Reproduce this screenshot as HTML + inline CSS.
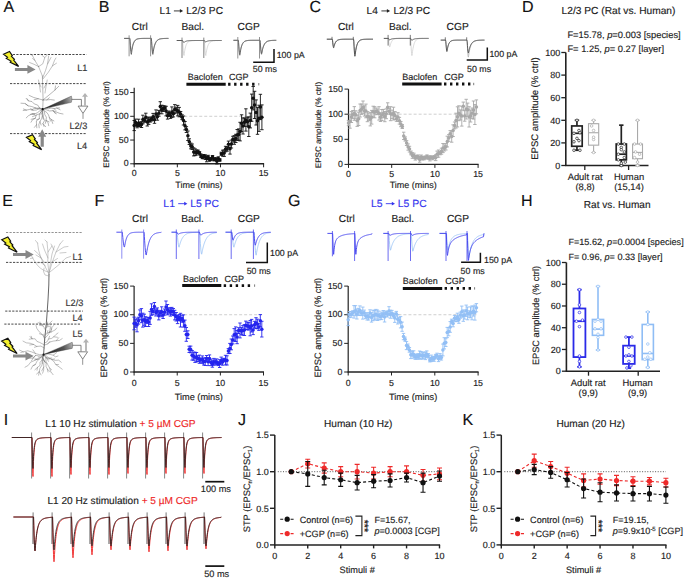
<!DOCTYPE html>
<html><head><meta charset="utf-8"><style>
html,body{margin:0;padding:0;background:#fff;}
svg{display:block;font-family:"Liberation Sans", sans-serif;text-rendering:geometricPrecision;}
</style></head><body>
<svg width="685" height="578" viewBox="0 0 685 578">
<rect width="685" height="578" fill="#fff"/>
<text x="3.50" y="12.40" font-size="16" fill="#111" stroke="#111" stroke-width="0.15" text-anchor="start" >A</text>
<text x="98.80" y="12.40" font-size="16" fill="#111" stroke="#111" stroke-width="0.15" text-anchor="start" >B</text>
<text x="309.60" y="12.40" font-size="16" fill="#111" stroke="#111" stroke-width="0.15" text-anchor="start" >C</text>
<text x="521.90" y="12.40" font-size="16" fill="#111" stroke="#111" stroke-width="0.15" text-anchor="start" >D</text>
<text x="2.20" y="205.90" font-size="16" fill="#111" stroke="#111" stroke-width="0.15" text-anchor="start" >E</text>
<text x="94.50" y="205.90" font-size="16" fill="#111" stroke="#111" stroke-width="0.15" text-anchor="start" >F</text>
<text x="287.90" y="205.90" font-size="16" fill="#111" stroke="#111" stroke-width="0.15" text-anchor="start" >G</text>
<text x="521.00" y="205.90" font-size="16" fill="#111" stroke="#111" stroke-width="0.15" text-anchor="start" >H</text>
<text x="3.80" y="425.00" font-size="16" fill="#111" stroke="#111" stroke-width="0.15" text-anchor="start" >I</text>
<text x="237.90" y="425.00" font-size="16" fill="#111" stroke="#111" stroke-width="0.15" text-anchor="start" >J</text>
<text x="462.50" y="425.20" font-size="16" fill="#111" stroke="#111" stroke-width="0.15" text-anchor="start" >K</text>
<text x="159.58" y="14.30" font-size="10.2" fill="#222" stroke="#222" stroke-width="0.15" text-anchor="start" >L1</text>
<line x1="173.90" y1="10.93" x2="180.60" y2="10.93" stroke="#222" stroke-width="0.9" />
<polygon points="179.90,9.03 183.10,10.93 179.90,12.83" fill="#222"/>
<text x="186.18" y="14.30" font-size="10.2" fill="#222" stroke="#222" stroke-width="0.15" text-anchor="start" >L2/3 PC</text>
<text x="131.80" y="30.20" font-size="10.2" fill="#222" stroke="#222" stroke-width="0.15" text-anchor="start" >Ctrl</text>
<text x="181.50" y="30.20" font-size="10.2" fill="#222" stroke="#222" stroke-width="0.15" text-anchor="start" >Bacl.</text>
<text x="237.60" y="30.20" font-size="10.2" fill="#222" stroke="#222" stroke-width="0.15" text-anchor="start" >CGP</text>
<path d="M124.10,38.40 L129.10,38.40 L129.35,38.40 L129.60,38.40 L129.85,38.40 L130.10,41.10 L130.35,44.30 L130.60,47.10 L130.85,49.30 L131.10,50.76 L131.35,51.38 L131.60,50.16 L131.85,48.78 L132.10,47.56 L132.35,46.48 L132.60,45.53 L132.85,44.70 L133.10,43.96 L133.35,43.30 L133.60,42.73 L133.85,42.22 L134.10,41.77 L134.35,41.37 L134.60,41.02 L134.85,40.72 L135.10,40.44 L135.35,40.20 L135.60,39.99 L135.85,39.80 L136.10,39.64 L136.35,39.49 L136.60,39.37 L136.85,39.25 L137.10,39.15 L137.35,39.06 L137.60,38.99 L137.85,38.92 L138.10,38.86 L138.35,38.80 L138.60,38.76 L138.85,38.71 L139.10,38.68 L139.35,38.64 L139.60,38.62 L139.85,38.59 L140.10,38.57 L140.35,38.55 L140.60,38.53 L140.85,38.52 L141.10,38.50 L141.35,38.49 L141.60,38.48 L141.85,38.47 L142.10,38.46 L142.35,38.45 L142.60,38.45 L142.85,38.44 L143.10,38.44 L143.35,38.43 L143.60,38.43 L143.85,38.43 L144.10,38.42 L144.35,38.42 L144.60,38.42 L144.85,38.42 L145.10,38.41 L145.35,38.41 L145.60,38.41 L145.85,38.41 L146.10,38.41 L146.35,38.41 L146.60,38.41 L146.85,38.41 L147.10,38.41 L147.35,38.40 L147.60,38.40 L147.85,38.40 L148.10,38.40 L148.35,38.40 L148.60,38.40 L148.85,38.40 L149.10,38.40 L149.35,38.40 L149.60,38.40 L149.85,38.40 L150.10,38.40 L150.60,38.40 L150.85,38.40 L151.10,38.40 L151.35,38.40 L151.60,41.31 L151.85,44.76 L152.10,47.77 L152.35,50.14 L152.60,51.71 L152.85,52.38 L153.10,51.23 L153.35,49.91 L153.60,48.73 L153.85,47.66 L154.10,46.71 L154.35,45.85 L154.60,45.09 L154.85,44.40 L155.10,43.78 L155.35,43.23 L155.60,42.73 L155.85,42.28 L156.10,41.88 L156.35,41.52 L156.60,41.20 L156.85,40.91 L157.10,40.65 L157.35,40.42 L157.60,40.21 L157.85,40.03 L158.10,39.86 L158.35,39.71 L158.60,39.57 L158.85,39.45 L159.10,39.34 L159.35,39.25 L159.60,39.16 L159.85,39.08 L160.10,39.01 L160.35,38.95 L160.60,38.89 L160.85,38.84 L161.10,38.80 L161.35,38.76 L161.60,38.72 L161.85,38.69 L162.10,38.66 L162.35,38.63 L162.60,38.61 L162.85,38.59 L163.10,38.57 L163.35,38.55 L163.60,38.53 L163.85,38.52 L164.10,38.51 L164.35,38.50 L164.60,38.49 L164.85,38.48 L165.10,38.47 L165.35,38.46 L165.60,38.46 L165.85,38.45 L166.10,38.45 L166.35,38.44 L166.60,38.44 L166.85,38.43 L167.10,38.43 L167.35,38.43 L167.60,38.42 L167.85,38.42 L168.10,38.42 L168.50,38.40" stroke="#999" stroke-width="0.8" fill="none" stroke-linejoin="round"/>
<path d="M124.10,38.40 L129.10,38.40 L129.35,38.40 L129.60,38.40 L129.85,38.40 L130.10,41.73 L130.35,45.66 L130.60,49.11 L130.85,51.82 L131.10,53.62 L131.35,54.38 L131.60,52.72 L131.85,50.86 L132.10,49.24 L132.35,47.84 L132.60,46.61 L132.85,45.55 L133.10,44.62 L133.35,43.82 L133.60,43.11 L133.85,42.50 L134.10,41.97 L134.35,41.51 L134.60,41.10 L134.85,40.75 L135.10,40.45 L135.35,40.18 L135.60,39.95 L135.85,39.75 L136.10,39.58 L136.35,39.42 L136.60,39.29 L136.85,39.17 L137.10,39.07 L137.35,38.99 L137.60,38.91 L137.85,38.84 L138.10,38.79 L138.35,38.74 L138.60,38.69 L138.85,38.66 L139.10,38.62 L139.35,38.59 L139.60,38.57 L139.85,38.55 L140.10,38.53 L140.35,38.51 L140.60,38.50 L140.85,38.48 L141.10,38.47 L141.35,38.46 L141.60,38.46 L141.85,38.45 L142.10,38.44 L142.35,38.44 L142.60,38.43 L142.85,38.43 L143.10,38.42 L143.35,38.42 L143.60,38.42 L143.85,38.42 L144.10,38.41 L144.35,38.41 L144.60,38.41 L144.85,38.41 L145.10,38.41 L145.35,38.41 L145.60,38.41 L145.85,38.41 L146.10,38.40 L146.35,38.40 L146.60,38.40 L146.85,38.40 L147.10,38.40 L147.35,38.40 L147.60,38.40 L147.85,38.40 L148.10,38.40 L148.35,38.40 L148.60,38.40 L148.85,38.40 L149.10,38.40 L149.35,38.40 L149.60,38.40 L149.85,38.40 L150.10,38.40 L150.60,38.40 L150.85,38.40 L151.10,38.40 L151.35,38.40 L151.60,41.73 L151.85,45.66 L152.10,49.11 L152.35,51.82 L152.60,53.62 L152.85,54.38 L153.10,52.95 L153.35,51.31 L153.60,49.86 L153.85,48.58 L154.10,47.44 L154.35,46.42 L154.60,45.52 L154.85,44.72 L155.10,44.01 L155.35,43.38 L155.60,42.82 L155.85,42.33 L156.10,41.89 L156.35,41.49 L156.60,41.15 L156.85,40.84 L157.10,40.57 L157.35,40.32 L157.60,40.11 L157.85,39.92 L158.10,39.75 L158.35,39.59 L158.60,39.46 L158.85,39.34 L159.10,39.24 L159.35,39.14 L159.60,39.06 L159.85,38.98 L160.10,38.92 L160.35,38.86 L160.60,38.81 L160.85,38.76 L161.10,38.72 L161.35,38.69 L161.60,38.65 L161.85,38.63 L162.10,38.60 L162.35,38.58 L162.60,38.56 L162.85,38.54 L163.10,38.52 L163.35,38.51 L163.60,38.50 L163.85,38.49 L164.10,38.48 L164.35,38.47 L164.60,38.46 L164.85,38.45 L165.10,38.45 L165.35,38.44 L165.60,38.44 L165.85,38.43 L166.10,38.43 L166.35,38.43 L166.60,38.42 L166.85,38.42 L167.10,38.42 L167.35,38.42 L167.60,38.41 L167.85,38.41 L168.10,38.41 L168.50,38.40" stroke="#555" stroke-width="0.85" fill="none" stroke-linejoin="round"/>
<line x1="129.10" y1="35.30" x2="129.10" y2="56.30" stroke="#777" stroke-width="0.8" />
<line x1="150.60" y1="35.30" x2="150.60" y2="56.30" stroke="#777" stroke-width="0.8" />
<path d="M176.70,40.50 L182.00,40.50 L182.25,40.50 L182.50,40.50 L182.75,43.01 L183.00,47.01 L183.25,50.50 L183.50,53.20 L183.75,54.91 L184.00,55.50 L184.25,53.55 L184.50,51.86 L184.75,50.39 L185.00,49.11 L185.25,47.99 L185.50,47.02 L185.75,46.17 L186.00,45.44 L186.25,44.80 L186.50,44.24 L186.75,43.76 L187.00,43.33 L187.25,42.97 L187.50,42.65 L187.75,42.37 L188.00,42.13 L188.25,41.91 L188.50,41.73 L188.75,41.57 L189.00,41.43 L189.25,41.31 L189.50,41.21 L189.75,41.11 L190.00,41.04 L190.25,40.97 L190.50,40.91 L190.75,40.85 L191.00,40.81 L191.25,40.77 L191.50,40.73 L191.75,40.70 L192.00,40.68 L192.25,40.65 L192.50,40.63 L192.75,40.62 L193.00,40.60 L193.25,40.59 L193.50,40.58 L193.75,40.57 L194.00,40.56 L194.25,40.55 L194.50,40.54 L194.75,40.54 L195.00,40.53 L195.25,40.53 L195.50,40.53 L195.75,40.52 L196.00,40.52 L196.25,40.52 L196.50,40.51 L196.75,40.51 L197.00,40.51 L197.25,40.51 L197.50,40.51 L197.75,40.51 L198.00,40.51 L198.25,40.51 L198.50,40.50 L198.75,40.50 L199.00,40.50 L199.25,40.50 L199.50,40.50 L199.75,40.50 L200.00,40.50 L200.25,40.50 L200.50,40.50 L200.75,40.50 L201.00,40.50 L201.25,40.50 L201.50,40.50 L201.75,40.50 L202.00,40.50 L202.25,40.50 L202.50,40.50 L202.75,40.50 L203.00,40.50 L203.25,40.50 L203.50,40.50 L203.80,40.50 L204.05,40.50 L204.30,40.50 L204.55,43.01 L204.80,47.01 L205.05,50.50 L205.30,53.20 L205.55,54.91 L205.80,55.50 L206.05,53.74 L206.30,52.18 L206.55,50.81 L206.80,49.60 L207.05,48.53 L207.30,47.59 L207.55,46.75 L207.80,46.02 L208.05,45.37 L208.30,44.80 L208.55,44.29 L208.80,43.85 L209.05,43.45 L209.30,43.11 L209.55,42.80 L209.80,42.53 L210.05,42.29 L210.30,42.08 L210.55,41.90 L210.80,41.73 L211.05,41.59 L211.30,41.46 L211.55,41.35 L211.80,41.25 L212.05,41.16 L212.30,41.08 L212.55,41.01 L212.80,40.95 L213.05,40.90 L213.30,40.85 L213.55,40.81 L213.80,40.77 L214.05,40.74 L214.30,40.71 L214.55,40.69 L214.80,40.67 L215.05,40.65 L215.30,40.63 L215.55,40.61 L215.80,40.60 L216.05,40.59 L216.30,40.58 L216.55,40.57 L216.80,40.56 L217.05,40.55 L217.30,40.55 L217.55,40.54 L217.80,40.54 L218.05,40.53 L218.30,40.53 L218.55,40.53 L218.80,40.52 L219.05,40.52 L219.30,40.52 L219.55,40.52 L219.80,40.51 L220.05,40.51 L220.30,40.51 L220.55,40.51 L220.80,40.51 L221.05,40.51 L221.30,40.51 L221.70,40.50" stroke="#cfcfcf" stroke-width="0.8" fill="none" stroke-linejoin="round"/>
<path d="M176.70,40.50 L182.00,40.50 L182.25,40.50 L182.50,40.50 L182.75,40.84 L183.00,41.37 L183.25,41.83 L183.50,42.19 L183.75,42.42 L184.00,42.50 L184.25,42.26 L184.50,42.06 L184.75,41.87 L185.00,41.71 L185.25,41.57 L185.50,41.44 L185.75,41.33 L186.00,41.24 L186.25,41.15 L186.50,41.07 L186.75,41.01 L187.00,40.95 L187.25,40.89 L187.50,40.85 L187.75,40.81 L188.00,40.77 L188.25,40.74 L188.50,40.71 L188.75,40.69 L189.00,40.66 L189.25,40.64 L189.50,40.63 L189.75,40.61 L190.00,40.60 L190.25,40.59 L190.50,40.58 L190.75,40.57 L191.00,40.56 L191.25,40.55 L191.50,40.55 L191.75,40.54 L192.00,40.54 L192.25,40.53 L192.50,40.53 L192.75,40.53 L193.00,40.52 L193.25,40.52 L193.50,40.52 L193.75,40.52 L194.00,40.51 L194.25,40.51 L194.50,40.51 L194.75,40.51 L195.00,40.51 L195.25,40.51 L195.50,40.51 L195.75,40.51 L196.00,40.50 L196.25,40.50 L196.50,40.50 L196.75,40.50 L197.00,40.50 L197.25,40.50 L197.50,40.50 L197.75,40.50 L198.00,40.50 L198.25,40.50 L198.50,40.50 L198.75,40.50 L199.00,40.50 L199.25,40.50 L199.50,40.50 L199.75,40.50 L200.00,40.50 L200.25,40.50 L200.50,40.50 L200.75,40.50 L201.00,40.50 L201.25,40.50 L201.50,40.50 L201.75,40.50 L202.00,40.50 L202.25,40.50 L202.50,40.50 L202.75,40.50 L203.00,40.50 L203.25,40.50 L203.50,40.50 L203.80,40.50 L204.05,40.50 L204.30,40.50 L204.55,40.75 L204.80,41.15 L205.05,41.50 L205.30,41.77 L205.55,41.94 L205.80,42.00 L206.05,41.82 L206.30,41.67 L206.55,41.53 L206.80,41.41 L207.05,41.30 L207.30,41.21 L207.55,41.13 L207.80,41.05 L208.05,40.99 L208.30,40.93 L208.55,40.88 L208.80,40.83 L209.05,40.80 L209.30,40.76 L209.55,40.73 L209.80,40.70 L210.05,40.68 L210.30,40.66 L210.55,40.64 L210.80,40.62 L211.05,40.61 L211.30,40.60 L211.55,40.58 L211.80,40.57 L212.05,40.57 L212.30,40.56 L212.55,40.55 L212.80,40.55 L213.05,40.54 L213.30,40.54 L213.55,40.53 L213.80,40.53 L214.05,40.52 L214.30,40.52 L214.55,40.52 L214.80,40.52 L215.05,40.51 L215.30,40.51 L215.55,40.51 L215.80,40.51 L216.05,40.51 L216.30,40.51 L216.55,40.51 L216.80,40.51 L217.05,40.51 L217.30,40.50 L217.55,40.50 L217.80,40.50 L218.05,40.50 L218.30,40.50 L218.55,40.50 L218.80,40.50 L219.05,40.50 L219.30,40.50 L219.55,40.50 L219.80,40.50 L220.05,40.50 L220.30,40.50 L220.55,40.50 L220.80,40.50 L221.05,40.50 L221.30,40.50 L221.70,40.50" stroke="#444" stroke-width="0.85" fill="none" stroke-linejoin="round"/>
<line x1="182.00" y1="37.60" x2="182.00" y2="58.00" stroke="#666" stroke-width="0.8" />
<line x1="203.80" y1="37.60" x2="203.80" y2="58.00" stroke="#666" stroke-width="0.8" />
<path d="M233.40,40.30 L237.80,40.30 L238.05,40.30 L238.30,40.30 L238.55,42.33 L238.80,45.59 L239.05,48.48 L239.30,50.82 L239.55,52.44 L239.80,53.23 L240.05,52.36 L240.30,50.94 L240.55,49.69 L240.80,48.59 L241.05,47.62 L241.30,46.76 L241.55,46.00 L241.80,45.33 L242.05,44.74 L242.30,44.22 L242.55,43.76 L242.80,43.35 L243.05,42.99 L243.30,42.67 L243.55,42.40 L243.80,42.15 L244.05,41.93 L244.30,41.74 L244.55,41.57 L244.80,41.42 L245.05,41.29 L245.30,41.17 L245.55,41.07 L245.80,40.98 L246.05,40.90 L246.30,40.83 L246.55,40.77 L246.80,40.71 L247.05,40.66 L247.30,40.62 L247.55,40.58 L247.80,40.55 L248.05,40.52 L248.30,40.49 L248.55,40.47 L248.80,40.45 L249.05,40.43 L249.30,40.42 L249.55,40.40 L249.80,40.39 L250.05,40.38 L250.30,40.37 L250.55,40.36 L250.80,40.36 L251.05,40.35 L251.30,40.34 L251.55,40.34 L251.80,40.33 L252.05,40.33 L252.30,40.33 L252.55,40.32 L252.80,40.32 L253.05,40.32 L253.30,40.32 L253.55,40.31 L253.80,40.31 L254.05,40.31 L254.30,40.31 L254.55,40.31 L254.80,40.31 L255.05,40.31 L255.30,40.31 L255.55,40.31 L255.80,40.30 L256.05,40.30 L256.30,40.30 L256.55,40.30 L256.80,40.30 L257.05,40.30 L257.30,40.30 L257.55,40.30 L257.80,40.30 L258.05,40.30 L258.30,40.30 L258.55,40.30 L258.80,40.30 L259.05,40.30 L259.50,40.30 L259.75,40.30 L260.00,40.30 L260.25,42.33 L260.50,45.59 L260.75,48.48 L261.00,50.82 L261.25,52.44 L261.50,53.23 L261.75,52.51 L262.00,51.30 L262.25,50.22 L262.50,49.23 L262.75,48.35 L263.00,47.55 L263.25,46.84 L263.50,46.19 L263.75,45.61 L264.00,45.08 L264.25,44.61 L264.50,44.18 L264.75,43.80 L265.00,43.45 L265.25,43.14 L265.50,42.86 L265.75,42.61 L266.00,42.38 L266.25,42.17 L266.50,41.99 L266.75,41.82 L267.00,41.67 L267.25,41.53 L267.50,41.41 L267.75,41.30 L268.00,41.20 L268.25,41.11 L268.50,41.03 L268.75,40.96 L269.00,40.90 L269.25,40.84 L269.50,40.78 L269.75,40.74 L270.00,40.69 L270.25,40.65 L270.50,40.62 L270.75,40.59 L271.00,40.56 L271.25,40.53 L271.50,40.51 L271.75,40.49 L272.00,40.47 L272.25,40.45 L272.50,40.44 L272.75,40.42 L273.00,40.41 L273.25,40.40 L273.50,40.39 L273.75,40.38 L274.00,40.37 L274.25,40.37 L274.50,40.36 L274.75,40.35 L275.00,40.35 L275.25,40.34 L275.50,40.34 L275.75,40.34 L276.00,40.33 L276.30,40.30" stroke="#999" stroke-width="0.8" fill="none" stroke-linejoin="round"/>
<path d="M233.40,40.30 L237.80,40.30 L238.05,40.30 L238.30,40.30 L238.55,42.65 L238.80,46.40 L239.05,49.74 L239.30,52.44 L239.55,54.30 L239.80,55.22 L240.05,54.10 L240.30,52.31 L240.55,50.75 L240.80,49.40 L241.05,48.22 L241.30,47.19 L241.55,46.30 L241.80,45.52 L242.05,44.84 L242.30,44.25 L242.55,43.74 L242.80,43.29 L243.05,42.91 L243.30,42.57 L243.55,42.27 L243.80,42.02 L244.05,41.80 L244.30,41.60 L244.55,41.43 L244.80,41.29 L245.05,41.16 L245.30,41.05 L245.55,40.95 L245.80,40.87 L246.05,40.79 L246.30,40.73 L246.55,40.67 L246.80,40.62 L247.05,40.58 L247.30,40.55 L247.55,40.51 L247.80,40.49 L248.05,40.46 L248.30,40.44 L248.55,40.42 L248.80,40.41 L249.05,40.39 L249.30,40.38 L249.55,40.37 L249.80,40.36 L250.05,40.35 L250.30,40.35 L250.55,40.34 L250.80,40.34 L251.05,40.33 L251.30,40.33 L251.55,40.32 L251.80,40.32 L252.05,40.32 L252.30,40.32 L252.55,40.31 L252.80,40.31 L253.05,40.31 L253.30,40.31 L253.55,40.31 L253.80,40.31 L254.05,40.31 L254.30,40.31 L254.55,40.30 L254.80,40.30 L255.05,40.30 L255.30,40.30 L255.55,40.30 L255.80,40.30 L256.05,40.30 L256.30,40.30 L256.55,40.30 L256.80,40.30 L257.05,40.30 L257.30,40.30 L257.55,40.30 L257.80,40.30 L258.05,40.30 L258.30,40.30 L258.55,40.30 L258.80,40.30 L259.05,40.30 L259.50,40.30 L259.75,40.30 L260.00,40.30 L260.25,42.49 L260.50,45.99 L260.75,49.11 L261.00,51.63 L261.25,53.37 L261.50,54.22 L261.75,53.38 L262.00,51.97 L262.25,50.72 L262.50,49.60 L262.75,48.60 L263.00,47.71 L263.25,46.91 L263.50,46.20 L263.75,45.57 L264.00,45.00 L264.25,44.50 L264.50,44.05 L264.75,43.64 L265.00,43.29 L265.25,42.96 L265.50,42.68 L265.75,42.42 L266.00,42.19 L266.25,41.99 L266.50,41.81 L266.75,41.65 L267.00,41.50 L267.25,41.37 L267.50,41.26 L267.75,41.16 L268.00,41.06 L268.25,40.98 L268.50,40.91 L268.75,40.84 L269.00,40.78 L269.25,40.73 L269.50,40.69 L269.75,40.64 L270.00,40.61 L270.25,40.57 L270.50,40.55 L270.75,40.52 L271.00,40.50 L271.25,40.47 L271.50,40.46 L271.75,40.44 L272.00,40.42 L272.25,40.41 L272.50,40.40 L272.75,40.39 L273.00,40.38 L273.25,40.37 L273.50,40.36 L273.75,40.36 L274.00,40.35 L274.25,40.34 L274.50,40.34 L274.75,40.34 L275.00,40.33 L275.25,40.33 L275.50,40.33 L275.75,40.32 L276.00,40.32 L276.30,40.30" stroke="#555" stroke-width="0.85" fill="none" stroke-linejoin="round"/>
<line x1="237.80" y1="37.00" x2="237.80" y2="58.50" stroke="#777" stroke-width="0.8" />
<line x1="259.50" y1="37.00" x2="259.50" y2="58.50" stroke="#777" stroke-width="0.8" />
<path d="M253.2,62.2 H274 V49" stroke="#111" stroke-width="1.5" fill="none" />
<text x="276.70" y="58.00" font-size="8.85" fill="#222" stroke="#222" stroke-width="0.15" text-anchor="start" >100 pA</text>
<text x="252.80" y="72.40" font-size="8.85" fill="#222" stroke="#222" stroke-width="0.15" text-anchor="start" >50 ms</text>
<line x1="184.23" y1="116.30" x2="263.60" y2="116.30" stroke="#c4c4c4" stroke-width="0.8" stroke-dasharray="3,2"/>
<line x1="134.20" y1="87.80" x2="134.20" y2="164.30" stroke="#222" stroke-width="1.2" />
<line x1="133.70" y1="163.80" x2="264.10" y2="163.80" stroke="#222" stroke-width="1.4" />
<line x1="130.20" y1="163.80" x2="134.20" y2="163.80" stroke="#222" stroke-width="1" />
<text x="128.60" y="166.35" font-size="8.8" fill="#222" stroke="#222" stroke-width="0.15" text-anchor="end" >0</text>
<line x1="130.20" y1="140.05" x2="134.20" y2="140.05" stroke="#222" stroke-width="1" />
<text x="128.60" y="142.60" font-size="8.8" fill="#222" stroke="#222" stroke-width="0.15" text-anchor="end" >50</text>
<line x1="130.20" y1="116.30" x2="134.20" y2="116.30" stroke="#222" stroke-width="1" />
<text x="128.60" y="118.85" font-size="8.8" fill="#222" stroke="#222" stroke-width="0.15" text-anchor="end" >100</text>
<line x1="130.20" y1="92.55" x2="134.20" y2="92.55" stroke="#222" stroke-width="1" />
<text x="128.60" y="95.10" font-size="8.8" fill="#222" stroke="#222" stroke-width="0.15" text-anchor="end" >150</text>
<line x1="134.20" y1="163.80" x2="134.20" y2="167.30" stroke="#222" stroke-width="1" />
<text x="134.20" y="176.30" font-size="8.8" fill="#222" stroke="#222" stroke-width="0.15" text-anchor="middle" >0</text>
<line x1="177.33" y1="163.80" x2="177.33" y2="167.30" stroke="#222" stroke-width="1" />
<text x="177.33" y="176.30" font-size="8.8" fill="#222" stroke="#222" stroke-width="0.15" text-anchor="middle" >5</text>
<line x1="220.47" y1="163.80" x2="220.47" y2="167.30" stroke="#222" stroke-width="1" />
<text x="220.47" y="176.30" font-size="8.8" fill="#222" stroke="#222" stroke-width="0.15" text-anchor="middle" >10</text>
<line x1="263.60" y1="163.80" x2="263.60" y2="167.30" stroke="#222" stroke-width="1" />
<text x="263.60" y="176.30" font-size="8.8" fill="#222" stroke="#222" stroke-width="0.15" text-anchor="middle" >15</text>
<text x="198.90" y="188.00" font-size="9.0" fill="#222" stroke="#222" stroke-width="0.15" text-anchor="middle" >Time (mins)</text>
<text x="108.60" y="124.50" font-size="8.0" fill="#222" stroke="#222" stroke-width="0.15" text-anchor="middle" transform="rotate(-90 108.6 124.5)" >EPSC amplitude (% ctrl)</text>
<path d="M134.2,120.5V130.6M132.5,120.5h3.4M132.5,130.6h3.4M135.7,119.1V126.0M134.0,119.1h3.4M134.0,126.0h3.4M137.1,122.7V127.8M135.4,122.7h3.4M135.4,127.8h3.4M138.6,119.2V126.5M136.9,119.2h3.4M136.9,126.5h3.4M140.0,122.4V126.8M138.3,122.4h3.4M138.3,126.8h3.4M141.5,121.6V127.5M139.8,121.6h3.4M139.8,127.5h3.4M142.9,115.2V123.8M141.2,115.2h3.4M141.2,123.8h3.4M144.4,118.2V122.3M142.7,118.2h3.4M142.7,122.3h3.4M145.8,113.2V121.4M144.1,113.2h3.4M144.1,121.4h3.4M147.3,118.0V126.0M145.6,118.0h3.4M145.6,126.0h3.4M148.7,117.0V124.4M147.0,117.0h3.4M147.0,124.4h3.4M150.2,117.8V122.1M148.5,117.8h3.4M148.5,122.1h3.4M151.6,117.0V121.0M149.9,117.0h3.4M149.9,121.0h3.4M153.1,113.4V120.3M151.4,113.4h3.4M151.4,120.3h3.4M154.5,116.0V123.3M152.8,116.0h3.4M152.8,123.3h3.4M156.0,109.9V118.1M154.3,109.9h3.4M154.3,118.1h3.4M157.4,113.3V120.2M155.7,113.3h3.4M155.7,120.2h3.4M158.9,110.4V116.2M157.2,110.4h3.4M157.2,116.2h3.4M160.3,101.7V111.2M158.6,101.7h3.4M158.6,111.2h3.4M161.8,105.2V113.8M160.1,105.2h3.4M160.1,113.8h3.4M163.2,105.8V111.5M161.5,105.8h3.4M161.5,111.5h3.4M164.7,105.9V110.2M163.0,105.9h3.4M163.0,110.2h3.4M166.1,106.3V115.9M164.4,106.3h3.4M164.4,115.9h3.4M167.6,112.6V119.1M165.9,112.6h3.4M165.9,119.1h3.4M169.0,111.0V114.8M167.3,111.0h3.4M167.3,114.8h3.4M170.5,113.2V118.4M168.8,113.2h3.4M168.8,118.4h3.4M171.9,106.9V117.4M170.2,106.9h3.4M170.2,117.4h3.4M173.4,110.4V116.9M171.7,110.4h3.4M171.7,116.9h3.4M174.8,104.6V113.7M173.1,104.6h3.4M173.1,113.7h3.4M176.3,107.2V112.8M174.6,107.2h3.4M174.6,112.8h3.4M177.7,105.4V115.9M176.0,105.4h3.4M176.0,115.9h3.4M179.2,107.4V116.8M177.5,107.4h3.4M177.5,116.8h3.4M180.6,111.5V116.4M178.9,111.5h3.4M178.9,116.4h3.4M182.1,114.8V119.6M180.4,114.8h3.4M180.4,119.6h3.4M183.5,116.0V125.0M181.8,116.0h3.4M181.8,125.0h3.4M185.0,121.5V129.9M183.3,121.5h3.4M183.3,129.9h3.4M186.4,126.7V132.5M184.7,126.7h3.4M184.7,132.5h3.4M187.9,131.0V140.5M186.2,131.0h3.4M186.2,140.5h3.4M189.3,138.8V144.5M187.6,138.8h3.4M187.6,144.5h3.4M190.8,143.1V148.8M189.1,143.1h3.4M189.1,148.8h3.4M192.2,144.0V149.5M190.5,144.0h3.4M190.5,149.5h3.4M193.7,147.8V155.9M192.0,147.8h3.4M192.0,155.9h3.4M195.1,148.8V155.6M193.4,148.8h3.4M193.4,155.6h3.4M196.6,149.9V155.0M194.9,149.9h3.4M194.9,155.0h3.4M198.0,150.1V153.4M196.3,150.1h3.4M196.3,153.4h3.4M199.5,151.6V154.9M197.8,151.6h3.4M197.8,154.9h3.4M200.9,154.0V157.5M199.2,154.0h3.4M199.2,157.5h3.4M202.4,156.2V158.7M200.7,156.2h3.4M200.7,158.7h3.4M203.8,154.5V157.7M202.1,154.5h3.4M202.1,157.7h3.4M205.3,154.9V159.5M203.6,154.9h3.4M203.6,159.5h3.4M206.7,155.9V161.8M205.0,155.9h3.4M205.0,161.8h3.4M208.2,155.3V159.3M206.5,155.3h3.4M206.5,159.3h3.4M209.6,158.4V161.2M207.9,158.4h3.4M207.9,161.2h3.4M211.1,157.6V160.3M209.4,157.6h3.4M209.4,160.3h3.4M212.5,155.5V158.4M210.8,155.5h3.4M210.8,158.4h3.4M214.0,158.2V160.9M212.3,158.2h3.4M212.3,160.9h3.4M215.4,157.7V160.4M213.7,157.7h3.4M213.7,160.4h3.4M216.9,158.6V163.9M215.2,158.6h3.4M215.2,163.9h3.4M218.3,156.8V160.2M216.6,156.8h3.4M216.6,160.2h3.4M219.8,158.8V161.1M218.1,158.8h3.4M218.1,161.1h3.4M221.3,152.2V155.3M219.6,152.2h3.4M219.6,155.3h3.4M222.7,150.2V156.2M221.0,150.2h3.4M221.0,156.2h3.4M224.2,149.9V156.4M222.5,149.9h3.4M222.5,156.4h3.4M225.6,146.3V151.8M223.9,146.3h3.4M223.9,151.8h3.4M227.1,146.6V151.2M225.4,146.6h3.4M225.4,151.2h3.4M228.5,141.1V147.5M226.8,141.1h3.4M226.8,147.5h3.4M230.0,143.6V154.1M228.3,143.6h3.4M228.3,154.1h3.4M231.4,140.1V148.0M229.7,140.1h3.4M229.7,148.0h3.4M232.9,136.3V142.1M231.2,136.3h3.4M231.2,142.1h3.4M234.3,135.6V144.3M232.6,135.6h3.4M232.6,144.3h3.4M235.8,134.3V142.5M234.1,134.3h3.4M234.1,142.5h3.4M237.2,129.5V140.4M235.5,129.5h3.4M235.5,140.4h3.4M238.7,128.9V140.2M237.0,128.9h3.4M237.0,140.2h3.4M240.1,122.3V140.9M238.4,122.3h3.4M238.4,140.9h3.4M241.6,114.8V131.6M239.9,114.8h3.4M239.9,131.6h3.4M243.0,117.9V134.0M241.3,117.9h3.4M241.3,134.0h3.4M244.5,118.0V126.4M242.8,118.0h3.4M242.8,126.4h3.4M245.9,108.8V131.1M244.2,108.8h3.4M244.2,131.1h3.4M247.4,117.2V126.3M245.7,117.2h3.4M245.7,126.3h3.4M248.8,116.9V136.5M247.1,116.9h3.4M247.1,136.5h3.4M250.3,113.1V127.9M248.6,113.1h3.4M248.6,127.9h3.4M251.7,94.1V121.3M250.0,94.1h3.4M250.0,121.3h3.4M253.2,86.5V109.9M251.5,86.5h3.4M251.5,109.9h3.4M254.6,91.3V118.5M252.9,91.3h3.4M252.9,118.5h3.4M256.1,99.9V125.0M254.4,99.9h3.4M254.4,125.0h3.4M257.5,107.4V134.3M255.8,107.4h3.4M255.8,134.3h3.4M259.0,105.2V131.4M257.3,105.2h3.4M257.3,131.4h3.4M260.4,94.3V119.6M258.7,94.3h3.4M258.7,119.6h3.4M261.9,104.9V129.7M260.2,104.9h3.4M260.2,129.7h3.4" stroke="#111" stroke-width="0.9" fill="none" />
<circle cx="134.2" cy="125.5" r="1.75" fill="#111"/>
<circle cx="135.7" cy="122.6" r="1.75" fill="#111"/>
<circle cx="137.1" cy="125.2" r="1.75" fill="#111"/>
<circle cx="138.6" cy="122.9" r="1.75" fill="#111"/>
<circle cx="140.0" cy="124.6" r="1.75" fill="#111"/>
<circle cx="141.5" cy="124.5" r="1.75" fill="#111"/>
<circle cx="142.9" cy="119.5" r="1.75" fill="#111"/>
<circle cx="144.4" cy="120.2" r="1.75" fill="#111"/>
<circle cx="145.8" cy="117.3" r="1.75" fill="#111"/>
<circle cx="147.3" cy="122.0" r="1.75" fill="#111"/>
<circle cx="148.7" cy="120.7" r="1.75" fill="#111"/>
<circle cx="150.2" cy="119.9" r="1.75" fill="#111"/>
<circle cx="151.6" cy="119.0" r="1.75" fill="#111"/>
<circle cx="153.1" cy="116.8" r="1.75" fill="#111"/>
<circle cx="154.5" cy="119.7" r="1.75" fill="#111"/>
<circle cx="156.0" cy="114.0" r="1.75" fill="#111"/>
<circle cx="157.4" cy="116.8" r="1.75" fill="#111"/>
<circle cx="158.9" cy="113.3" r="1.75" fill="#111"/>
<circle cx="160.3" cy="106.4" r="1.75" fill="#111"/>
<circle cx="161.8" cy="109.5" r="1.75" fill="#111"/>
<circle cx="163.2" cy="108.6" r="1.75" fill="#111"/>
<circle cx="164.7" cy="108.1" r="1.75" fill="#111"/>
<circle cx="166.1" cy="111.1" r="1.75" fill="#111"/>
<circle cx="167.6" cy="115.8" r="1.75" fill="#111"/>
<circle cx="169.0" cy="112.9" r="1.75" fill="#111"/>
<circle cx="170.5" cy="115.8" r="1.75" fill="#111"/>
<circle cx="171.9" cy="112.2" r="1.75" fill="#111"/>
<circle cx="173.4" cy="113.7" r="1.75" fill="#111"/>
<circle cx="174.8" cy="109.2" r="1.75" fill="#111"/>
<circle cx="176.3" cy="110.0" r="1.75" fill="#111"/>
<circle cx="177.7" cy="110.7" r="1.75" fill="#111"/>
<circle cx="179.2" cy="112.1" r="1.75" fill="#111"/>
<circle cx="180.6" cy="114.0" r="1.75" fill="#111"/>
<circle cx="182.1" cy="117.2" r="1.75" fill="#111"/>
<circle cx="183.5" cy="120.5" r="1.75" fill="#111"/>
<circle cx="185.0" cy="125.7" r="1.75" fill="#111"/>
<circle cx="186.4" cy="129.6" r="1.75" fill="#111"/>
<circle cx="187.9" cy="135.8" r="1.75" fill="#111"/>
<circle cx="189.3" cy="141.7" r="1.75" fill="#111"/>
<circle cx="190.8" cy="145.9" r="1.75" fill="#111"/>
<circle cx="192.2" cy="146.7" r="1.75" fill="#111"/>
<circle cx="193.7" cy="151.9" r="1.75" fill="#111"/>
<circle cx="195.1" cy="152.2" r="1.75" fill="#111"/>
<circle cx="196.6" cy="152.5" r="1.75" fill="#111"/>
<circle cx="198.0" cy="151.7" r="1.75" fill="#111"/>
<circle cx="199.5" cy="153.3" r="1.75" fill="#111"/>
<circle cx="200.9" cy="155.7" r="1.75" fill="#111"/>
<circle cx="202.4" cy="157.4" r="1.75" fill="#111"/>
<circle cx="203.8" cy="156.1" r="1.75" fill="#111"/>
<circle cx="205.3" cy="157.2" r="1.75" fill="#111"/>
<circle cx="206.7" cy="158.8" r="1.75" fill="#111"/>
<circle cx="208.2" cy="157.3" r="1.75" fill="#111"/>
<circle cx="209.6" cy="159.8" r="1.75" fill="#111"/>
<circle cx="211.1" cy="159.0" r="1.75" fill="#111"/>
<circle cx="212.5" cy="157.0" r="1.75" fill="#111"/>
<circle cx="214.0" cy="159.6" r="1.75" fill="#111"/>
<circle cx="215.4" cy="159.1" r="1.75" fill="#111"/>
<circle cx="216.9" cy="161.3" r="1.75" fill="#111"/>
<circle cx="218.3" cy="158.5" r="1.75" fill="#111"/>
<circle cx="219.8" cy="159.9" r="1.75" fill="#111"/>
<circle cx="221.3" cy="153.8" r="1.75" fill="#111"/>
<circle cx="222.7" cy="153.2" r="1.75" fill="#111"/>
<circle cx="224.2" cy="153.1" r="1.75" fill="#111"/>
<circle cx="225.6" cy="149.0" r="1.75" fill="#111"/>
<circle cx="227.1" cy="148.9" r="1.75" fill="#111"/>
<circle cx="228.5" cy="144.3" r="1.75" fill="#111"/>
<circle cx="230.0" cy="148.8" r="1.75" fill="#111"/>
<circle cx="231.4" cy="144.1" r="1.75" fill="#111"/>
<circle cx="232.9" cy="139.2" r="1.75" fill="#111"/>
<circle cx="234.3" cy="139.9" r="1.75" fill="#111"/>
<circle cx="235.8" cy="138.4" r="1.75" fill="#111"/>
<circle cx="237.2" cy="135.0" r="1.75" fill="#111"/>
<circle cx="238.7" cy="134.6" r="1.75" fill="#111"/>
<circle cx="240.1" cy="131.6" r="1.75" fill="#111"/>
<circle cx="241.6" cy="123.2" r="1.75" fill="#111"/>
<circle cx="243.0" cy="126.0" r="1.75" fill="#111"/>
<circle cx="244.5" cy="122.2" r="1.75" fill="#111"/>
<circle cx="245.9" cy="119.9" r="1.75" fill="#111"/>
<circle cx="247.4" cy="121.8" r="1.75" fill="#111"/>
<circle cx="248.8" cy="126.7" r="1.75" fill="#111"/>
<circle cx="250.3" cy="120.5" r="1.75" fill="#111"/>
<circle cx="251.7" cy="107.7" r="1.75" fill="#111"/>
<circle cx="253.2" cy="98.2" r="1.75" fill="#111"/>
<circle cx="254.6" cy="104.9" r="1.75" fill="#111"/>
<circle cx="256.1" cy="112.4" r="1.75" fill="#111"/>
<circle cx="257.5" cy="120.8" r="1.75" fill="#111"/>
<circle cx="259.0" cy="118.3" r="1.75" fill="#111"/>
<circle cx="260.4" cy="107.0" r="1.75" fill="#111"/>
<circle cx="261.9" cy="117.3" r="1.75" fill="#111"/>
<line x1="186.40" y1="84.20" x2="225.70" y2="84.20" stroke="#111" stroke-width="3" />
<line x1="228.10" y1="84.20" x2="256.80" y2="84.20" stroke="#111" stroke-width="2.9" stroke-dasharray="2.4,3.6"/>
<line x1="258.80" y1="83.00" x2="258.80" y2="85.40" stroke="#444" stroke-width="0.7" />
<text x="187.78" y="79.70" font-size="9.0" fill="#222" stroke="#222" stroke-width="0.15" text-anchor="start" >Baclofen</text>
<text x="229.05" y="79.70" font-size="9.0" fill="#222" stroke="#222" stroke-width="0.15" text-anchor="start" >CGP</text>
<text x="366.58" y="14.30" font-size="10.2" fill="#222" stroke="#222" stroke-width="0.15" text-anchor="start" >L4</text>
<line x1="381.40" y1="10.93" x2="387.60" y2="10.93" stroke="#222" stroke-width="0.9" />
<polygon points="386.90,9.03 390.10,10.93 386.90,12.83" fill="#222"/>
<text x="393.38" y="14.30" font-size="10.2" fill="#222" stroke="#222" stroke-width="0.15" text-anchor="start" >L2/3 PC</text>
<text x="338.00" y="30.20" font-size="10.2" fill="#222" stroke="#222" stroke-width="0.15" text-anchor="start" >Ctrl</text>
<text x="389.00" y="30.20" font-size="10.2" fill="#222" stroke="#222" stroke-width="0.15" text-anchor="start" >Bacl.</text>
<text x="446.60" y="30.20" font-size="10.2" fill="#222" stroke="#222" stroke-width="0.15" text-anchor="start" >CGP</text>
<path d="M326.80,39.20 L332.00,39.20 L332.25,39.20 L332.50,40.10 L332.75,42.28 L333.00,44.17 L333.25,45.62 L333.50,46.48 L333.75,46.51 L334.00,45.66 L334.25,44.90 L334.50,44.23 L334.75,43.64 L335.00,43.12 L335.25,42.66 L335.50,42.25 L335.75,41.89 L336.00,41.57 L336.25,41.30 L336.50,41.05 L336.75,40.83 L337.00,40.64 L337.25,40.47 L337.50,40.32 L337.75,40.19 L338.00,40.07 L338.25,39.97 L338.50,39.88 L338.75,39.80 L339.00,39.73 L339.25,39.67 L339.50,39.61 L339.75,39.56 L340.00,39.52 L340.25,39.48 L340.50,39.45 L340.75,39.42 L341.00,39.39 L341.25,39.37 L341.50,39.35 L341.75,39.33 L342.00,39.32 L342.25,39.30 L342.50,39.29 L342.75,39.28 L343.00,39.27 L343.25,39.26 L343.50,39.26 L343.75,39.25 L344.00,39.24 L344.25,39.24 L344.50,39.23 L344.75,39.23 L345.00,39.23 L345.25,39.22 L345.50,39.22 L345.75,39.22 L346.00,39.22 L346.25,39.21 L346.50,39.21 L346.75,39.21 L347.00,39.21 L347.25,39.21 L347.50,39.21 L347.75,39.21 L348.00,39.21 L348.25,39.21 L348.50,39.20 L348.75,39.20 L349.00,39.20 L349.25,39.20 L349.50,39.20 L349.75,39.20 L350.00,39.20 L350.25,39.20 L350.50,39.20 L350.75,39.20 L351.00,39.20 L351.25,39.20 L351.50,39.20 L351.75,39.20 L352.00,39.20 L352.25,39.20 L352.50,39.20 L352.75,39.20 L353.00,39.20 L353.30,39.20 L353.55,39.20 L353.80,41.01 L354.05,45.36 L354.30,49.15 L354.55,52.04 L354.80,53.76 L355.05,53.83 L355.30,52.11 L355.55,50.59 L355.80,49.25 L356.05,48.07 L356.30,47.03 L356.55,46.11 L356.80,45.30 L357.05,44.58 L357.30,43.95 L357.55,43.39 L357.80,42.90 L358.05,42.46 L358.30,42.08 L358.55,41.74 L358.80,41.44 L359.05,41.18 L359.30,40.95 L359.55,40.74 L359.80,40.56 L360.05,40.40 L360.30,40.26 L360.55,40.14 L360.80,40.03 L361.05,39.93 L361.30,39.84 L361.55,39.77 L361.80,39.70 L362.05,39.64 L362.30,39.59 L362.55,39.54 L362.80,39.50 L363.05,39.47 L363.30,39.44 L363.55,39.41 L363.80,39.38 L364.05,39.36 L364.30,39.34 L364.55,39.33 L364.80,39.31 L365.05,39.30 L365.30,39.29 L365.55,39.28 L365.80,39.27 L366.05,39.26 L366.30,39.25 L366.55,39.25 L366.80,39.24 L367.05,39.24 L367.30,39.23 L367.55,39.23 L367.80,39.22 L368.05,39.22 L368.30,39.22 L368.55,39.22 L368.80,39.22 L369.05,39.21 L369.30,39.21 L369.55,39.21 L369.80,39.21 L370.05,39.21 L370.30,39.21 L370.55,39.21 L370.80,39.21 L371.05,39.20 L371.30,39.20 L371.55,39.20 L371.80,39.20 L372.05,39.20 L372.30,39.20 L372.55,39.20 L373.00,39.20" stroke="#999" stroke-width="0.8" fill="none" stroke-linejoin="round"/>
<path d="M326.80,39.20 L332.00,39.20 L332.25,39.20 L332.50,40.26 L332.75,42.81 L333.00,45.04 L333.25,46.73 L333.50,47.74 L333.75,47.76 L334.00,46.65 L334.25,45.68 L334.50,44.84 L334.75,44.11 L335.00,43.47 L335.25,42.92 L335.50,42.44 L335.75,42.02 L336.00,41.65 L336.25,41.33 L336.50,41.06 L336.75,40.82 L337.00,40.61 L337.25,40.42 L337.50,40.27 L337.75,40.13 L338.00,40.01 L338.25,39.90 L338.50,39.81 L338.75,39.73 L339.00,39.66 L339.25,39.60 L339.50,39.55 L339.75,39.51 L340.00,39.47 L340.25,39.43 L340.50,39.40 L340.75,39.38 L341.00,39.35 L341.25,39.33 L341.50,39.32 L341.75,39.30 L342.00,39.29 L342.25,39.28 L342.50,39.27 L342.75,39.26 L343.00,39.25 L343.25,39.24 L343.50,39.24 L343.75,39.23 L344.00,39.23 L344.25,39.23 L344.50,39.22 L344.75,39.22 L345.00,39.22 L345.25,39.21 L345.50,39.21 L345.75,39.21 L346.00,39.21 L346.25,39.21 L346.50,39.21 L346.75,39.21 L347.00,39.21 L347.25,39.20 L347.50,39.20 L347.75,39.20 L348.00,39.20 L348.25,39.20 L348.50,39.20 L348.75,39.20 L349.00,39.20 L349.25,39.20 L349.50,39.20 L349.75,39.20 L350.00,39.20 L350.25,39.20 L350.50,39.20 L350.75,39.20 L351.00,39.20 L351.25,39.20 L351.50,39.20 L351.75,39.20 L352.00,39.20 L352.25,39.20 L352.50,39.20 L352.75,39.20 L353.00,39.20 L353.30,39.20 L353.55,39.20 L353.80,41.31 L354.05,46.38 L354.30,50.80 L354.55,54.18 L354.80,56.19 L355.05,56.22 L355.30,54.01 L355.55,52.09 L355.80,50.42 L356.05,48.97 L356.30,47.70 L356.55,46.60 L356.80,45.64 L357.05,44.80 L357.30,44.08 L357.55,43.44 L357.80,42.89 L358.05,42.41 L358.30,42.00 L358.55,41.64 L358.80,41.32 L359.05,41.04 L359.30,40.81 L359.55,40.60 L359.80,40.42 L360.05,40.26 L360.30,40.12 L360.55,40.00 L360.80,39.90 L361.05,39.81 L361.30,39.73 L361.55,39.66 L361.80,39.60 L362.05,39.55 L362.30,39.50 L362.55,39.46 L362.80,39.43 L363.05,39.40 L363.30,39.37 L363.55,39.35 L363.80,39.33 L364.05,39.31 L364.30,39.30 L364.55,39.29 L364.80,39.28 L365.05,39.27 L365.30,39.26 L365.55,39.25 L365.80,39.24 L366.05,39.24 L366.30,39.23 L366.55,39.23 L366.80,39.22 L367.05,39.22 L367.30,39.22 L367.55,39.22 L367.80,39.21 L368.05,39.21 L368.30,39.21 L368.55,39.21 L368.80,39.21 L369.05,39.21 L369.30,39.21 L369.55,39.21 L369.80,39.20 L370.05,39.20 L370.30,39.20 L370.55,39.20 L370.80,39.20 L371.05,39.20 L371.30,39.20 L371.55,39.20 L371.80,39.20 L372.05,39.20 L372.30,39.20 L372.55,39.20 L373.00,39.20" stroke="#444" stroke-width="0.85" fill="none" stroke-linejoin="round"/>
<line x1="332.00" y1="36.80" x2="332.00" y2="39.20" stroke="#555" stroke-width="0.8" />
<line x1="353.30" y1="36.80" x2="353.30" y2="39.20" stroke="#555" stroke-width="0.8" />
<path d="M383.80,38.40 L388.10,38.40 L388.35,38.40 L388.60,39.46 L388.85,42.01 L389.10,44.24 L389.35,45.93 L389.60,46.94 L389.85,46.96 L390.10,45.85 L390.35,44.88 L390.60,44.04 L390.85,43.31 L391.10,42.67 L391.35,42.12 L391.60,41.64 L391.85,41.22 L392.10,40.85 L392.35,40.53 L392.60,40.26 L392.85,40.02 L393.10,39.81 L393.35,39.62 L393.60,39.47 L393.85,39.33 L394.10,39.21 L394.35,39.10 L394.60,39.01 L394.85,38.93 L395.10,38.86 L395.35,38.80 L395.60,38.75 L395.85,38.71 L396.10,38.67 L396.35,38.63 L396.60,38.60 L396.85,38.58 L397.10,38.55 L397.35,38.53 L397.60,38.52 L397.85,38.50 L398.10,38.49 L398.35,38.48 L398.60,38.47 L398.85,38.46 L399.10,38.45 L399.35,38.44 L399.60,38.44 L399.85,38.43 L400.10,38.43 L400.35,38.43 L400.60,38.42 L400.85,38.42 L401.10,38.42 L401.35,38.41 L401.60,38.41 L401.85,38.41 L402.10,38.41 L402.35,38.41 L402.60,38.41 L402.85,38.41 L403.10,38.41 L403.35,38.40 L403.60,38.40 L403.85,38.40 L404.10,38.40 L404.35,38.40 L404.60,38.40 L404.85,38.40 L405.10,38.40 L405.35,38.40 L405.60,38.40 L405.85,38.40 L406.10,38.40 L406.35,38.40 L406.60,38.40 L406.85,38.40 L407.10,38.40 L407.35,38.40 L407.60,38.40 L407.85,38.40 L408.10,38.40 L408.35,38.40 L408.60,38.40 L408.85,38.40 L409.10,38.40 L409.35,38.40 L409.60,38.40 L409.85,38.40 L410.30,38.40 L410.55,38.40 L410.80,40.52 L411.05,45.62 L411.30,50.07 L411.55,53.46 L411.80,55.49 L412.05,55.52 L412.30,53.30 L412.55,51.37 L412.80,49.68 L413.05,48.22 L413.30,46.95 L413.55,45.84 L413.80,44.87 L414.05,44.04 L414.30,43.30 L414.55,42.67 L414.80,42.11 L415.05,41.63 L415.30,41.21 L415.55,40.85 L415.80,40.53 L416.05,40.26 L416.30,40.01 L416.55,39.81 L416.80,39.62 L417.05,39.46 L417.30,39.33 L417.55,39.21 L417.80,39.10 L418.05,39.01 L418.30,38.93 L418.55,38.86 L418.80,38.80 L419.05,38.75 L419.30,38.70 L419.55,38.67 L419.80,38.63 L420.05,38.60 L420.30,38.57 L420.55,38.55 L420.80,38.53 L421.05,38.52 L421.30,38.50 L421.55,38.49 L421.80,38.48 L422.05,38.47 L422.30,38.46 L422.55,38.45 L422.80,38.44 L423.05,38.44 L423.30,38.43 L423.55,38.43 L423.80,38.43 L424.05,38.42 L424.30,38.42 L424.55,38.42 L424.80,38.41 L425.05,38.41 L425.30,38.41 L425.55,38.41 L425.80,38.41 L426.05,38.41 L426.30,38.41 L426.55,38.41 L426.80,38.40 L427.05,38.40 L427.30,38.40 L427.55,38.40 L427.80,38.40 L428.05,38.40 L428.30,38.40 L428.70,38.40" stroke="#d0d0d0" stroke-width="0.8" fill="none" stroke-linejoin="round"/>
<path d="M383.80,38.40 L388.10,38.40 L388.35,38.40 L388.60,38.58 L388.85,39.02 L389.10,39.39 L389.35,39.68 L389.60,39.86 L389.85,39.86 L390.10,39.69 L390.35,39.54 L390.60,39.41 L390.85,39.29 L391.10,39.18 L391.35,39.09 L391.60,39.01 L391.85,38.94 L392.10,38.87 L392.35,38.82 L392.60,38.77 L392.85,38.73 L393.10,38.69 L393.35,38.65 L393.60,38.62 L393.85,38.60 L394.10,38.57 L394.35,38.55 L394.60,38.54 L394.85,38.52 L395.10,38.51 L395.35,38.49 L395.60,38.48 L395.85,38.47 L396.10,38.46 L396.35,38.46 L396.60,38.45 L396.85,38.44 L397.10,38.44 L397.35,38.43 L397.60,38.43 L397.85,38.43 L398.10,38.42 L398.35,38.42 L398.60,38.42 L398.85,38.42 L399.10,38.41 L399.35,38.41 L399.60,38.41 L399.85,38.41 L400.10,38.41 L400.35,38.41 L400.60,38.41 L400.85,38.41 L401.10,38.41 L401.35,38.40 L401.60,38.40 L401.85,38.40 L402.10,38.40 L402.35,38.40 L402.60,38.40 L402.85,38.40 L403.10,38.40 L403.35,38.40 L403.60,38.40 L403.85,38.40 L404.10,38.40 L404.35,38.40 L404.60,38.40 L404.85,38.40 L405.10,38.40 L405.35,38.40 L405.60,38.40 L405.85,38.40 L406.10,38.40 L406.35,38.40 L406.60,38.40 L406.85,38.40 L407.10,38.40 L407.35,38.40 L407.60,38.40 L407.85,38.40 L408.10,38.40 L408.35,38.40 L408.60,38.40 L408.85,38.40 L409.10,38.40 L409.35,38.40 L409.60,38.40 L409.85,38.40 L410.30,38.40 L410.55,38.40 L410.80,38.64 L411.05,39.22 L411.30,39.73 L411.55,40.11 L411.80,40.34 L412.05,40.35 L412.30,40.12 L412.55,39.92 L412.80,39.74 L413.05,39.58 L413.30,39.44 L413.55,39.32 L413.80,39.21 L414.05,39.12 L414.30,39.03 L414.55,38.96 L414.80,38.89 L415.05,38.84 L415.30,38.78 L415.55,38.74 L415.80,38.70 L416.05,38.66 L416.30,38.63 L416.55,38.61 L416.80,38.58 L417.05,38.56 L417.30,38.54 L417.55,38.52 L417.80,38.51 L418.05,38.50 L418.30,38.49 L418.55,38.48 L418.80,38.47 L419.05,38.46 L419.30,38.45 L419.55,38.45 L419.80,38.44 L420.05,38.44 L420.30,38.43 L420.55,38.43 L420.80,38.42 L421.05,38.42 L421.30,38.42 L421.55,38.42 L421.80,38.41 L422.05,38.41 L422.30,38.41 L422.55,38.41 L422.80,38.41 L423.05,38.41 L423.30,38.41 L423.55,38.41 L423.80,38.41 L424.05,38.40 L424.30,38.40 L424.55,38.40 L424.80,38.40 L425.05,38.40 L425.30,38.40 L425.55,38.40 L425.80,38.40 L426.05,38.40 L426.30,38.40 L426.55,38.40 L426.80,38.40 L427.05,38.40 L427.30,38.40 L427.55,38.40 L427.80,38.40 L428.05,38.40 L428.30,38.40 L428.70,38.40" stroke="#444" stroke-width="0.85" fill="none" stroke-linejoin="round"/>
<line x1="388.10" y1="34.90" x2="388.10" y2="45.60" stroke="#555" stroke-width="0.8" />
<line x1="410.30" y1="34.90" x2="410.30" y2="45.60" stroke="#555" stroke-width="0.8" />
<path d="M440.70,40.10 L445.30,40.10 L445.55,40.10 L445.80,41.31 L446.05,44.20 L446.30,46.73 L446.55,48.66 L446.80,49.81 L447.05,49.83 L447.30,48.56 L447.55,47.47 L447.80,46.51 L448.05,45.68 L448.30,44.96 L448.55,44.33 L448.80,43.78 L449.05,43.30 L449.30,42.89 L449.55,42.53 L449.80,42.21 L450.05,41.94 L450.30,41.70 L450.55,41.49 L450.80,41.31 L451.05,41.15 L451.30,41.02 L451.55,40.90 L451.80,40.79 L452.05,40.70 L452.30,40.63 L452.55,40.56 L452.80,40.50 L453.05,40.45 L453.30,40.40 L453.55,40.36 L453.80,40.33 L454.05,40.30 L454.30,40.27 L454.55,40.25 L454.80,40.23 L455.05,40.21 L455.30,40.20 L455.55,40.19 L455.80,40.18 L456.05,40.17 L456.30,40.16 L456.55,40.15 L456.80,40.14 L457.05,40.14 L457.30,40.13 L457.55,40.13 L457.80,40.12 L458.05,40.12 L458.30,40.12 L458.55,40.12 L458.80,40.11 L459.05,40.11 L459.30,40.11 L459.55,40.11 L459.80,40.11 L460.05,40.11 L460.30,40.11 L460.55,40.11 L460.80,40.10 L461.05,40.10 L461.30,40.10 L461.55,40.10 L461.80,40.10 L462.05,40.10 L462.30,40.10 L462.55,40.10 L462.80,40.10 L463.05,40.10 L463.30,40.10 L463.55,40.10 L463.80,40.10 L464.05,40.10 L464.30,40.10 L464.55,40.10 L464.80,40.10 L465.05,40.10 L465.30,40.10 L465.55,40.10 L465.80,40.10 L466.05,40.10 L466.30,40.10 L466.70,40.10 L466.95,40.10 L467.20,42.20 L467.45,47.24 L467.70,51.64 L467.95,54.99 L468.20,56.99 L468.45,57.11 L468.70,55.28 L468.95,53.65 L469.20,52.20 L469.45,50.90 L469.70,49.74 L469.95,48.70 L470.20,47.78 L470.45,46.95 L470.70,46.22 L470.95,45.56 L471.20,44.97 L471.45,44.45 L471.70,43.98 L471.95,43.57 L472.20,43.19 L472.45,42.86 L472.70,42.56 L472.95,42.30 L473.20,42.06 L473.45,41.85 L473.70,41.66 L473.95,41.50 L474.20,41.35 L474.45,41.21 L474.70,41.09 L474.95,40.99 L475.20,40.89 L475.45,40.81 L475.70,40.73 L475.95,40.66 L476.20,40.60 L476.45,40.55 L476.70,40.50 L476.95,40.46 L477.20,40.42 L477.45,40.38 L477.70,40.35 L477.95,40.33 L478.20,40.30 L478.45,40.28 L478.70,40.26 L478.95,40.24 L479.20,40.23 L479.45,40.21 L479.70,40.20 L479.95,40.19 L480.20,40.18 L480.45,40.17 L480.70,40.16 L480.95,40.16 L481.20,40.15 L481.45,40.15 L481.70,40.14 L481.95,40.14 L482.20,40.13 L482.45,40.13 L482.70,40.13 L482.95,40.12 L483.20,40.12 L483.45,40.12 L483.70,40.12 L483.95,40.11 L484.20,40.11 L484.50,40.10" stroke="#b0b0b0" stroke-width="0.8" fill="none" stroke-linejoin="round"/>
<path d="M440.70,40.10 L445.30,40.10 L445.55,40.10 L445.80,41.51 L446.05,44.90 L446.30,47.86 L446.55,50.11 L446.80,51.46 L447.05,51.44 L447.30,49.80 L447.55,48.40 L447.80,47.20 L448.05,46.17 L448.30,45.29 L448.55,44.54 L448.80,43.90 L449.05,43.35 L449.30,42.88 L449.55,42.48 L449.80,42.13 L450.05,41.84 L450.30,41.59 L450.55,41.37 L450.80,41.19 L451.05,41.03 L451.30,40.90 L451.55,40.78 L451.80,40.68 L452.05,40.60 L452.30,40.53 L452.55,40.46 L452.80,40.41 L453.05,40.37 L453.30,40.33 L453.55,40.30 L453.80,40.27 L454.05,40.24 L454.30,40.22 L454.55,40.20 L454.80,40.19 L455.05,40.18 L455.30,40.17 L455.55,40.16 L455.80,40.15 L456.05,40.14 L456.30,40.13 L456.55,40.13 L456.80,40.13 L457.05,40.12 L457.30,40.12 L457.55,40.12 L457.80,40.11 L458.05,40.11 L458.30,40.11 L458.55,40.11 L458.80,40.11 L459.05,40.11 L459.30,40.11 L459.55,40.10 L459.80,40.10 L460.05,40.10 L460.30,40.10 L460.55,40.10 L460.80,40.10 L461.05,40.10 L461.30,40.10 L461.55,40.10 L461.80,40.10 L462.05,40.10 L462.30,40.10 L462.55,40.10 L462.80,40.10 L463.05,40.10 L463.30,40.10 L463.55,40.10 L463.80,40.10 L464.05,40.10 L464.30,40.10 L464.55,40.10 L464.80,40.10 L465.05,40.10 L465.30,40.10 L465.55,40.10 L465.80,40.10 L466.05,40.10 L466.30,40.10 L466.70,40.10 L466.95,40.10 L467.20,41.67 L467.45,45.44 L467.70,48.72 L467.95,51.23 L468.20,52.72 L468.45,52.83 L468.70,51.57 L468.95,50.44 L469.20,49.41 L469.45,48.49 L469.70,47.66 L469.95,46.91 L470.20,46.24 L470.45,45.63 L470.70,45.09 L470.95,44.59 L471.20,44.15 L471.45,43.75 L471.70,43.39 L471.95,43.06 L472.20,42.77 L472.45,42.50 L472.70,42.27 L472.95,42.05 L473.20,41.86 L473.45,41.69 L473.70,41.53 L473.95,41.39 L474.20,41.26 L474.45,41.15 L474.70,41.04 L474.95,40.95 L475.20,40.86 L475.45,40.79 L475.70,40.72 L475.95,40.66 L476.20,40.60 L476.45,40.55 L476.70,40.51 L476.95,40.47 L477.20,40.43 L477.45,40.40 L477.70,40.37 L477.95,40.34 L478.20,40.32 L478.45,40.30 L478.70,40.28 L478.95,40.26 L479.20,40.24 L479.45,40.23 L479.70,40.22 L479.95,40.21 L480.20,40.20 L480.45,40.19 L480.70,40.18 L480.95,40.17 L481.20,40.16 L481.45,40.16 L481.70,40.15 L481.95,40.15 L482.20,40.14 L482.45,40.14 L482.70,40.13 L482.95,40.13 L483.20,40.13 L483.45,40.12 L483.70,40.12 L483.95,40.12 L484.20,40.12 L484.50,40.10" stroke="#444" stroke-width="0.85" fill="none" stroke-linejoin="round"/>
<line x1="445.30" y1="37.30" x2="445.30" y2="40.10" stroke="#555" stroke-width="0.8" />
<line x1="466.70" y1="37.30" x2="466.70" y2="40.10" stroke="#555" stroke-width="0.8" />
<path d="M466.7,60.1 H487.3 V47.4" stroke="#111" stroke-width="1.5" fill="none" />
<text x="489.40" y="56.80" font-size="8.85" fill="#222" stroke="#222" stroke-width="0.15" text-anchor="start" >100 pA</text>
<text x="467.00" y="71.50" font-size="8.85" fill="#222" stroke="#222" stroke-width="0.15" text-anchor="start" >50 ms</text>
<line x1="398.61" y1="114.20" x2="478.10" y2="114.20" stroke="#c4c4c4" stroke-width="0.8" stroke-dasharray="3,2"/>
<line x1="348.50" y1="89.10" x2="348.50" y2="164.90" stroke="#222" stroke-width="1.2" />
<line x1="348.00" y1="164.40" x2="478.60" y2="164.40" stroke="#222" stroke-width="1.4" />
<line x1="344.50" y1="164.40" x2="348.50" y2="164.40" stroke="#222" stroke-width="1" />
<text x="342.90" y="166.95" font-size="8.8" fill="#222" stroke="#222" stroke-width="0.15" text-anchor="end" >0</text>
<line x1="344.50" y1="139.30" x2="348.50" y2="139.30" stroke="#222" stroke-width="1" />
<text x="342.90" y="141.85" font-size="8.8" fill="#222" stroke="#222" stroke-width="0.15" text-anchor="end" >50</text>
<line x1="344.50" y1="114.20" x2="348.50" y2="114.20" stroke="#222" stroke-width="1" />
<text x="342.90" y="116.75" font-size="8.8" fill="#222" stroke="#222" stroke-width="0.15" text-anchor="end" >100</text>
<line x1="344.50" y1="89.10" x2="348.50" y2="89.10" stroke="#222" stroke-width="1" />
<text x="342.90" y="91.65" font-size="8.8" fill="#222" stroke="#222" stroke-width="0.15" text-anchor="end" >150</text>
<line x1="348.50" y1="164.40" x2="348.50" y2="167.90" stroke="#222" stroke-width="1" />
<text x="348.50" y="176.90" font-size="8.8" fill="#222" stroke="#222" stroke-width="0.15" text-anchor="middle" >0</text>
<line x1="391.70" y1="164.40" x2="391.70" y2="167.90" stroke="#222" stroke-width="1" />
<text x="391.70" y="176.90" font-size="8.8" fill="#222" stroke="#222" stroke-width="0.15" text-anchor="middle" >5</text>
<line x1="434.90" y1="164.40" x2="434.90" y2="167.90" stroke="#222" stroke-width="1" />
<text x="434.90" y="176.90" font-size="8.8" fill="#222" stroke="#222" stroke-width="0.15" text-anchor="middle" >10</text>
<line x1="478.10" y1="164.40" x2="478.10" y2="167.90" stroke="#222" stroke-width="1" />
<text x="478.10" y="176.90" font-size="8.8" fill="#222" stroke="#222" stroke-width="0.15" text-anchor="middle" >15</text>
<text x="413.30" y="187.70" font-size="9.0" fill="#222" stroke="#222" stroke-width="0.15" text-anchor="middle" >Time (mins)</text>
<text x="321.00" y="125.00" font-size="8.0" fill="#222" stroke="#222" stroke-width="0.15" text-anchor="middle" transform="rotate(-90 321.0 125)" >EPSC amplitude (% ctrl)</text>
<path d="M348.5,120.4V125.7M346.8,120.4h3.4M346.8,125.7h3.4M350.0,114.2V128.2M348.3,114.2h3.4M348.3,128.2h3.4M351.4,111.6V122.5M349.7,111.6h3.4M349.7,122.5h3.4M352.9,110.5V118.6M351.2,110.5h3.4M351.2,118.6h3.4M354.3,106.6V120.3M352.6,106.6h3.4M352.6,120.3h3.4M355.8,110.8V118.8M354.1,110.8h3.4M354.1,118.8h3.4M357.2,115.2V126.4M355.5,115.2h3.4M355.5,126.4h3.4M358.7,112.2V125.5M357.0,112.2h3.4M357.0,125.5h3.4M360.1,104.0V117.0M358.4,104.0h3.4M358.4,117.0h3.4M361.6,104.1V114.4M359.9,104.1h3.4M359.9,114.4h3.4M363.0,101.0V113.7M361.3,101.0h3.4M361.3,113.7h3.4M364.5,105.8V116.1M362.8,105.8h3.4M362.8,116.1h3.4M365.9,104.1V117.8M364.2,104.1h3.4M364.2,117.8h3.4M367.4,111.6V121.7M365.7,111.6h3.4M365.7,121.7h3.4M368.8,113.0V120.4M367.1,113.0h3.4M367.1,120.4h3.4M370.3,112.3V125.9M368.6,112.3h3.4M368.6,125.9h3.4M371.7,110.4V124.1M370.0,110.4h3.4M370.0,124.1h3.4M373.2,106.2V117.1M371.5,106.2h3.4M371.5,117.1h3.4M374.7,106.7V117.8M373.0,106.7h3.4M373.0,117.8h3.4M376.1,108.0V114.7M374.4,108.0h3.4M374.4,114.7h3.4M377.6,109.1V114.4M375.9,109.1h3.4M375.9,114.4h3.4M379.0,106.7V120.1M377.3,106.7h3.4M377.3,120.1h3.4M380.5,112.8V121.5M378.8,112.8h3.4M378.8,121.5h3.4M381.9,109.5V120.5M380.2,109.5h3.4M380.2,120.5h3.4M383.4,109.4V117.8M381.7,109.4h3.4M381.7,117.8h3.4M384.8,111.5V121.7M383.1,111.5h3.4M383.1,121.7h3.4M386.3,108.8V118.7M384.6,108.8h3.4M384.6,118.7h3.4M387.7,102.8V111.7M386.0,102.8h3.4M386.0,111.7h3.4M389.2,108.4V114.2M387.5,108.4h3.4M387.5,114.2h3.4M390.6,106.7V120.7M388.9,106.7h3.4M388.9,120.7h3.4M392.1,110.1V118.6M390.4,110.1h3.4M390.4,118.6h3.4M393.5,107.2V120.0M391.8,107.2h3.4M391.8,120.0h3.4M395.0,111.6V119.5M393.3,111.6h3.4M393.3,119.5h3.4M396.5,116.1V121.3M394.8,116.1h3.4M394.8,121.3h3.4M397.9,112.7V121.3M396.2,112.7h3.4M396.2,121.3h3.4M399.4,117.4V124.1M397.7,117.4h3.4M397.7,124.1h3.4M400.8,121.5V126.7M399.1,121.5h3.4M399.1,126.7h3.4M402.3,124.6V128.5M400.6,124.6h3.4M400.6,128.5h3.4M403.7,132.2V139.5M402.0,132.2h3.4M402.0,139.5h3.4M405.2,136.9V141.1M403.5,136.9h3.4M403.5,141.1h3.4M406.6,140.6V145.5M404.9,140.6h3.4M404.9,145.5h3.4M408.1,143.9V150.2M406.4,143.9h3.4M406.4,150.2h3.4M409.5,146.3V152.0M407.8,146.3h3.4M407.8,152.0h3.4M411.0,151.0V154.8M409.3,151.0h3.4M409.3,154.8h3.4M412.4,152.7V158.3M410.7,152.7h3.4M410.7,158.3h3.4M413.9,153.2V157.9M412.2,153.2h3.4M412.2,157.9h3.4M415.3,155.7V160.1M413.6,155.7h3.4M413.6,160.1h3.4M416.8,155.2V158.5M415.1,155.2h3.4M415.1,158.5h3.4M418.2,155.0V159.2M416.5,155.0h3.4M416.5,159.2h3.4M419.7,156.7V162.2M418.0,156.7h3.4M418.0,162.2h3.4M421.2,155.0V159.3M419.5,155.0h3.4M419.5,159.3h3.4M422.6,156.7V160.0M420.9,156.7h3.4M420.9,160.0h3.4M424.1,156.2V159.8M422.4,156.2h3.4M422.4,159.8h3.4M425.5,156.1V159.1M423.8,156.1h3.4M423.8,159.1h3.4M427.0,154.9V158.2M425.3,154.9h3.4M425.3,158.2h3.4M428.4,156.8V159.2M426.7,156.8h3.4M426.7,159.2h3.4M429.9,155.7V160.9M428.2,155.7h3.4M428.2,160.9h3.4M431.3,156.2V158.9M429.6,156.2h3.4M429.6,158.9h3.4M432.8,156.1V159.8M431.1,156.1h3.4M431.1,159.8h3.4M434.2,155.7V158.5M432.5,155.7h3.4M432.5,158.5h3.4M435.7,154.8V160.6M434.0,154.8h3.4M434.0,160.6h3.4M437.1,151.1V157.4M435.4,151.1h3.4M435.4,157.4h3.4M438.6,150.0V157.2M436.9,150.0h3.4M436.9,157.2h3.4M440.0,151.4V154.8M438.3,151.4h3.4M438.3,154.8h3.4M441.5,148.2V154.2M439.8,148.2h3.4M439.8,154.2h3.4M443.0,143.5V152.6M441.3,143.5h3.4M441.3,152.6h3.4M444.4,144.9V151.0M442.7,144.9h3.4M442.7,151.0h3.4M445.9,143.5V150.0M444.2,143.5h3.4M444.2,150.0h3.4M447.3,136.2V146.9M445.6,136.2h3.4M445.6,146.9h3.4M448.8,134.6V141.3M447.1,134.6h3.4M447.1,141.3h3.4M450.2,130.6V136.8M448.5,130.6h3.4M448.5,136.8h3.4M451.7,131.0V142.2M450.0,131.0h3.4M450.0,142.2h3.4M453.1,124.8V136.5M451.4,124.8h3.4M451.4,136.5h3.4M454.6,122.0V128.9M452.9,122.0h3.4M452.9,128.9h3.4M456.0,113.2V128.0M454.3,113.2h3.4M454.3,128.0h3.4M457.5,106.8V126.9M455.8,106.8h3.4M455.8,126.9h3.4M458.9,105.8V120.7M457.2,105.8h3.4M457.2,120.7h3.4M460.4,109.9V119.9M458.7,109.9h3.4M458.7,119.9h3.4M461.8,106.2V126.1M460.1,106.2h3.4M460.1,126.1h3.4M463.3,102.1V110.2M461.6,102.1h3.4M461.6,110.2h3.4M464.7,110.7V121.2M463.0,110.7h3.4M463.0,121.2h3.4M466.2,99.3V119.0M464.5,99.3h3.4M464.5,119.0h3.4M467.7,103.1V116.4M466.0,103.1h3.4M466.0,116.4h3.4M469.1,106.7V127.0M467.4,106.7h3.4M467.4,127.0h3.4M470.6,110.0V122.0M468.9,110.0h3.4M468.9,122.0h3.4M472.0,108.0V118.4M470.3,108.0h3.4M470.3,118.4h3.4M473.5,101.0V119.1M471.8,101.0h3.4M471.8,119.1h3.4M474.9,104.6V124.5M473.2,104.6h3.4M473.2,124.5h3.4M476.4,99.9V113.8M474.7,99.9h3.4M474.7,113.8h3.4" stroke="#a8a8a8" stroke-width="0.9" fill="none" />
<circle cx="348.5" cy="123.0" r="1.75" fill="#a8a8a8"/>
<circle cx="350.0" cy="121.2" r="1.75" fill="#a8a8a8"/>
<circle cx="351.4" cy="117.0" r="1.75" fill="#a8a8a8"/>
<circle cx="352.9" cy="114.6" r="1.75" fill="#a8a8a8"/>
<circle cx="354.3" cy="113.4" r="1.75" fill="#a8a8a8"/>
<circle cx="355.8" cy="114.8" r="1.75" fill="#a8a8a8"/>
<circle cx="357.2" cy="120.8" r="1.75" fill="#a8a8a8"/>
<circle cx="358.7" cy="118.8" r="1.75" fill="#a8a8a8"/>
<circle cx="360.1" cy="110.5" r="1.75" fill="#a8a8a8"/>
<circle cx="361.6" cy="109.2" r="1.75" fill="#a8a8a8"/>
<circle cx="363.0" cy="107.4" r="1.75" fill="#a8a8a8"/>
<circle cx="364.5" cy="111.0" r="1.75" fill="#a8a8a8"/>
<circle cx="365.9" cy="111.0" r="1.75" fill="#a8a8a8"/>
<circle cx="367.4" cy="116.6" r="1.75" fill="#a8a8a8"/>
<circle cx="368.8" cy="116.7" r="1.75" fill="#a8a8a8"/>
<circle cx="370.3" cy="119.1" r="1.75" fill="#a8a8a8"/>
<circle cx="371.7" cy="117.2" r="1.75" fill="#a8a8a8"/>
<circle cx="373.2" cy="111.7" r="1.75" fill="#a8a8a8"/>
<circle cx="374.7" cy="112.2" r="1.75" fill="#a8a8a8"/>
<circle cx="376.1" cy="111.3" r="1.75" fill="#a8a8a8"/>
<circle cx="377.6" cy="111.8" r="1.75" fill="#a8a8a8"/>
<circle cx="379.0" cy="113.4" r="1.75" fill="#a8a8a8"/>
<circle cx="380.5" cy="117.2" r="1.75" fill="#a8a8a8"/>
<circle cx="381.9" cy="115.0" r="1.75" fill="#a8a8a8"/>
<circle cx="383.4" cy="113.6" r="1.75" fill="#a8a8a8"/>
<circle cx="384.8" cy="116.6" r="1.75" fill="#a8a8a8"/>
<circle cx="386.3" cy="113.8" r="1.75" fill="#a8a8a8"/>
<circle cx="387.7" cy="107.2" r="1.75" fill="#a8a8a8"/>
<circle cx="389.2" cy="111.3" r="1.75" fill="#a8a8a8"/>
<circle cx="390.6" cy="113.7" r="1.75" fill="#a8a8a8"/>
<circle cx="392.1" cy="114.3" r="1.75" fill="#a8a8a8"/>
<circle cx="393.5" cy="113.6" r="1.75" fill="#a8a8a8"/>
<circle cx="395.0" cy="115.6" r="1.75" fill="#a8a8a8"/>
<circle cx="396.5" cy="118.7" r="1.75" fill="#a8a8a8"/>
<circle cx="397.9" cy="117.0" r="1.75" fill="#a8a8a8"/>
<circle cx="399.4" cy="120.7" r="1.75" fill="#a8a8a8"/>
<circle cx="400.8" cy="124.1" r="1.75" fill="#a8a8a8"/>
<circle cx="402.3" cy="126.6" r="1.75" fill="#a8a8a8"/>
<circle cx="403.7" cy="135.9" r="1.75" fill="#a8a8a8"/>
<circle cx="405.2" cy="139.0" r="1.75" fill="#a8a8a8"/>
<circle cx="406.6" cy="143.1" r="1.75" fill="#a8a8a8"/>
<circle cx="408.1" cy="147.1" r="1.75" fill="#a8a8a8"/>
<circle cx="409.5" cy="149.1" r="1.75" fill="#a8a8a8"/>
<circle cx="411.0" cy="152.9" r="1.75" fill="#a8a8a8"/>
<circle cx="412.4" cy="155.5" r="1.75" fill="#a8a8a8"/>
<circle cx="413.9" cy="155.6" r="1.75" fill="#a8a8a8"/>
<circle cx="415.3" cy="157.9" r="1.75" fill="#a8a8a8"/>
<circle cx="416.8" cy="156.8" r="1.75" fill="#a8a8a8"/>
<circle cx="418.2" cy="157.1" r="1.75" fill="#a8a8a8"/>
<circle cx="419.7" cy="159.5" r="1.75" fill="#a8a8a8"/>
<circle cx="421.2" cy="157.1" r="1.75" fill="#a8a8a8"/>
<circle cx="422.6" cy="158.3" r="1.75" fill="#a8a8a8"/>
<circle cx="424.1" cy="158.0" r="1.75" fill="#a8a8a8"/>
<circle cx="425.5" cy="157.6" r="1.75" fill="#a8a8a8"/>
<circle cx="427.0" cy="156.5" r="1.75" fill="#a8a8a8"/>
<circle cx="428.4" cy="158.0" r="1.75" fill="#a8a8a8"/>
<circle cx="429.9" cy="158.3" r="1.75" fill="#a8a8a8"/>
<circle cx="431.3" cy="157.5" r="1.75" fill="#a8a8a8"/>
<circle cx="432.8" cy="157.9" r="1.75" fill="#a8a8a8"/>
<circle cx="434.2" cy="157.1" r="1.75" fill="#a8a8a8"/>
<circle cx="435.7" cy="157.7" r="1.75" fill="#a8a8a8"/>
<circle cx="437.1" cy="154.3" r="1.75" fill="#a8a8a8"/>
<circle cx="438.6" cy="153.6" r="1.75" fill="#a8a8a8"/>
<circle cx="440.0" cy="153.1" r="1.75" fill="#a8a8a8"/>
<circle cx="441.5" cy="151.2" r="1.75" fill="#a8a8a8"/>
<circle cx="443.0" cy="148.1" r="1.75" fill="#a8a8a8"/>
<circle cx="444.4" cy="148.0" r="1.75" fill="#a8a8a8"/>
<circle cx="445.9" cy="146.7" r="1.75" fill="#a8a8a8"/>
<circle cx="447.3" cy="141.5" r="1.75" fill="#a8a8a8"/>
<circle cx="448.8" cy="138.0" r="1.75" fill="#a8a8a8"/>
<circle cx="450.2" cy="133.7" r="1.75" fill="#a8a8a8"/>
<circle cx="451.7" cy="136.6" r="1.75" fill="#a8a8a8"/>
<circle cx="453.1" cy="130.6" r="1.75" fill="#a8a8a8"/>
<circle cx="454.6" cy="125.5" r="1.75" fill="#a8a8a8"/>
<circle cx="456.0" cy="120.6" r="1.75" fill="#a8a8a8"/>
<circle cx="457.5" cy="116.8" r="1.75" fill="#a8a8a8"/>
<circle cx="458.9" cy="113.2" r="1.75" fill="#a8a8a8"/>
<circle cx="460.4" cy="114.9" r="1.75" fill="#a8a8a8"/>
<circle cx="461.8" cy="116.1" r="1.75" fill="#a8a8a8"/>
<circle cx="463.3" cy="106.2" r="1.75" fill="#a8a8a8"/>
<circle cx="464.7" cy="116.0" r="1.75" fill="#a8a8a8"/>
<circle cx="466.2" cy="109.1" r="1.75" fill="#a8a8a8"/>
<circle cx="467.7" cy="109.8" r="1.75" fill="#a8a8a8"/>
<circle cx="469.1" cy="116.9" r="1.75" fill="#a8a8a8"/>
<circle cx="470.6" cy="116.0" r="1.75" fill="#a8a8a8"/>
<circle cx="472.0" cy="113.2" r="1.75" fill="#a8a8a8"/>
<circle cx="473.5" cy="110.1" r="1.75" fill="#a8a8a8"/>
<circle cx="474.9" cy="114.5" r="1.75" fill="#a8a8a8"/>
<circle cx="476.4" cy="106.9" r="1.75" fill="#a8a8a8"/>
<line x1="402.20" y1="84.00" x2="441.60" y2="84.00" stroke="#111" stroke-width="3" />
<line x1="444.00" y1="84.00" x2="471.70" y2="84.00" stroke="#111" stroke-width="2.9" stroke-dasharray="2.4,3.6"/>
<line x1="473.70" y1="82.80" x2="473.70" y2="85.20" stroke="#444" stroke-width="0.7" />
<text x="402.18" y="79.90" font-size="9.0" fill="#222" stroke="#222" stroke-width="0.15" text-anchor="start" >Baclofen</text>
<text x="444.35" y="79.90" font-size="9.0" fill="#222" stroke="#222" stroke-width="0.15" text-anchor="start" >CGP</text>
<text x="163.37" y="207.10" font-size="10.4" fill="#3434ee" stroke="#3434ee" stroke-width="0.15" text-anchor="start" >L1</text>
<line x1="178.20" y1="203.67" x2="184.90" y2="203.67" stroke="#3434ee" stroke-width="0.9" />
<polygon points="184.20,201.77 187.40,203.67 184.20,205.57" fill="#3434ee"/>
<text x="190.17" y="207.10" font-size="10.4" fill="#3434ee" stroke="#3434ee" stroke-width="0.15" text-anchor="start" >L5 PC</text>
<text x="132.10" y="222.10" font-size="10.2" fill="#222" stroke="#222" stroke-width="0.15" text-anchor="start" >Ctrl</text>
<text x="181.20" y="222.10" font-size="10.2" fill="#222" stroke="#222" stroke-width="0.15" text-anchor="start" >Bacl.</text>
<text x="237.80" y="222.10" font-size="10.2" fill="#222" stroke="#222" stroke-width="0.15" text-anchor="start" >CGP</text>
<path d="M116.40,232.20 L121.80,232.20 L122.05,232.20 L122.30,232.20 L122.55,234.86 L122.80,237.44 L123.05,239.85 L123.30,242.02 L123.55,243.88 L123.80,245.37 L124.05,246.43 L124.30,247.05 L124.55,246.86 L124.80,245.29 L125.05,243.88 L125.30,242.63 L125.55,241.51 L125.80,240.51 L126.05,239.61 L126.30,238.82 L126.55,238.11 L126.80,237.47 L127.05,236.91 L127.30,236.40 L127.55,235.95 L127.80,235.55 L128.05,235.19 L128.30,234.87 L128.55,234.58 L128.80,234.32 L129.05,234.10 L129.30,233.89 L129.55,233.71 L129.80,233.55 L130.05,233.40 L130.30,233.27 L130.55,233.16 L130.80,233.06 L131.05,232.96 L131.30,232.88 L131.55,232.81 L131.80,232.74 L132.05,232.68 L132.30,232.63 L132.55,232.59 L132.80,232.54 L133.05,232.51 L133.30,232.47 L133.55,232.45 L133.80,232.42 L134.05,232.40 L134.30,232.37 L134.55,232.36 L134.80,232.34 L135.05,232.32 L135.30,232.31 L135.55,232.30 L135.80,232.29 L136.05,232.28 L136.30,232.27 L136.55,232.26 L136.80,232.26 L137.05,232.25 L137.30,232.24 L137.55,232.24 L137.80,232.24 L138.05,232.23 L138.30,232.23 L138.55,232.23 L138.80,232.22 L139.05,232.22 L139.30,232.22 L139.55,232.22 L139.80,232.21 L140.05,232.21 L140.30,232.21 L140.55,232.21 L140.80,232.21 L141.05,232.21 L141.30,232.21 L141.55,232.21 L141.80,232.21 L142.05,232.21 L142.30,232.20 L142.55,232.20 L142.80,232.20 L143.05,232.20 L143.60,232.20 L143.85,232.20 L144.10,232.20 L144.35,236.28 L144.60,240.24 L144.85,243.94 L145.10,247.26 L145.35,250.11 L145.60,252.39 L145.85,254.02 L146.10,254.97 L146.35,254.84 L146.60,253.14 L146.85,251.57 L147.10,250.11 L147.35,248.77 L147.60,247.52 L147.85,246.37 L148.10,245.31 L148.35,244.32 L148.60,243.41 L148.85,242.57 L149.10,241.79 L149.35,241.07 L149.60,240.40 L149.85,239.78 L150.10,239.21 L150.35,238.69 L150.60,238.20 L150.85,237.75 L151.10,237.33 L151.35,236.95 L151.60,236.59 L151.85,236.26 L152.10,235.95 L152.35,235.67 L152.60,235.41 L152.85,235.17 L153.10,234.95 L153.35,234.74 L153.60,234.55 L153.85,234.37 L154.10,234.21 L154.35,234.06 L154.60,233.92 L154.85,233.79 L155.10,233.67 L155.35,233.56 L155.60,233.46 L155.85,233.36 L156.10,233.28 L156.35,233.19 L156.60,233.12 L156.85,233.05 L157.10,232.99 L157.35,232.93 L157.60,232.87 L157.85,232.82 L158.10,232.78 L158.35,232.73 L158.60,232.69 L158.85,232.66 L159.10,232.62 L159.35,232.59 L159.60,232.56 L159.85,232.53 L160.10,232.51 L160.35,232.49 L160.60,232.46 L160.85,232.44 L161.10,232.43 L161.40,232.20" stroke="#4646ee" stroke-width="0.95" fill="none" stroke-linejoin="round"/>
<line x1="121.80" y1="229.50" x2="121.80" y2="258.70" stroke="#7070f0" stroke-width="0.8" />
<line x1="143.60" y1="229.50" x2="143.60" y2="258.70" stroke="#7070f0" stroke-width="0.8" />
<path d="M171.50,232.20 L176.30,232.20 L176.55,232.20 L176.80,232.20 L177.05,232.20 L177.30,234.55 L177.55,237.39 L177.80,240.04 L178.05,242.38 L178.30,244.34 L178.55,245.82 L178.80,246.79 L179.05,247.19 L179.30,246.37 L179.55,245.39 L179.80,244.48 L180.05,243.63 L180.30,242.85 L180.55,242.11 L180.80,241.43 L181.05,240.79 L181.30,240.20 L181.55,239.65 L181.80,239.14 L182.05,238.66 L182.30,238.21 L182.55,237.80 L182.80,237.41 L183.05,237.05 L183.30,236.72 L183.55,236.41 L183.80,236.12 L184.05,235.85 L184.30,235.60 L184.55,235.36 L184.80,235.14 L185.05,234.94 L185.30,234.75 L185.55,234.58 L185.80,234.41 L186.05,234.26 L186.30,234.12 L186.55,233.99 L186.80,233.86 L187.05,233.75 L187.30,233.64 L187.55,233.54 L187.80,233.45 L188.05,233.36 L188.30,233.28 L188.55,233.21 L188.80,233.14 L189.05,233.07 L189.30,233.01 L189.55,232.96 L189.80,232.91 L190.05,232.86 L190.30,232.81 L190.55,232.77 L190.80,232.73 L191.05,232.69 L191.30,232.66 L191.55,232.63 L191.80,232.60 L192.05,232.57 L192.30,232.55 L192.55,232.52 L192.80,232.50 L193.05,232.48 L193.30,232.46 L193.55,232.44 L193.80,232.42 L194.05,232.41 L194.30,232.39 L194.55,232.38 L194.80,232.37 L195.05,232.36 L195.30,232.35 L195.55,232.34 L195.80,232.33 L196.05,232.32 L196.30,232.31 L196.55,232.30 L196.80,232.30 L197.05,232.29 L197.30,232.28 L197.55,232.28 L197.80,232.27 L198.05,232.27 L198.30,232.26 L198.55,232.26 L198.90,232.20 L199.15,232.20 L199.40,232.20 L199.65,232.20 L199.90,235.64 L200.15,239.81 L200.40,243.69 L200.65,247.13 L200.90,250.00 L201.15,252.18 L201.40,253.59 L201.65,254.18 L201.90,253.07 L202.15,251.74 L202.40,250.50 L202.65,249.33 L202.90,248.24 L203.15,247.22 L203.40,246.26 L203.65,245.37 L203.90,244.53 L204.15,243.75 L204.40,243.01 L204.65,242.32 L204.90,241.68 L205.15,241.07 L205.40,240.51 L205.65,239.98 L205.90,239.48 L206.15,239.02 L206.40,238.59 L206.65,238.18 L206.90,237.80 L207.15,237.44 L207.40,237.11 L207.65,236.80 L207.90,236.50 L208.15,236.23 L208.40,235.97 L208.65,235.73 L208.90,235.51 L209.15,235.30 L209.40,235.10 L209.65,234.92 L209.90,234.74 L210.15,234.58 L210.40,234.43 L210.65,234.29 L210.90,234.15 L211.15,234.03 L211.40,233.91 L211.65,233.80 L211.90,233.70 L212.15,233.61 L212.40,233.52 L212.65,233.43 L212.90,233.35 L213.15,233.28 L213.40,233.21 L213.65,233.15 L213.90,233.09 L214.15,233.03 L214.40,232.98 L214.65,232.93 L214.90,232.88 L215.15,232.84 L215.40,232.80 L215.65,232.76 L215.90,232.72 L216.15,232.69 L216.40,232.66 L216.80,232.20" stroke="#9cc4f6" stroke-width="0.85" fill="none" stroke-linejoin="round"/>
<path d="M171.50,232.20 L176.30,232.20 L176.55,232.20 L176.80,232.20 L177.05,232.72 L177.30,233.20 L177.55,233.61 L177.80,233.93 L178.05,234.13 L178.30,234.20 L178.55,234.04 L178.80,233.89 L179.05,233.76 L179.30,233.63 L179.55,233.52 L179.80,233.41 L180.05,233.32 L180.30,233.23 L180.55,233.14 L180.80,233.07 L181.05,233.00 L181.30,232.94 L181.55,232.88 L181.80,232.82 L182.05,232.77 L182.30,232.73 L182.55,232.69 L182.80,232.65 L183.05,232.61 L183.30,232.58 L183.55,232.55 L183.80,232.52 L184.05,232.49 L184.30,232.47 L184.55,232.45 L184.80,232.43 L185.05,232.41 L185.30,232.39 L185.55,232.38 L185.80,232.36 L186.05,232.35 L186.30,232.34 L186.55,232.33 L186.80,232.32 L187.05,232.31 L187.30,232.30 L187.55,232.29 L187.80,232.28 L188.05,232.28 L188.30,232.27 L188.55,232.27 L188.80,232.26 L189.05,232.26 L189.30,232.25 L189.55,232.25 L189.80,232.24 L190.05,232.24 L190.30,232.24 L190.55,232.23 L190.80,232.23 L191.05,232.23 L191.30,232.23 L191.55,232.22 L191.80,232.22 L192.05,232.22 L192.30,232.22 L192.55,232.22 L192.80,232.22 L193.05,232.21 L193.30,232.21 L193.55,232.21 L193.80,232.21 L194.05,232.21 L194.30,232.21 L194.55,232.21 L194.80,232.21 L195.05,232.21 L195.30,232.21 L195.55,232.21 L195.80,232.21 L196.05,232.21 L196.30,232.20 L196.55,232.20 L196.80,232.20 L197.05,232.20 L197.30,232.20 L197.55,232.20 L197.80,232.20 L198.05,232.20 L198.30,232.20 L198.55,232.20 L198.90,232.20 L199.15,232.20 L199.40,232.20 L199.65,232.98 L199.90,233.70 L200.15,234.32 L200.40,234.80 L200.65,235.10 L200.90,235.20 L201.15,234.96 L201.40,234.74 L201.65,234.54 L201.90,234.35 L202.15,234.18 L202.40,234.02 L202.65,233.87 L202.90,233.74 L203.15,233.62 L203.40,233.50 L203.65,233.40 L203.90,233.30 L204.15,233.22 L204.40,233.13 L204.65,233.06 L204.90,232.99 L205.15,232.93 L205.40,232.87 L205.65,232.82 L205.90,232.77 L206.15,232.72 L206.40,232.68 L206.65,232.64 L206.90,232.61 L207.15,232.57 L207.40,232.54 L207.65,232.52 L207.90,232.49 L208.15,232.47 L208.40,232.45 L208.65,232.43 L208.90,232.41 L209.15,232.39 L209.40,232.38 L209.65,232.36 L209.90,232.35 L210.15,232.34 L210.40,232.33 L210.65,232.32 L210.90,232.31 L211.15,232.30 L211.40,232.29 L211.65,232.28 L211.90,232.28 L212.15,232.27 L212.40,232.26 L212.65,232.26 L212.90,232.25 L213.15,232.25 L213.40,232.25 L213.65,232.24 L213.90,232.24 L214.15,232.24 L214.40,232.23 L214.65,232.23 L214.90,232.23 L215.15,232.23 L215.40,232.22 L215.65,232.22 L215.90,232.22 L216.15,232.22 L216.40,232.22 L216.80,232.20" stroke="#4646ee" stroke-width="0.95" fill="none" stroke-linejoin="round"/>
<line x1="176.30" y1="229.50" x2="176.30" y2="259.00" stroke="#4646ee" stroke-width="0.8" />
<line x1="198.90" y1="229.50" x2="198.90" y2="259.00" stroke="#4646ee" stroke-width="0.8" />
<path d="M225.50,232.20 L231.20,232.20 L231.45,232.20 L231.70,232.20 L231.95,232.20 L232.20,234.55 L232.45,237.39 L232.70,240.04 L232.95,242.38 L233.20,244.34 L233.45,245.82 L233.70,246.79 L233.95,247.19 L234.20,246.37 L234.45,245.39 L234.70,244.48 L234.95,243.63 L235.20,242.85 L235.45,242.11 L235.70,241.43 L235.95,240.79 L236.20,240.20 L236.45,239.65 L236.70,239.14 L236.95,238.66 L237.20,238.21 L237.45,237.80 L237.70,237.41 L237.95,237.05 L238.20,236.72 L238.45,236.41 L238.70,236.12 L238.95,235.85 L239.20,235.60 L239.45,235.36 L239.70,235.14 L239.95,234.94 L240.20,234.75 L240.45,234.58 L240.70,234.41 L240.95,234.26 L241.20,234.12 L241.45,233.99 L241.70,233.86 L241.95,233.75 L242.20,233.64 L242.45,233.54 L242.70,233.45 L242.95,233.36 L243.20,233.28 L243.45,233.21 L243.70,233.14 L243.95,233.07 L244.20,233.01 L244.45,232.96 L244.70,232.91 L244.95,232.86 L245.20,232.81 L245.45,232.77 L245.70,232.73 L245.95,232.69 L246.20,232.66 L246.45,232.63 L246.70,232.60 L246.95,232.57 L247.20,232.55 L247.45,232.52 L247.70,232.50 L247.95,232.48 L248.20,232.46 L248.45,232.44 L248.70,232.42 L248.95,232.41 L249.20,232.39 L249.45,232.38 L249.70,232.37 L249.95,232.36 L250.20,232.35 L250.45,232.34 L250.70,232.33 L250.95,232.32 L251.20,232.31 L251.45,232.30 L251.70,232.30 L251.95,232.29 L252.20,232.28 L252.45,232.28 L252.70,232.27 L252.95,232.27 L253.40,232.20 L253.65,232.20 L253.90,232.20 L254.15,232.20 L254.40,235.80 L254.65,240.16 L254.90,244.22 L255.15,247.81 L255.40,250.81 L255.65,253.09 L255.90,254.56 L256.15,255.18 L256.40,253.92 L256.65,252.43 L256.90,251.03 L257.15,249.73 L257.40,248.52 L257.65,247.40 L257.90,246.35 L258.15,245.38 L258.40,244.47 L258.65,243.62 L258.90,242.83 L259.15,242.10 L259.40,241.42 L259.65,240.78 L259.90,240.19 L260.15,239.64 L260.40,239.13 L260.65,238.65 L260.90,238.21 L261.15,237.79 L261.40,237.41 L261.65,237.05 L261.90,236.71 L262.15,236.40 L262.40,236.11 L262.65,235.84 L262.90,235.59 L263.15,235.36 L263.40,235.14 L263.65,234.94 L263.90,234.75 L264.15,234.57 L264.40,234.41 L264.65,234.26 L264.90,234.12 L265.15,233.98 L265.40,233.86 L265.65,233.75 L265.90,233.64 L266.15,233.54 L266.40,233.45 L266.65,233.36 L266.90,233.28 L267.15,233.21 L267.40,233.14 L267.65,233.07 L267.90,233.01 L268.15,232.96 L268.40,232.90 L268.65,232.86 L268.90,232.81 L269.15,232.77 L269.40,232.73 L269.65,232.69 L269.90,232.66 L270.15,232.63 L270.40,232.60 L270.80,232.20" stroke="#9cc4f6" stroke-width="0.85" fill="none" stroke-linejoin="round"/>
<path d="M225.50,232.20 L231.20,232.20 L231.45,232.20 L231.70,232.20 L231.95,234.27 L232.20,236.20 L232.45,237.86 L232.70,239.13 L232.95,239.93 L233.20,240.20 L233.45,239.44 L233.70,238.75 L233.95,238.13 L234.20,237.56 L234.45,237.05 L234.70,236.59 L234.95,236.17 L235.20,235.79 L235.45,235.45 L235.70,235.14 L235.95,234.86 L236.20,234.61 L236.45,234.38 L236.70,234.17 L236.95,233.99 L237.20,233.82 L237.45,233.66 L237.70,233.52 L237.95,233.40 L238.20,233.28 L238.45,233.18 L238.70,233.09 L238.95,233.00 L239.20,232.93 L239.45,232.86 L239.70,232.79 L239.95,232.74 L240.20,232.69 L240.45,232.64 L240.70,232.60 L240.95,232.56 L241.20,232.53 L241.45,232.50 L241.70,232.47 L241.95,232.44 L242.20,232.42 L242.45,232.40 L242.70,232.38 L242.95,232.36 L243.20,232.35 L243.45,232.33 L243.70,232.32 L243.95,232.31 L244.20,232.30 L244.45,232.29 L244.70,232.28 L244.95,232.27 L245.20,232.27 L245.45,232.26 L245.70,232.25 L245.95,232.25 L246.20,232.24 L246.45,232.24 L246.70,232.24 L246.95,232.23 L247.20,232.23 L247.45,232.23 L247.70,232.22 L247.95,232.22 L248.20,232.22 L248.45,232.22 L248.70,232.22 L248.95,232.21 L249.20,232.21 L249.45,232.21 L249.70,232.21 L249.95,232.21 L250.20,232.21 L250.45,232.21 L250.70,232.21 L250.95,232.21 L251.20,232.21 L251.45,232.21 L251.70,232.20 L251.95,232.20 L252.20,232.20 L252.45,232.20 L252.70,232.20 L252.95,232.20 L253.40,232.20 L253.65,232.20 L253.90,232.20 L254.15,235.56 L254.40,238.70 L254.65,241.39 L254.90,243.46 L255.15,244.76 L255.40,245.20 L255.65,244.16 L255.90,243.20 L256.15,242.32 L256.40,241.51 L256.65,240.77 L256.90,240.08 L257.15,239.45 L257.40,238.87 L257.65,238.34 L257.90,237.85 L258.15,237.40 L258.40,236.98 L258.65,236.60 L258.90,236.25 L259.15,235.92 L259.40,235.63 L259.65,235.35 L259.90,235.10 L260.15,234.87 L260.40,234.66 L260.65,234.46 L260.90,234.28 L261.15,234.11 L261.40,233.96 L261.65,233.82 L261.90,233.69 L262.15,233.57 L262.40,233.46 L262.65,233.36 L262.90,233.27 L263.15,233.18 L263.40,233.10 L263.65,233.03 L263.90,232.96 L264.15,232.90 L264.40,232.85 L264.65,232.80 L264.90,232.75 L265.15,232.70 L265.40,232.66 L265.65,232.63 L265.90,232.59 L266.15,232.56 L266.40,232.53 L266.65,232.51 L266.90,232.48 L267.15,232.46 L267.40,232.44 L267.65,232.42 L267.90,232.40 L268.15,232.39 L268.40,232.37 L268.65,232.36 L268.90,232.34 L269.15,232.33 L269.40,232.32 L269.65,232.31 L269.90,232.30 L270.15,232.30 L270.40,232.29 L270.80,232.20" stroke="#4646ee" stroke-width="0.95" fill="none" stroke-linejoin="round"/>
<line x1="231.20" y1="229.50" x2="231.20" y2="259.00" stroke="#4646ee" stroke-width="0.8" />
<line x1="253.40" y1="229.50" x2="253.40" y2="259.00" stroke="#4646ee" stroke-width="0.8" />
<path d="M246,262.4 H267.3 V242.6" stroke="#111" stroke-width="1.5" fill="none" />
<text x="270.00" y="255.70" font-size="8.85" fill="#222" stroke="#222" stroke-width="0.15" text-anchor="start" >100 pA</text>
<text x="246.70" y="274.10" font-size="8.85" fill="#222" stroke="#222" stroke-width="0.15" text-anchor="start" >50 ms</text>
<line x1="184.13" y1="314.73" x2="263.50" y2="314.73" stroke="#c4c4c4" stroke-width="0.8" stroke-dasharray="3,2"/>
<line x1="134.10" y1="286.10" x2="134.10" y2="372.50" stroke="#222" stroke-width="1.2" />
<line x1="133.60" y1="372.00" x2="264.00" y2="372.00" stroke="#222" stroke-width="1.4" />
<line x1="130.10" y1="372.00" x2="134.10" y2="372.00" stroke="#222" stroke-width="1" />
<text x="128.30" y="374.55" font-size="8.8" fill="#222" stroke="#222" stroke-width="0.15" text-anchor="end" >0</text>
<line x1="130.10" y1="343.37" x2="134.10" y2="343.37" stroke="#222" stroke-width="1" />
<text x="128.30" y="345.92" font-size="8.8" fill="#222" stroke="#222" stroke-width="0.15" text-anchor="end" >50</text>
<line x1="130.10" y1="314.73" x2="134.10" y2="314.73" stroke="#222" stroke-width="1" />
<text x="128.30" y="317.29" font-size="8.8" fill="#222" stroke="#222" stroke-width="0.15" text-anchor="end" >100</text>
<line x1="130.10" y1="286.10" x2="134.10" y2="286.10" stroke="#222" stroke-width="1" />
<text x="128.30" y="288.65" font-size="8.8" fill="#222" stroke="#222" stroke-width="0.15" text-anchor="end" >150</text>
<line x1="134.10" y1="372.00" x2="134.10" y2="375.50" stroke="#222" stroke-width="1" />
<text x="134.10" y="386.00" font-size="8.8" fill="#222" stroke="#222" stroke-width="0.15" text-anchor="middle" >0</text>
<line x1="177.23" y1="372.00" x2="177.23" y2="375.50" stroke="#222" stroke-width="1" />
<text x="177.23" y="386.00" font-size="8.8" fill="#222" stroke="#222" stroke-width="0.15" text-anchor="middle" >5</text>
<line x1="220.37" y1="372.00" x2="220.37" y2="375.50" stroke="#222" stroke-width="1" />
<text x="220.37" y="386.00" font-size="8.8" fill="#222" stroke="#222" stroke-width="0.15" text-anchor="middle" >10</text>
<line x1="263.50" y1="372.00" x2="263.50" y2="375.50" stroke="#222" stroke-width="1" />
<text x="263.50" y="386.00" font-size="8.8" fill="#222" stroke="#222" stroke-width="0.15" text-anchor="middle" >15</text>
<text x="198.80" y="399.50" font-size="9.2" fill="#222" stroke="#222" stroke-width="0.15" text-anchor="middle" >Time (mins)</text>
<text x="106.60" y="327.70" font-size="9.25" fill="#222" stroke="#222" stroke-width="0.15" text-anchor="middle" transform="rotate(-90 106.6 327.7)" >EPSC amplitude (% ctrl)</text>
<path d="M134.1,317.1V329.8M132.4,317.1h3.4M132.4,329.8h3.4M135.6,319.6V327.3M133.9,319.6h3.4M133.9,327.3h3.4M137.0,318.2V331.8M135.3,318.2h3.4M135.3,331.8h3.4M138.5,317.2V324.1M136.8,317.2h3.4M136.8,324.1h3.4M139.9,309.9V319.7M138.2,309.9h3.4M138.2,319.7h3.4M141.4,308.6V322.7M139.7,308.6h3.4M139.7,322.7h3.4M142.8,313.2V327.1M141.1,313.2h3.4M141.1,327.1h3.4M144.3,314.2V325.3M142.6,314.2h3.4M142.6,325.3h3.4M145.7,316.7V326.5M144.0,316.7h3.4M144.0,326.5h3.4M147.2,317.8V323.4M145.5,317.8h3.4M145.5,323.4h3.4M148.6,317.4V326.5M146.9,317.4h3.4M146.9,326.5h3.4M150.1,311.4V324.4M148.4,311.4h3.4M148.4,324.4h3.4M151.5,303.8V315.3M149.8,303.8h3.4M149.8,315.3h3.4M153.0,308.5V314.7M151.3,308.5h3.4M151.3,314.7h3.4M154.4,302.5V310.3M152.7,302.5h3.4M152.7,310.3h3.4M155.9,308.9V316.0M154.2,308.9h3.4M154.2,316.0h3.4M157.3,307.9V314.2M155.6,307.9h3.4M155.6,314.2h3.4M158.8,311.8V319.9M157.1,311.8h3.4M157.1,319.9h3.4M160.2,310.4V315.6M158.5,310.4h3.4M158.5,315.6h3.4M161.7,306.8V316.8M160.0,306.8h3.4M160.0,316.8h3.4M163.1,311.6V318.5M161.4,311.6h3.4M161.4,318.5h3.4M164.6,309.0V315.1M162.9,309.0h3.4M162.9,315.1h3.4M166.0,301.0V313.1M164.3,301.0h3.4M164.3,313.1h3.4M167.5,304.5V314.8M165.8,304.5h3.4M165.8,314.8h3.4M168.9,307.8V314.0M167.2,307.8h3.4M167.2,314.0h3.4M170.4,308.0V316.1M168.7,308.0h3.4M168.7,316.1h3.4M171.8,307.4V314.5M170.1,307.4h3.4M170.1,314.5h3.4M173.3,308.5V315.5M171.6,308.5h3.4M171.6,315.5h3.4M174.7,310.3V319.9M173.0,310.3h3.4M173.0,319.9h3.4M176.2,312.5V321.0M174.5,312.5h3.4M174.5,321.0h3.4M177.6,315.5V323.6M175.9,315.5h3.4M175.9,323.6h3.4M179.1,314.5V320.7M177.4,314.5h3.4M177.4,320.7h3.4M180.5,313.3V327.0M178.8,313.3h3.4M178.8,327.0h3.4M182.0,315.1V322.2M180.3,315.1h3.4M180.3,322.2h3.4M183.4,314.9V327.1M181.7,314.9h3.4M181.7,327.1h3.4M184.9,320.1V331.3M183.2,320.1h3.4M183.2,331.3h3.4M186.3,327.5V341.3M184.6,327.5h3.4M184.6,341.3h3.4M187.8,330.8V338.5M186.1,330.8h3.4M186.1,338.5h3.4M189.2,346.2V352.5M187.5,346.2h3.4M187.5,352.5h3.4M190.7,346.1V352.8M189.0,346.1h3.4M189.0,352.8h3.4M192.1,350.5V360.1M190.4,350.5h3.4M190.4,360.1h3.4M193.6,352.1V360.2M191.9,352.1h3.4M191.9,360.2h3.4M195.0,352.2V362.4M193.3,352.2h3.4M193.3,362.4h3.4M196.5,352.5V361.9M194.8,352.5h3.4M194.8,361.9h3.4M197.9,355.7V361.5M196.2,355.7h3.4M196.2,361.5h3.4M199.4,355.1V363.3M197.7,355.1h3.4M197.7,363.3h3.4M200.8,357.9V362.3M199.1,357.9h3.4M199.1,362.3h3.4M202.3,355.9V363.4M200.6,355.9h3.4M200.6,363.4h3.4M203.7,358.0V365.0M202.0,358.0h3.4M202.0,365.0h3.4M205.2,357.8V365.5M203.5,357.8h3.4M203.5,365.5h3.4M206.6,355.5V361.2M204.9,355.5h3.4M204.9,361.2h3.4M208.1,357.8V365.6M206.4,357.8h3.4M206.4,365.6h3.4M209.5,354.9V362.3M207.8,354.9h3.4M207.8,362.3h3.4M211.0,359.2V365.6M209.3,359.2h3.4M209.3,365.6h3.4M212.4,360.7V367.2M210.7,360.7h3.4M210.7,367.2h3.4M213.9,358.4V365.3M212.2,358.4h3.4M212.2,365.3h3.4M215.3,359.8V364.2M213.6,359.8h3.4M213.6,364.2h3.4M216.8,358.9V364.9M215.1,358.9h3.4M215.1,364.9h3.4M218.2,361.7V365.6M216.5,361.7h3.4M216.5,365.6h3.4M219.7,359.7V367.5M218.0,359.7h3.4M218.0,367.5h3.4M221.2,357.1V364.2M219.5,357.1h3.4M219.5,364.2h3.4M222.6,358.8V365.2M220.9,358.8h3.4M220.9,365.2h3.4M224.1,358.3V361.7M222.4,358.3h3.4M222.4,361.7h3.4M225.5,355.3V364.9M223.8,355.3h3.4M223.8,364.9h3.4M227.0,355.8V365.0M225.3,355.8h3.4M225.3,365.0h3.4M228.4,348.6V353.6M226.7,348.6h3.4M226.7,353.6h3.4M229.9,343.4V353.5M228.2,343.4h3.4M228.2,353.5h3.4M231.3,339.0V349.8M229.6,339.0h3.4M229.6,349.8h3.4M232.8,336.0V343.9M231.1,336.0h3.4M231.1,343.9h3.4M234.2,328.6V340.9M232.5,328.6h3.4M232.5,340.9h3.4M235.7,326.9V341.5M234.0,326.9h3.4M234.0,341.5h3.4M237.1,330.5V343.7M235.4,330.5h3.4M235.4,343.7h3.4M238.6,327.7V333.5M236.9,327.7h3.4M236.9,333.5h3.4M240.0,323.0V337.9M238.3,323.0h3.4M238.3,337.9h3.4M241.5,327.4V334.7M239.8,327.4h3.4M239.8,334.7h3.4M242.9,325.6V335.2M241.2,325.6h3.4M241.2,335.2h3.4M244.4,324.6V335.5M242.7,324.6h3.4M242.7,335.5h3.4M245.8,321.1V329.5M244.1,321.1h3.4M244.1,329.5h3.4M247.3,322.2V329.8M245.6,322.2h3.4M245.6,329.8h3.4M248.7,322.6V330.0M247.0,322.6h3.4M247.0,330.0h3.4M250.2,320.5V335.8M248.5,320.5h3.4M248.5,335.8h3.4M251.6,319.4V332.0M249.9,319.4h3.4M249.9,332.0h3.4M253.1,325.5V334.6M251.4,325.5h3.4M251.4,334.6h3.4M254.5,321.3V328.0M252.8,321.3h3.4M252.8,328.0h3.4M256.0,317.7V328.5M254.3,317.7h3.4M254.3,328.5h3.4M257.4,319.2V328.8M255.7,319.2h3.4M255.7,328.8h3.4M258.9,323.7V330.4M257.2,323.7h3.4M257.2,330.4h3.4M260.3,314.6V326.8M258.6,314.6h3.4M258.6,326.8h3.4M261.8,321.3V337.0M260.1,321.3h3.4M260.1,337.0h3.4" stroke="#2424ee" stroke-width="0.9" fill="none" />
<circle cx="134.1" cy="323.4" r="1.75" fill="#2424ee"/>
<circle cx="135.6" cy="323.5" r="1.75" fill="#2424ee"/>
<circle cx="137.0" cy="325.0" r="1.75" fill="#2424ee"/>
<circle cx="138.5" cy="320.7" r="1.75" fill="#2424ee"/>
<circle cx="139.9" cy="314.8" r="1.75" fill="#2424ee"/>
<circle cx="141.4" cy="315.7" r="1.75" fill="#2424ee"/>
<circle cx="142.8" cy="320.2" r="1.75" fill="#2424ee"/>
<circle cx="144.3" cy="319.7" r="1.75" fill="#2424ee"/>
<circle cx="145.7" cy="321.6" r="1.75" fill="#2424ee"/>
<circle cx="147.2" cy="320.6" r="1.75" fill="#2424ee"/>
<circle cx="148.6" cy="322.0" r="1.75" fill="#2424ee"/>
<circle cx="150.1" cy="317.9" r="1.75" fill="#2424ee"/>
<circle cx="151.5" cy="309.6" r="1.75" fill="#2424ee"/>
<circle cx="153.0" cy="311.6" r="1.75" fill="#2424ee"/>
<circle cx="154.4" cy="306.4" r="1.75" fill="#2424ee"/>
<circle cx="155.9" cy="312.4" r="1.75" fill="#2424ee"/>
<circle cx="157.3" cy="311.0" r="1.75" fill="#2424ee"/>
<circle cx="158.8" cy="315.8" r="1.75" fill="#2424ee"/>
<circle cx="160.2" cy="313.0" r="1.75" fill="#2424ee"/>
<circle cx="161.7" cy="311.8" r="1.75" fill="#2424ee"/>
<circle cx="163.1" cy="315.0" r="1.75" fill="#2424ee"/>
<circle cx="164.6" cy="312.1" r="1.75" fill="#2424ee"/>
<circle cx="166.0" cy="307.1" r="1.75" fill="#2424ee"/>
<circle cx="167.5" cy="309.7" r="1.75" fill="#2424ee"/>
<circle cx="168.9" cy="310.9" r="1.75" fill="#2424ee"/>
<circle cx="170.4" cy="312.1" r="1.75" fill="#2424ee"/>
<circle cx="171.8" cy="310.9" r="1.75" fill="#2424ee"/>
<circle cx="173.3" cy="312.0" r="1.75" fill="#2424ee"/>
<circle cx="174.7" cy="315.1" r="1.75" fill="#2424ee"/>
<circle cx="176.2" cy="316.7" r="1.75" fill="#2424ee"/>
<circle cx="177.6" cy="319.6" r="1.75" fill="#2424ee"/>
<circle cx="179.1" cy="317.6" r="1.75" fill="#2424ee"/>
<circle cx="180.5" cy="320.1" r="1.75" fill="#2424ee"/>
<circle cx="182.0" cy="318.6" r="1.75" fill="#2424ee"/>
<circle cx="183.4" cy="321.0" r="1.75" fill="#2424ee"/>
<circle cx="184.9" cy="325.7" r="1.75" fill="#2424ee"/>
<circle cx="186.3" cy="334.4" r="1.75" fill="#2424ee"/>
<circle cx="187.8" cy="334.6" r="1.75" fill="#2424ee"/>
<circle cx="189.2" cy="349.3" r="1.75" fill="#2424ee"/>
<circle cx="190.7" cy="349.4" r="1.75" fill="#2424ee"/>
<circle cx="192.1" cy="355.3" r="1.75" fill="#2424ee"/>
<circle cx="193.6" cy="356.2" r="1.75" fill="#2424ee"/>
<circle cx="195.0" cy="357.3" r="1.75" fill="#2424ee"/>
<circle cx="196.5" cy="357.2" r="1.75" fill="#2424ee"/>
<circle cx="197.9" cy="358.6" r="1.75" fill="#2424ee"/>
<circle cx="199.4" cy="359.2" r="1.75" fill="#2424ee"/>
<circle cx="200.8" cy="360.1" r="1.75" fill="#2424ee"/>
<circle cx="202.3" cy="359.6" r="1.75" fill="#2424ee"/>
<circle cx="203.7" cy="361.5" r="1.75" fill="#2424ee"/>
<circle cx="205.2" cy="361.6" r="1.75" fill="#2424ee"/>
<circle cx="206.6" cy="358.4" r="1.75" fill="#2424ee"/>
<circle cx="208.1" cy="361.7" r="1.75" fill="#2424ee"/>
<circle cx="209.5" cy="358.6" r="1.75" fill="#2424ee"/>
<circle cx="211.0" cy="362.4" r="1.75" fill="#2424ee"/>
<circle cx="212.4" cy="364.0" r="1.75" fill="#2424ee"/>
<circle cx="213.9" cy="361.9" r="1.75" fill="#2424ee"/>
<circle cx="215.3" cy="362.0" r="1.75" fill="#2424ee"/>
<circle cx="216.8" cy="361.9" r="1.75" fill="#2424ee"/>
<circle cx="218.2" cy="363.6" r="1.75" fill="#2424ee"/>
<circle cx="219.7" cy="363.6" r="1.75" fill="#2424ee"/>
<circle cx="221.2" cy="360.7" r="1.75" fill="#2424ee"/>
<circle cx="222.6" cy="362.0" r="1.75" fill="#2424ee"/>
<circle cx="224.1" cy="360.0" r="1.75" fill="#2424ee"/>
<circle cx="225.5" cy="360.1" r="1.75" fill="#2424ee"/>
<circle cx="227.0" cy="360.4" r="1.75" fill="#2424ee"/>
<circle cx="228.4" cy="351.1" r="1.75" fill="#2424ee"/>
<circle cx="229.9" cy="348.4" r="1.75" fill="#2424ee"/>
<circle cx="231.3" cy="344.4" r="1.75" fill="#2424ee"/>
<circle cx="232.8" cy="340.0" r="1.75" fill="#2424ee"/>
<circle cx="234.2" cy="334.8" r="1.75" fill="#2424ee"/>
<circle cx="235.7" cy="334.2" r="1.75" fill="#2424ee"/>
<circle cx="237.1" cy="337.1" r="1.75" fill="#2424ee"/>
<circle cx="238.6" cy="330.6" r="1.75" fill="#2424ee"/>
<circle cx="240.0" cy="330.5" r="1.75" fill="#2424ee"/>
<circle cx="241.5" cy="331.0" r="1.75" fill="#2424ee"/>
<circle cx="242.9" cy="330.4" r="1.75" fill="#2424ee"/>
<circle cx="244.4" cy="330.1" r="1.75" fill="#2424ee"/>
<circle cx="245.8" cy="325.3" r="1.75" fill="#2424ee"/>
<circle cx="247.3" cy="326.0" r="1.75" fill="#2424ee"/>
<circle cx="248.7" cy="326.3" r="1.75" fill="#2424ee"/>
<circle cx="250.2" cy="328.1" r="1.75" fill="#2424ee"/>
<circle cx="251.6" cy="325.7" r="1.75" fill="#2424ee"/>
<circle cx="253.1" cy="330.1" r="1.75" fill="#2424ee"/>
<circle cx="254.5" cy="324.7" r="1.75" fill="#2424ee"/>
<circle cx="256.0" cy="323.1" r="1.75" fill="#2424ee"/>
<circle cx="257.4" cy="324.0" r="1.75" fill="#2424ee"/>
<circle cx="258.9" cy="327.1" r="1.75" fill="#2424ee"/>
<circle cx="260.3" cy="320.7" r="1.75" fill="#2424ee"/>
<circle cx="261.8" cy="329.2" r="1.75" fill="#2424ee"/>
<line x1="182.20" y1="285.60" x2="221.30" y2="285.60" stroke="#111" stroke-width="3" />
<line x1="223.70" y1="285.60" x2="252.60" y2="285.60" stroke="#111" stroke-width="2.9" stroke-dasharray="2.4,3.6"/>
<line x1="254.60" y1="284.40" x2="254.60" y2="286.80" stroke="#444" stroke-width="0.7" />
<text x="182.98" y="281.80" font-size="9.0" fill="#222" stroke="#222" stroke-width="0.15" text-anchor="start" >Baclofen</text>
<text x="224.55" y="281.80" font-size="9.0" fill="#222" stroke="#222" stroke-width="0.15" text-anchor="start" >CGP</text>
<text x="370.97" y="207.10" font-size="10.4" fill="#3434ee" stroke="#3434ee" stroke-width="0.15" text-anchor="start" >L5</text>
<line x1="385.80" y1="203.67" x2="392.50" y2="203.67" stroke="#3434ee" stroke-width="0.9" />
<polygon points="391.80,201.77 395.00,203.67 391.80,205.57" fill="#3434ee"/>
<text x="397.77" y="207.10" font-size="10.4" fill="#3434ee" stroke="#3434ee" stroke-width="0.15" text-anchor="start" >L5 PC</text>
<text x="338.80" y="222.10" font-size="10.2" fill="#222" stroke="#222" stroke-width="0.15" text-anchor="start" >Ctrl</text>
<text x="391.40" y="222.10" font-size="10.2" fill="#222" stroke="#222" stroke-width="0.15" text-anchor="start" >Bacl.</text>
<text x="446.90" y="222.10" font-size="10.2" fill="#222" stroke="#222" stroke-width="0.15" text-anchor="start" >CGP</text>
<path d="M327.40,233.40 L332.40,233.40 L332.65,233.40 L332.90,239.89 L333.15,247.04 L333.40,252.11 L333.65,254.34 L333.90,251.84 L334.15,249.23 L334.40,247.13 L334.65,245.44 L334.90,244.07 L335.15,242.95 L335.40,242.03 L335.65,241.26 L335.90,240.62 L336.15,240.07 L336.40,239.60 L336.65,239.20 L336.90,238.84 L337.15,238.53 L337.40,238.25 L337.65,237.99 L337.90,237.76 L338.15,237.55 L338.40,237.35 L338.65,237.17 L338.90,237.00 L339.15,236.84 L339.40,236.69 L339.65,236.55 L339.90,236.41 L340.15,236.29 L340.40,236.17 L340.65,236.05 L340.90,235.94 L341.15,235.83 L341.40,235.73 L341.65,235.64 L341.90,235.55 L342.15,235.46 L342.40,235.37 L342.65,235.29 L342.90,235.21 L343.15,235.14 L343.40,235.07 L343.65,235.00 L343.90,234.94 L344.15,234.87 L344.40,234.81 L344.65,234.75 L344.90,234.70 L345.15,234.65 L345.40,234.60 L345.65,234.55 L345.90,234.50 L346.15,234.45 L346.40,234.41 L346.65,234.37 L346.90,234.33 L347.15,234.29 L347.40,234.26 L347.65,234.22 L347.90,234.19 L348.15,234.16 L348.40,234.12 L348.65,234.10 L348.90,234.07 L349.15,234.04 L349.40,234.01 L349.65,233.99 L349.90,233.96 L350.15,233.94 L350.40,233.92 L350.65,233.90 L350.90,233.88 L351.15,233.86 L351.40,233.84 L351.65,233.82 L351.90,233.80 L352.15,233.79 L352.40,233.77 L352.65,233.76 L352.90,233.74 L353.15,233.73 L353.40,233.72 L353.65,233.70 L353.90,233.69 L354.15,233.68 L354.60,233.40 L354.85,233.40 L355.10,239.89 L355.35,247.04 L355.60,252.11 L355.85,254.34 L356.10,252.02 L356.35,249.58 L356.60,247.62 L356.85,246.03 L357.10,244.74 L357.35,243.67 L357.60,242.79 L357.85,242.04 L358.10,241.42 L358.35,240.88 L358.60,240.41 L358.85,240.01 L359.10,239.65 L359.35,239.32 L359.60,239.03 L359.85,238.77 L360.10,238.53 L360.35,238.30 L360.60,238.09 L360.85,237.89 L361.10,237.71 L361.35,237.54 L361.60,237.37 L361.85,237.21 L362.10,237.06 L362.35,236.92 L362.60,236.79 L362.85,236.65 L363.10,236.53 L363.35,236.41 L363.60,236.30 L363.85,236.19 L364.10,236.08 L364.35,235.98 L364.60,235.88 L364.85,235.79 L365.10,235.70 L365.35,235.61 L365.60,235.53 L365.85,235.45 L366.10,235.37 L366.35,235.29 L366.60,235.22 L366.85,235.15 L367.10,235.09 L367.35,235.02 L367.60,234.96 L367.85,234.90 L368.10,234.85 L368.35,234.79 L368.60,234.74 L368.85,234.69 L369.10,234.64 L369.35,234.59 L369.60,234.55 L369.85,234.51 L370.10,234.46 L370.35,234.42 L370.60,234.38 L370.85,234.35 L371.10,234.31 L371.35,234.28 L371.60,234.24 L372.00,233.40" stroke="#4646ee" stroke-width="0.95" fill="none" stroke-linejoin="round"/>
<line x1="332.40" y1="231.00" x2="332.40" y2="256.30" stroke="#4646ee" stroke-width="0.8" />
<line x1="354.60" y1="231.00" x2="354.60" y2="261.00" stroke="#4646ee" stroke-width="0.8" />
<path d="M383.30,233.40 L388.10,233.40 L388.35,233.40 L388.60,233.40 L388.85,233.40 L389.10,236.72 L389.35,240.67 L389.60,244.18 L389.85,247.05 L390.10,249.11 L390.35,250.22 L390.60,249.98 L390.85,248.98 L391.10,248.05 L391.35,247.18 L391.60,246.37 L391.85,245.61 L392.10,244.90 L392.35,244.23 L392.60,243.61 L392.85,243.03 L393.10,242.48 L393.35,241.97 L393.60,241.49 L393.85,241.05 L394.10,240.63 L394.35,240.23 L394.60,239.86 L394.85,239.51 L395.10,239.18 L395.35,238.88 L395.60,238.59 L395.85,238.31 L396.10,238.06 L396.35,237.82 L396.60,237.59 L396.85,237.37 L397.10,237.17 L397.35,236.98 L397.60,236.80 L397.85,236.63 L398.10,236.47 L398.35,236.32 L398.60,236.17 L398.85,236.04 L399.10,235.91 L399.35,235.79 L399.60,235.67 L399.85,235.57 L400.10,235.46 L400.35,235.36 L400.60,235.27 L400.85,235.18 L401.10,235.10 L401.35,235.02 L401.60,234.95 L401.85,234.88 L402.10,234.81 L402.35,234.74 L402.60,234.68 L402.85,234.62 L403.10,234.57 L403.35,234.52 L403.60,234.47 L403.85,234.42 L404.10,234.37 L404.35,234.33 L404.60,234.29 L404.85,234.25 L405.10,234.21 L405.35,234.18 L405.60,234.14 L405.85,234.11 L406.10,234.08 L406.35,234.05 L406.60,234.02 L406.85,233.99 L407.10,233.97 L407.35,233.94 L407.60,233.92 L407.85,233.90 L408.10,233.88 L408.35,233.86 L408.60,233.84 L408.85,233.82 L409.10,233.80 L409.35,233.78 L409.60,233.77 L409.85,233.75 L410.10,233.74 L410.50,233.40 L410.75,233.40 L411.00,233.40 L411.25,233.40 L411.50,236.91 L411.75,241.10 L412.00,244.82 L412.25,247.86 L412.50,250.03 L412.75,251.21 L413.00,250.98 L413.25,249.97 L413.50,249.03 L413.75,248.15 L414.00,247.33 L414.25,246.56 L414.50,245.84 L414.75,245.17 L415.00,244.54 L415.25,243.95 L415.50,243.39 L415.75,242.87 L416.00,242.38 L416.25,241.92 L416.50,241.49 L416.75,241.09 L417.00,240.70 L417.25,240.35 L417.50,240.01 L417.75,239.69 L418.00,239.39 L418.25,239.10 L418.50,238.84 L418.75,238.58 L419.00,238.34 L419.25,238.12 L419.50,237.90 L419.75,237.70 L420.00,237.51 L420.25,237.33 L420.50,237.15 L420.75,236.99 L421.00,236.83 L421.25,236.69 L421.50,236.55 L421.75,236.41 L422.00,236.29 L422.25,236.17 L422.50,236.05 L422.75,235.94 L423.00,235.84 L423.25,235.74 L423.50,235.64 L423.75,235.55 L424.00,235.47 L424.25,235.38 L424.50,235.30 L424.75,235.23 L425.00,235.16 L425.25,235.09 L425.50,235.02 L425.75,234.96 L426.00,234.90 L426.25,234.84 L426.50,234.79 L426.75,234.73 L427.00,234.68 L427.25,234.63 L427.50,234.59 L427.75,234.54 L428.00,234.50 L428.25,234.46 L428.60,233.40" stroke="#9cc4f6" stroke-width="0.85" fill="none" stroke-linejoin="round"/>
<path d="M383.30,233.40 L388.10,233.40 L388.35,233.40 L388.60,233.40 L388.85,233.92 L389.10,234.40 L389.35,234.81 L389.60,235.13 L389.85,235.33 L390.10,235.40 L390.35,235.24 L390.60,235.09 L390.85,234.96 L391.10,234.83 L391.35,234.72 L391.60,234.61 L391.85,234.52 L392.10,234.43 L392.35,234.34 L392.60,234.27 L392.85,234.20 L393.10,234.14 L393.35,234.08 L393.60,234.02 L393.85,233.97 L394.10,233.93 L394.35,233.89 L394.60,233.85 L394.85,233.81 L395.10,233.78 L395.35,233.75 L395.60,233.72 L395.85,233.69 L396.10,233.67 L396.35,233.65 L396.60,233.63 L396.85,233.61 L397.10,233.59 L397.35,233.58 L397.60,233.56 L397.85,233.55 L398.10,233.54 L398.35,233.53 L398.60,233.52 L398.85,233.51 L399.10,233.50 L399.35,233.49 L399.60,233.48 L399.85,233.48 L400.10,233.47 L400.35,233.47 L400.60,233.46 L400.85,233.46 L401.10,233.45 L401.35,233.45 L401.60,233.44 L401.85,233.44 L402.10,233.44 L402.35,233.43 L402.60,233.43 L402.85,233.43 L403.10,233.43 L403.35,233.42 L403.60,233.42 L403.85,233.42 L404.10,233.42 L404.35,233.42 L404.60,233.42 L404.85,233.41 L405.10,233.41 L405.35,233.41 L405.60,233.41 L405.85,233.41 L406.10,233.41 L406.35,233.41 L406.60,233.41 L406.85,233.41 L407.10,233.41 L407.35,233.41 L407.60,233.41 L407.85,233.41 L408.10,233.40 L408.35,233.40 L408.60,233.40 L408.85,233.40 L409.10,233.40 L409.35,233.40 L409.60,233.40 L409.85,233.40 L410.10,233.40 L410.50,233.40 L410.75,233.40 L411.00,233.40 L411.25,233.92 L411.50,234.40 L411.75,234.81 L412.00,235.13 L412.25,235.33 L412.50,235.40 L412.75,235.24 L413.00,235.09 L413.25,234.96 L413.50,234.83 L413.75,234.72 L414.00,234.61 L414.25,234.52 L414.50,234.43 L414.75,234.34 L415.00,234.27 L415.25,234.20 L415.50,234.14 L415.75,234.08 L416.00,234.02 L416.25,233.97 L416.50,233.93 L416.75,233.89 L417.00,233.85 L417.25,233.81 L417.50,233.78 L417.75,233.75 L418.00,233.72 L418.25,233.69 L418.50,233.67 L418.75,233.65 L419.00,233.63 L419.25,233.61 L419.50,233.59 L419.75,233.58 L420.00,233.56 L420.25,233.55 L420.50,233.54 L420.75,233.53 L421.00,233.52 L421.25,233.51 L421.50,233.50 L421.75,233.49 L422.00,233.48 L422.25,233.48 L422.50,233.47 L422.75,233.47 L423.00,233.46 L423.25,233.46 L423.50,233.45 L423.75,233.45 L424.00,233.44 L424.25,233.44 L424.50,233.44 L424.75,233.43 L425.00,233.43 L425.25,233.43 L425.50,233.43 L425.75,233.42 L426.00,233.42 L426.25,233.42 L426.50,233.42 L426.75,233.42 L427.00,233.42 L427.25,233.41 L427.50,233.41 L427.75,233.41 L428.00,233.41 L428.25,233.41 L428.60,233.40" stroke="#4646ee" stroke-width="0.95" fill="none" stroke-linejoin="round"/>
<line x1="388.10" y1="231.00" x2="388.10" y2="261.00" stroke="#4646ee" stroke-width="0.8" />
<line x1="410.50" y1="231.00" x2="410.50" y2="261.00" stroke="#4646ee" stroke-width="0.8" />
<path d="M439.50,233.40 L446.00,233.40 L446.25,233.40 L446.50,233.40 L446.75,237.80 L447.00,241.90 L447.25,245.42 L447.50,248.12 L447.75,249.82 L448.00,250.40 L448.25,248.99 L448.50,247.71 L448.75,246.56 L449.00,245.51 L449.25,244.57 L449.50,243.71 L449.75,242.93 L450.00,242.22 L450.25,241.58 L450.50,240.99 L450.75,240.45 L451.00,239.96 L451.25,239.51 L451.50,239.10 L451.75,238.72 L452.00,238.37 L452.25,238.05 L452.50,237.75 L452.75,237.48 L453.00,237.22 L453.25,236.99 L453.50,236.77 L453.75,236.57 L454.00,236.38 L454.25,236.21 L454.50,236.05 L454.75,235.89 L455.00,235.75 L455.25,235.62 L455.50,235.50 L455.75,235.38 L456.00,235.27 L456.25,235.17 L456.50,235.07 L456.75,234.98 L457.00,234.90 L457.25,234.82 L457.50,234.74 L457.75,234.67 L458.00,234.61 L458.25,234.54 L458.50,234.49 L458.75,234.43 L459.00,234.38 L459.25,234.33 L459.50,234.28 L459.75,234.23 L460.00,234.19 L460.25,234.15 L460.50,234.11 L460.75,234.08 L461.00,234.04 L461.25,234.01 L461.50,233.98 L461.75,233.95 L462.00,233.92 L462.25,233.90 L462.50,233.87 L462.75,233.85 L463.00,233.83 L463.25,233.81 L463.50,233.79 L463.75,233.77 L464.00,233.75 L464.25,233.73 L464.50,233.72 L464.75,233.70 L465.00,233.69 L465.25,233.67 L465.50,233.66 L465.75,233.65 L466.00,233.63 L466.25,233.62 L466.50,233.61 L467.00,233.40 L467.25,233.40 L467.50,233.40 L467.75,239.61 L468.00,245.40 L468.25,250.37 L468.50,254.18 L468.75,256.58 L469.00,257.40 L469.25,255.77 L469.50,254.27 L469.75,252.88 L470.00,251.60 L470.25,250.42 L470.50,249.33 L470.75,248.32 L471.00,247.39 L471.25,246.53 L471.50,245.73 L471.75,244.98 L472.00,244.29 L472.25,243.65 L472.50,243.06 L472.75,242.50 L473.00,241.98 L473.25,241.50 L473.50,241.05 L473.75,240.63 L474.00,240.24 L474.25,239.87 L474.50,239.53 L474.75,239.21 L475.00,238.90 L475.25,238.62 L475.50,238.35 L475.75,238.10 L476.00,237.87 L476.25,237.64 L476.50,237.44 L476.75,237.24 L477.00,237.05 L477.25,236.88 L477.50,236.71 L477.75,236.55 L478.00,236.41 L478.25,236.26 L478.50,236.13 L478.75,236.01 L479.00,235.89 L479.25,235.77 L479.50,235.67 L479.75,235.56 L480.00,235.47 L480.25,235.37 L480.50,235.29 L480.75,235.20 L481.00,235.12 L481.25,235.05 L481.50,234.98 L481.75,234.91 L482.00,234.84 L482.25,234.78 L482.50,234.72 L482.75,234.66 L483.00,234.61 L483.25,234.56 L483.50,234.51 L484.00,233.40" stroke="#9cc4f6" stroke-width="0.85" fill="none" stroke-linejoin="round"/>
<path d="M439.50,233.40 L446.00,233.40 L446.25,233.40 L446.50,239.09 L446.75,245.62 L447.00,250.85 L447.25,254.23 L447.50,255.40 L447.75,253.55 L448.00,251.94 L448.25,250.54 L448.50,249.31 L448.75,248.23 L449.00,247.28 L449.25,246.44 L449.50,245.70 L449.75,245.03 L450.00,244.44 L450.25,243.90 L450.50,243.41 L450.75,242.97 L451.00,242.56 L451.25,242.19 L451.50,241.85 L451.75,241.53 L452.00,241.23 L452.25,240.96 L452.50,240.70 L452.75,240.45 L453.00,240.22 L453.25,240.00 L453.50,239.79 L453.75,239.60 L454.00,239.41 L454.25,239.23 L454.50,239.05 L454.75,238.89 L455.00,238.73 L455.25,238.57 L455.50,238.42 L455.75,238.28 L456.00,238.14 L456.25,238.01 L456.50,237.88 L456.75,237.75 L457.00,237.63 L457.25,237.51 L457.50,237.40 L457.75,237.28 L458.00,237.18 L458.25,237.07 L458.50,236.97 L458.75,236.87 L459.00,236.78 L459.25,236.68 L459.50,236.59 L459.75,236.50 L460.00,236.42 L460.25,236.34 L460.50,236.26 L460.75,236.18 L461.00,236.10 L461.25,236.03 L461.50,235.95 L461.75,235.88 L462.00,235.82 L462.25,235.75 L462.50,235.69 L462.75,235.62 L463.00,235.56 L463.25,235.50 L463.50,235.45 L463.75,235.39 L464.00,235.33 L464.25,235.28 L464.50,235.23 L464.75,235.18 L465.00,235.13 L465.25,235.08 L465.50,235.04 L465.75,234.99 L466.00,234.95 L466.25,234.91 L466.50,234.87 L467.00,233.40 L467.25,233.40 L467.50,240.39 L467.75,248.40 L468.00,254.82 L468.25,258.97 L468.50,260.40 L468.75,258.46 L469.00,256.73 L469.25,255.19 L469.50,253.81 L469.75,252.57 L470.00,251.46 L470.25,250.46 L470.50,249.56 L470.75,248.74 L471.00,247.99 L471.25,247.32 L471.50,246.70 L471.75,246.13 L472.00,245.60 L472.25,245.12 L472.50,244.67 L472.75,244.25 L473.00,243.87 L473.25,243.50 L473.50,243.16 L473.75,242.84 L474.00,242.54 L474.25,242.25 L474.50,241.98 L474.75,241.73 L475.00,241.48 L475.25,241.25 L475.50,241.02 L475.75,240.81 L476.00,240.60 L476.25,240.41 L476.50,240.22 L476.75,240.03 L477.00,239.86 L477.25,239.68 L477.50,239.52 L477.75,239.36 L478.00,239.21 L478.25,239.06 L478.50,238.91 L478.75,238.77 L479.00,238.63 L479.25,238.50 L479.50,238.37 L479.75,238.24 L480.00,238.12 L480.25,238.00 L480.50,237.89 L480.75,237.78 L481.00,237.67 L481.25,237.56 L481.50,237.46 L481.75,237.35 L482.00,237.26 L482.25,237.16 L482.50,237.07 L482.75,236.98 L483.00,236.89 L483.25,236.80 L483.50,236.72 L484.00,233.40" stroke="#4646ee" stroke-width="0.95" fill="none" stroke-linejoin="round"/>
<line x1="446.00" y1="231.00" x2="446.00" y2="261.00" stroke="#4646ee" stroke-width="0.8" />
<line x1="467.00" y1="231.00" x2="467.00" y2="261.00" stroke="#4646ee" stroke-width="0.8" />
<path d="M461.1,262.3 H480.4 V252.7" stroke="#111" stroke-width="1.5" fill="none" />
<text x="484.00" y="263.30" font-size="8.85" fill="#222" stroke="#222" stroke-width="0.15" text-anchor="start" >150 pA</text>
<text x="460.60" y="274.10" font-size="8.85" fill="#222" stroke="#222" stroke-width="0.15" text-anchor="start" >50 ms</text>
<line x1="398.43" y1="314.73" x2="478.10" y2="314.73" stroke="#c4c4c4" stroke-width="0.8" stroke-dasharray="3,2"/>
<line x1="348.20" y1="286.10" x2="348.20" y2="372.50" stroke="#222" stroke-width="1.2" />
<line x1="347.70" y1="372.00" x2="478.60" y2="372.00" stroke="#222" stroke-width="1.4" />
<line x1="344.20" y1="372.00" x2="348.20" y2="372.00" stroke="#222" stroke-width="1" />
<text x="342.40" y="374.55" font-size="8.8" fill="#222" stroke="#222" stroke-width="0.15" text-anchor="end" >0</text>
<line x1="344.20" y1="343.37" x2="348.20" y2="343.37" stroke="#222" stroke-width="1" />
<text x="342.40" y="345.92" font-size="8.8" fill="#222" stroke="#222" stroke-width="0.15" text-anchor="end" >50</text>
<line x1="344.20" y1="314.73" x2="348.20" y2="314.73" stroke="#222" stroke-width="1" />
<text x="342.40" y="317.29" font-size="8.8" fill="#222" stroke="#222" stroke-width="0.15" text-anchor="end" >100</text>
<line x1="344.20" y1="286.10" x2="348.20" y2="286.10" stroke="#222" stroke-width="1" />
<text x="342.40" y="288.65" font-size="8.8" fill="#222" stroke="#222" stroke-width="0.15" text-anchor="end" >150</text>
<line x1="348.20" y1="372.00" x2="348.20" y2="375.50" stroke="#222" stroke-width="1" />
<text x="348.20" y="386.00" font-size="8.8" fill="#222" stroke="#222" stroke-width="0.15" text-anchor="middle" >0</text>
<line x1="391.50" y1="372.00" x2="391.50" y2="375.50" stroke="#222" stroke-width="1" />
<text x="391.50" y="386.00" font-size="8.8" fill="#222" stroke="#222" stroke-width="0.15" text-anchor="middle" >5</text>
<line x1="434.80" y1="372.00" x2="434.80" y2="375.50" stroke="#222" stroke-width="1" />
<text x="434.80" y="386.00" font-size="8.8" fill="#222" stroke="#222" stroke-width="0.15" text-anchor="middle" >10</text>
<line x1="478.10" y1="372.00" x2="478.10" y2="375.50" stroke="#222" stroke-width="1" />
<text x="478.10" y="386.00" font-size="8.8" fill="#222" stroke="#222" stroke-width="0.15" text-anchor="middle" >15</text>
<text x="413.15" y="399.50" font-size="9.2" fill="#222" stroke="#222" stroke-width="0.15" text-anchor="middle" >Time (mins)</text>
<text x="320.80" y="327.70" font-size="9.25" fill="#222" stroke="#222" stroke-width="0.15" text-anchor="middle" transform="rotate(-90 320.8 327.7)" >EPSC amplitude (% ctrl)</text>
<path d="M348.2,313.9V325.6M346.5,313.9h3.4M346.5,325.6h3.4M349.7,311.6V317.6M348.0,311.6h3.4M348.0,317.6h3.4M351.1,311.7V317.2M349.4,311.7h3.4M349.4,317.2h3.4M352.6,310.8V315.4M350.9,310.8h3.4M350.9,315.4h3.4M354.0,305.6V318.1M352.3,305.6h3.4M352.3,318.1h3.4M355.5,305.7V315.8M353.8,305.7h3.4M353.8,315.8h3.4M356.9,309.0V319.0M355.2,309.0h3.4M355.2,319.0h3.4M358.4,308.3V315.4M356.7,308.3h3.4M356.7,315.4h3.4M359.9,305.9V315.3M358.2,305.9h3.4M358.2,315.3h3.4M361.3,310.3V315.6M359.6,310.3h3.4M359.6,315.6h3.4M362.8,307.1V319.1M361.1,307.1h3.4M361.1,319.1h3.4M364.2,310.1V315.4M362.5,310.1h3.4M362.5,315.4h3.4M365.7,313.8V318.4M364.0,313.8h3.4M364.0,318.4h3.4M367.1,312.6V320.0M365.4,312.6h3.4M365.4,320.0h3.4M368.6,314.2V320.0M366.9,314.2h3.4M366.9,320.0h3.4M370.0,309.8V316.1M368.3,309.8h3.4M368.3,316.1h3.4M371.5,312.7V322.1M369.8,312.7h3.4M369.8,322.1h3.4M373.0,310.2V320.7M371.3,310.2h3.4M371.3,320.7h3.4M374.4,310.4V320.0M372.7,310.4h3.4M372.7,320.0h3.4M375.9,309.4V319.2M374.2,309.4h3.4M374.2,319.2h3.4M377.3,310.0V320.5M375.6,310.0h3.4M375.6,320.5h3.4M378.8,311.1V320.0M377.1,311.1h3.4M377.1,320.0h3.4M380.2,313.4V319.3M378.5,313.4h3.4M378.5,319.3h3.4M381.7,312.1V319.6M380.0,312.1h3.4M380.0,319.6h3.4M383.2,310.5V317.2M381.5,310.5h3.4M381.5,317.2h3.4M384.6,311.9V322.0M382.9,311.9h3.4M382.9,322.0h3.4M386.1,311.0V316.2M384.4,311.0h3.4M384.4,316.2h3.4M387.5,311.3V317.0M385.8,311.3h3.4M385.8,317.0h3.4M389.0,306.7V315.4M387.3,306.7h3.4M387.3,315.4h3.4M390.4,310.2V318.2M388.7,310.2h3.4M388.7,318.2h3.4M391.9,310.4V315.9M390.2,310.4h3.4M390.2,315.9h3.4M393.4,313.0V318.0M391.7,313.0h3.4M391.7,318.0h3.4M394.8,313.6V322.4M393.1,313.6h3.4M393.1,322.4h3.4M396.3,311.4V316.2M394.6,311.4h3.4M394.6,316.2h3.4M397.7,314.6V324.0M396.0,314.6h3.4M396.0,324.0h3.4M399.2,317.4V322.9M397.5,317.4h3.4M397.5,322.9h3.4M400.6,316.6V327.9M398.9,316.6h3.4M398.9,327.9h3.4M402.1,322.1V331.3M400.4,322.1h3.4M400.4,331.3h3.4M403.5,333.4V339.7M401.8,333.4h3.4M401.8,339.7h3.4M405.0,337.1V341.2M403.3,337.1h3.4M403.3,341.2h3.4M406.5,341.6V349.6M404.8,341.6h3.4M404.8,349.6h3.4M407.9,344.0V348.6M406.2,344.0h3.4M406.2,348.6h3.4M409.4,347.5V352.2M407.7,347.5h3.4M407.7,352.2h3.4M410.8,350.8V358.6M409.1,350.8h3.4M409.1,358.6h3.4M412.3,351.3V356.8M410.6,351.3h3.4M410.6,356.8h3.4M413.7,350.8V358.2M412.0,350.8h3.4M412.0,358.2h3.4M415.2,354.0V359.4M413.5,354.0h3.4M413.5,359.4h3.4M416.7,354.5V358.9M415.0,354.5h3.4M415.0,358.9h3.4M418.1,353.6V359.3M416.4,353.6h3.4M416.4,359.3h3.4M419.6,351.0V358.7M417.9,351.0h3.4M417.9,358.7h3.4M421.0,351.5V359.2M419.3,351.5h3.4M419.3,359.2h3.4M422.5,352.7V359.0M420.8,352.7h3.4M420.8,359.0h3.4M423.9,352.0V358.3M422.2,352.0h3.4M422.2,358.3h3.4M425.4,352.1V359.6M423.7,352.1h3.4M423.7,359.6h3.4M426.8,350.9V357.7M425.1,350.9h3.4M425.1,357.7h3.4M428.3,353.6V357.9M426.6,353.6h3.4M426.6,357.9h3.4M429.8,357.8V361.9M428.1,357.8h3.4M428.1,361.9h3.4M431.2,355.1V361.6M429.5,355.1h3.4M429.5,361.6h3.4M432.7,356.6V360.9M431.0,356.6h3.4M431.0,360.9h3.4M434.1,356.3V361.3M432.4,356.3h3.4M432.4,361.3h3.4M435.6,354.4V358.8M433.9,354.4h3.4M433.9,358.8h3.4M437.0,353.2V357.9M435.3,353.2h3.4M435.3,357.9h3.4M438.5,356.0V361.6M436.8,356.0h3.4M436.8,361.6h3.4M440.0,353.6V359.8M438.3,353.6h3.4M438.3,359.8h3.4M441.4,355.2V360.0M439.7,355.2h3.4M439.7,360.0h3.4M442.9,344.1V355.9M441.2,344.1h3.4M441.2,355.9h3.4M444.3,337.7V348.9M442.6,337.7h3.4M442.6,348.9h3.4M445.8,338.7V346.5M444.1,338.7h3.4M444.1,346.5h3.4M447.2,327.4V337.6M445.5,327.4h3.4M445.5,337.6h3.4M448.7,327.5V335.8M447.0,327.5h3.4M447.0,335.8h3.4M450.2,321.6V332.3M448.5,321.6h3.4M448.5,332.3h3.4M451.6,319.2V323.8M449.9,319.2h3.4M449.9,323.8h3.4M453.1,320.4V326.8M451.4,320.4h3.4M451.4,326.8h3.4M454.5,315.4V321.2M452.8,315.4h3.4M452.8,321.2h3.4M456.0,315.9V321.7M454.3,315.9h3.4M454.3,321.7h3.4M457.4,313.2V321.4M455.7,313.2h3.4M455.7,321.4h3.4M458.9,315.7V323.3M457.2,315.7h3.4M457.2,323.3h3.4M460.3,312.1V318.2M458.6,312.1h3.4M458.6,318.2h3.4M461.8,306.1V317.2M460.1,306.1h3.4M460.1,317.2h3.4M463.3,309.9V321.3M461.6,309.9h3.4M461.6,321.3h3.4M464.7,311.0V319.1M463.0,311.0h3.4M463.0,319.1h3.4M466.2,305.1V316.4M464.5,305.1h3.4M464.5,316.4h3.4M467.6,307.0V319.8M465.9,307.0h3.4M465.9,319.8h3.4M469.1,310.8V317.2M467.4,310.8h3.4M467.4,317.2h3.4M470.5,306.9V317.8M468.8,306.9h3.4M468.8,317.8h3.4M472.0,305.9V319.8M470.3,305.9h3.4M470.3,319.8h3.4M473.5,306.3V316.1M471.8,306.3h3.4M471.8,316.1h3.4M474.9,305.1V320.1M473.2,305.1h3.4M473.2,320.1h3.4M476.4,303.6V311.8M474.7,303.6h3.4M474.7,311.8h3.4" stroke="#92bff5" stroke-width="0.9" fill="none" />
<circle cx="348.2" cy="319.8" r="1.75" fill="#92bff5"/>
<circle cx="349.7" cy="314.6" r="1.75" fill="#92bff5"/>
<circle cx="351.1" cy="314.4" r="1.75" fill="#92bff5"/>
<circle cx="352.6" cy="313.1" r="1.75" fill="#92bff5"/>
<circle cx="354.0" cy="311.8" r="1.75" fill="#92bff5"/>
<circle cx="355.5" cy="310.8" r="1.75" fill="#92bff5"/>
<circle cx="356.9" cy="314.0" r="1.75" fill="#92bff5"/>
<circle cx="358.4" cy="311.8" r="1.75" fill="#92bff5"/>
<circle cx="359.9" cy="310.6" r="1.75" fill="#92bff5"/>
<circle cx="361.3" cy="313.0" r="1.75" fill="#92bff5"/>
<circle cx="362.8" cy="313.1" r="1.75" fill="#92bff5"/>
<circle cx="364.2" cy="312.8" r="1.75" fill="#92bff5"/>
<circle cx="365.7" cy="316.1" r="1.75" fill="#92bff5"/>
<circle cx="367.1" cy="316.3" r="1.75" fill="#92bff5"/>
<circle cx="368.6" cy="317.1" r="1.75" fill="#92bff5"/>
<circle cx="370.0" cy="312.9" r="1.75" fill="#92bff5"/>
<circle cx="371.5" cy="317.4" r="1.75" fill="#92bff5"/>
<circle cx="373.0" cy="315.5" r="1.75" fill="#92bff5"/>
<circle cx="374.4" cy="315.2" r="1.75" fill="#92bff5"/>
<circle cx="375.9" cy="314.3" r="1.75" fill="#92bff5"/>
<circle cx="377.3" cy="315.3" r="1.75" fill="#92bff5"/>
<circle cx="378.8" cy="315.6" r="1.75" fill="#92bff5"/>
<circle cx="380.2" cy="316.4" r="1.75" fill="#92bff5"/>
<circle cx="381.7" cy="315.8" r="1.75" fill="#92bff5"/>
<circle cx="383.2" cy="313.9" r="1.75" fill="#92bff5"/>
<circle cx="384.6" cy="317.0" r="1.75" fill="#92bff5"/>
<circle cx="386.1" cy="313.6" r="1.75" fill="#92bff5"/>
<circle cx="387.5" cy="314.1" r="1.75" fill="#92bff5"/>
<circle cx="389.0" cy="311.0" r="1.75" fill="#92bff5"/>
<circle cx="390.4" cy="314.2" r="1.75" fill="#92bff5"/>
<circle cx="391.9" cy="313.2" r="1.75" fill="#92bff5"/>
<circle cx="393.4" cy="315.5" r="1.75" fill="#92bff5"/>
<circle cx="394.8" cy="318.0" r="1.75" fill="#92bff5"/>
<circle cx="396.3" cy="313.8" r="1.75" fill="#92bff5"/>
<circle cx="397.7" cy="319.3" r="1.75" fill="#92bff5"/>
<circle cx="399.2" cy="320.2" r="1.75" fill="#92bff5"/>
<circle cx="400.6" cy="322.2" r="1.75" fill="#92bff5"/>
<circle cx="402.1" cy="326.7" r="1.75" fill="#92bff5"/>
<circle cx="403.5" cy="336.6" r="1.75" fill="#92bff5"/>
<circle cx="405.0" cy="339.2" r="1.75" fill="#92bff5"/>
<circle cx="406.5" cy="345.6" r="1.75" fill="#92bff5"/>
<circle cx="407.9" cy="346.3" r="1.75" fill="#92bff5"/>
<circle cx="409.4" cy="349.9" r="1.75" fill="#92bff5"/>
<circle cx="410.8" cy="354.7" r="1.75" fill="#92bff5"/>
<circle cx="412.3" cy="354.1" r="1.75" fill="#92bff5"/>
<circle cx="413.7" cy="354.5" r="1.75" fill="#92bff5"/>
<circle cx="415.2" cy="356.7" r="1.75" fill="#92bff5"/>
<circle cx="416.7" cy="356.7" r="1.75" fill="#92bff5"/>
<circle cx="418.1" cy="356.4" r="1.75" fill="#92bff5"/>
<circle cx="419.6" cy="354.9" r="1.75" fill="#92bff5"/>
<circle cx="421.0" cy="355.3" r="1.75" fill="#92bff5"/>
<circle cx="422.5" cy="355.9" r="1.75" fill="#92bff5"/>
<circle cx="423.9" cy="355.2" r="1.75" fill="#92bff5"/>
<circle cx="425.4" cy="355.9" r="1.75" fill="#92bff5"/>
<circle cx="426.8" cy="354.3" r="1.75" fill="#92bff5"/>
<circle cx="428.3" cy="355.7" r="1.75" fill="#92bff5"/>
<circle cx="429.8" cy="359.9" r="1.75" fill="#92bff5"/>
<circle cx="431.2" cy="358.4" r="1.75" fill="#92bff5"/>
<circle cx="432.7" cy="358.7" r="1.75" fill="#92bff5"/>
<circle cx="434.1" cy="358.8" r="1.75" fill="#92bff5"/>
<circle cx="435.6" cy="356.6" r="1.75" fill="#92bff5"/>
<circle cx="437.0" cy="355.6" r="1.75" fill="#92bff5"/>
<circle cx="438.5" cy="358.8" r="1.75" fill="#92bff5"/>
<circle cx="440.0" cy="356.7" r="1.75" fill="#92bff5"/>
<circle cx="441.4" cy="357.6" r="1.75" fill="#92bff5"/>
<circle cx="442.9" cy="350.0" r="1.75" fill="#92bff5"/>
<circle cx="444.3" cy="343.3" r="1.75" fill="#92bff5"/>
<circle cx="445.8" cy="342.6" r="1.75" fill="#92bff5"/>
<circle cx="447.2" cy="332.5" r="1.75" fill="#92bff5"/>
<circle cx="448.7" cy="331.6" r="1.75" fill="#92bff5"/>
<circle cx="450.2" cy="327.0" r="1.75" fill="#92bff5"/>
<circle cx="451.6" cy="321.5" r="1.75" fill="#92bff5"/>
<circle cx="453.1" cy="323.6" r="1.75" fill="#92bff5"/>
<circle cx="454.5" cy="318.3" r="1.75" fill="#92bff5"/>
<circle cx="456.0" cy="318.8" r="1.75" fill="#92bff5"/>
<circle cx="457.4" cy="317.3" r="1.75" fill="#92bff5"/>
<circle cx="458.9" cy="319.5" r="1.75" fill="#92bff5"/>
<circle cx="460.3" cy="315.1" r="1.75" fill="#92bff5"/>
<circle cx="461.8" cy="311.7" r="1.75" fill="#92bff5"/>
<circle cx="463.3" cy="315.6" r="1.75" fill="#92bff5"/>
<circle cx="464.7" cy="315.0" r="1.75" fill="#92bff5"/>
<circle cx="466.2" cy="310.8" r="1.75" fill="#92bff5"/>
<circle cx="467.6" cy="313.4" r="1.75" fill="#92bff5"/>
<circle cx="469.1" cy="314.0" r="1.75" fill="#92bff5"/>
<circle cx="470.5" cy="312.3" r="1.75" fill="#92bff5"/>
<circle cx="472.0" cy="312.8" r="1.75" fill="#92bff5"/>
<circle cx="473.5" cy="311.2" r="1.75" fill="#92bff5"/>
<circle cx="474.9" cy="312.6" r="1.75" fill="#92bff5"/>
<circle cx="476.4" cy="307.7" r="1.75" fill="#92bff5"/>
<line x1="402.80" y1="288.40" x2="442.20" y2="288.40" stroke="#111" stroke-width="3" />
<line x1="444.60" y1="288.40" x2="472.60" y2="288.40" stroke="#111" stroke-width="2.9" stroke-dasharray="2.4,3.6"/>
<line x1="474.60" y1="287.20" x2="474.60" y2="289.60" stroke="#444" stroke-width="0.7" />
<text x="402.78" y="283.80" font-size="9.0" fill="#222" stroke="#222" stroke-width="0.15" text-anchor="start" >Baclofen</text>
<text x="445.25" y="283.80" font-size="9.0" fill="#222" stroke="#222" stroke-width="0.15" text-anchor="start" >CGP</text>
<line x1="565.80" y1="52.50" x2="565.80" y2="166.00" stroke="#222" stroke-width="1.6" />
<line x1="565.20" y1="165.50" x2="648.50" y2="165.50" stroke="#222" stroke-width="1.6" />
<line x1="561.30" y1="165.50" x2="565.80" y2="165.50" stroke="#222" stroke-width="1.3" />
<text x="560.20" y="168.74" font-size="9.0" fill="#222" stroke="#222" stroke-width="0.15" text-anchor="end" >0</text>
<line x1="561.30" y1="142.90" x2="565.80" y2="142.90" stroke="#222" stroke-width="1.3" />
<text x="560.20" y="146.14" font-size="9.0" fill="#222" stroke="#222" stroke-width="0.15" text-anchor="end" >20</text>
<line x1="561.30" y1="120.30" x2="565.80" y2="120.30" stroke="#222" stroke-width="1.3" />
<text x="560.20" y="123.54" font-size="9.0" fill="#222" stroke="#222" stroke-width="0.15" text-anchor="end" >40</text>
<line x1="561.30" y1="97.70" x2="565.80" y2="97.70" stroke="#222" stroke-width="1.3" />
<text x="560.20" y="100.94" font-size="9.0" fill="#222" stroke="#222" stroke-width="0.15" text-anchor="end" >60</text>
<line x1="561.30" y1="75.10" x2="565.80" y2="75.10" stroke="#222" stroke-width="1.3" />
<text x="560.20" y="78.34" font-size="9.0" fill="#222" stroke="#222" stroke-width="0.15" text-anchor="end" >80</text>
<line x1="561.30" y1="52.50" x2="565.80" y2="52.50" stroke="#222" stroke-width="1.3" />
<text x="560.20" y="55.74" font-size="9.0" fill="#222" stroke="#222" stroke-width="0.15" text-anchor="end" >100</text>
<line x1="584.80" y1="165.50" x2="584.80" y2="170.00" stroke="#222" stroke-width="1.3" />
<line x1="628.60" y1="165.50" x2="628.60" y2="170.00" stroke="#222" stroke-width="1.3" />
<text x="538.30" y="108.50" font-size="9.5" fill="#222" stroke="#222" stroke-width="0.15" text-anchor="middle" transform="rotate(-90 538.3 108.5)" >EPSC amplitude (% ctrl)</text>
<line x1="576.95" y1="120.30" x2="576.95" y2="125.95" stroke="#222" stroke-width="1.7" />
<line x1="576.95" y1="146.29" x2="576.95" y2="150.25" stroke="#222" stroke-width="1.7" />
<line x1="574.75" y1="120.30" x2="579.15" y2="120.30" stroke="#222" stroke-width="1.7" />
<line x1="574.75" y1="150.25" x2="579.15" y2="150.25" stroke="#222" stroke-width="1.7" />
<rect x="571.70" y="125.95" width="10.50" height="20.34" fill="#fff" stroke="#222" stroke-width="1.7"/>
<line x1="571.70" y1="133.30" x2="582.20" y2="133.30" stroke="#222" stroke-width="1.7" />
<circle cx="573.95" cy="150.25" r="1.3" fill="#fff" stroke="#222" stroke-width="0.7"/>
<circle cx="579.95" cy="150.25" r="1.3" fill="#fff" stroke="#222" stroke-width="0.7"/>
<circle cx="576.95" cy="120.30" r="1.3" fill="#fff" stroke="#222" stroke-width="0.7"/>
<circle cx="573.95" cy="133.30" r="1.3" fill="#fff" stroke="#222" stroke-width="0.7"/>
<circle cx="579.95" cy="132.73" r="1.3" fill="#fff" stroke="#222" stroke-width="0.7"/>
<circle cx="573.95" cy="141.77" r="1.3" fill="#fff" stroke="#222" stroke-width="0.7"/>
<circle cx="578.95" cy="140.64" r="1.3" fill="#fff" stroke="#222" stroke-width="0.7"/>
<circle cx="576.95" cy="138.38" r="1.3" fill="#fff" stroke="#222" stroke-width="0.7"/>
<circle cx="578.95" cy="130.47" r="1.3" fill="#fff" stroke="#222" stroke-width="0.7"/>
<line x1="593.60" y1="120.30" x2="593.60" y2="123.69" stroke="#a9a9a9" stroke-width="1.1" />
<line x1="593.60" y1="145.16" x2="593.60" y2="152.50" stroke="#a9a9a9" stroke-width="1.1" />
<line x1="591.40" y1="120.30" x2="595.80" y2="120.30" stroke="#a9a9a9" stroke-width="1.1" />
<line x1="591.40" y1="152.50" x2="595.80" y2="152.50" stroke="#a9a9a9" stroke-width="1.1" />
<rect x="588.50" y="123.69" width="10.20" height="21.47" fill="#fff" stroke="#a9a9a9" stroke-width="1.1"/>
<line x1="588.50" y1="132.73" x2="598.70" y2="132.73" stroke="#a9a9a9" stroke-width="1.1" />
<circle cx="593.60" cy="120.30" r="1.3" fill="#fff" stroke="#a9a9a9" stroke-width="0.7"/>
<circle cx="593.60" cy="152.50" r="1.3" fill="#fff" stroke="#a9a9a9" stroke-width="0.7"/>
<circle cx="593.60" cy="130.47" r="1.3" fill="#fff" stroke="#a9a9a9" stroke-width="0.7"/>
<circle cx="593.60" cy="139.51" r="1.3" fill="#fff" stroke="#a9a9a9" stroke-width="0.7"/>
<circle cx="593.60" cy="137.25" r="1.3" fill="#fff" stroke="#a9a9a9" stroke-width="0.7"/>
<circle cx="591.60" cy="125.95" r="1.3" fill="#fff" stroke="#a9a9a9" stroke-width="0.7"/>
<line x1="621.30" y1="125.16" x2="621.30" y2="144.03" stroke="#222" stroke-width="1.7" />
<line x1="621.30" y1="159.85" x2="621.30" y2="165.50" stroke="#222" stroke-width="1.7" />
<line x1="619.10" y1="125.16" x2="623.50" y2="125.16" stroke="#222" stroke-width="1.7" />
<line x1="619.10" y1="165.50" x2="623.50" y2="165.50" stroke="#222" stroke-width="1.7" />
<rect x="616.20" y="144.03" width="10.20" height="15.82" fill="#fff" stroke="#222" stroke-width="1.7"/>
<line x1="616.20" y1="154.20" x2="626.40" y2="154.20" stroke="#222" stroke-width="1.7" />
<circle cx="618.30" cy="144.03" r="1.3" fill="#fff" stroke="#222" stroke-width="0.7"/>
<circle cx="624.30" cy="144.03" r="1.3" fill="#fff" stroke="#222" stroke-width="0.7"/>
<circle cx="621.30" cy="147.42" r="1.3" fill="#fff" stroke="#222" stroke-width="0.7"/>
<circle cx="621.30" cy="149.68" r="1.3" fill="#fff" stroke="#222" stroke-width="0.7"/>
<circle cx="618.30" cy="154.20" r="1.3" fill="#fff" stroke="#222" stroke-width="0.7"/>
<circle cx="624.30" cy="157.59" r="1.3" fill="#fff" stroke="#222" stroke-width="0.7"/>
<circle cx="621.30" cy="165.50" r="1.3" fill="#fff" stroke="#222" stroke-width="0.7"/>
<circle cx="618.30" cy="159.85" r="1.3" fill="#fff" stroke="#222" stroke-width="0.7"/>
<circle cx="625.30" cy="162.11" r="1.3" fill="#fff" stroke="#222" stroke-width="0.7"/>
<circle cx="621.30" cy="163.24" r="1.3" fill="#fff" stroke="#222" stroke-width="0.7"/>
<circle cx="624.30" cy="151.94" r="1.3" fill="#fff" stroke="#222" stroke-width="0.7"/>
<line x1="637.55" y1="120.30" x2="637.55" y2="144.03" stroke="#a9a9a9" stroke-width="1.1" />
<line x1="637.55" y1="158.72" x2="637.55" y2="165.50" stroke="#a9a9a9" stroke-width="1.1" />
<line x1="635.35" y1="120.30" x2="639.75" y2="120.30" stroke="#a9a9a9" stroke-width="1.1" />
<line x1="635.35" y1="165.50" x2="639.75" y2="165.50" stroke="#a9a9a9" stroke-width="1.1" />
<rect x="632.60" y="144.03" width="9.90" height="14.69" fill="#fff" stroke="#a9a9a9" stroke-width="1.1"/>
<line x1="632.60" y1="152.39" x2="642.50" y2="152.39" stroke="#a9a9a9" stroke-width="1.1" />
<circle cx="637.55" cy="120.30" r="1.3" fill="#fff" stroke="#a9a9a9" stroke-width="0.7"/>
<circle cx="634.55" cy="144.03" r="1.3" fill="#fff" stroke="#a9a9a9" stroke-width="0.7"/>
<circle cx="640.55" cy="144.03" r="1.3" fill="#fff" stroke="#a9a9a9" stroke-width="0.7"/>
<circle cx="635.55" cy="151.94" r="1.3" fill="#fff" stroke="#a9a9a9" stroke-width="0.7"/>
<circle cx="639.55" cy="154.20" r="1.3" fill="#fff" stroke="#a9a9a9" stroke-width="0.7"/>
<circle cx="637.55" cy="162.11" r="1.3" fill="#fff" stroke="#a9a9a9" stroke-width="0.7"/>
<circle cx="637.55" cy="165.50" r="1.3" fill="#fff" stroke="#a9a9a9" stroke-width="0.7"/>
<circle cx="634.55" cy="157.59" r="1.3" fill="#fff" stroke="#a9a9a9" stroke-width="0.7"/>
<text x="561.60" y="14.40" font-size="10.2" fill="#222" stroke="#222" stroke-width="0.15" text-anchor="start" >L2/3 PC (Rat vs. Human)</text>
<text x="567.40" y="37.80" font-size="9.35" fill="#222" stroke="#222" stroke-width="0.15" text-anchor="start" >F=15.78, <tspan font-style="italic">p</tspan>=0.003 [species]</text>
<text x="567.40" y="52.10" font-size="9.35" fill="#222" stroke="#222" stroke-width="0.15" text-anchor="start" >F= 1.25, <tspan font-style="italic">p</tspan>= 0.27 [layer]</text>
<text x="585.10" y="179.80" font-size="9.4" fill="#222" stroke="#222" stroke-width="0.15" text-anchor="middle" >Adult rat</text>
<text x="585.10" y="190.20" font-size="9.4" fill="#222" stroke="#222" stroke-width="0.15" text-anchor="middle" >(8,8)</text>
<text x="629.00" y="179.80" font-size="9.4" fill="#222" stroke="#222" stroke-width="0.15" text-anchor="middle" >Human</text>
<text x="629.00" y="190.20" font-size="9.4" fill="#222" stroke="#222" stroke-width="0.15" text-anchor="middle" >(15,14)</text>
<line x1="566.40" y1="262.50" x2="566.40" y2="371.70" stroke="#222" stroke-width="1.6" />
<line x1="565.80" y1="371.20" x2="660.00" y2="371.20" stroke="#222" stroke-width="1.6" />
<line x1="561.90" y1="371.20" x2="566.40" y2="371.20" stroke="#222" stroke-width="1.3" />
<text x="560.80" y="374.44" font-size="9.0" fill="#222" stroke="#222" stroke-width="0.15" text-anchor="end" >0</text>
<line x1="561.90" y1="349.46" x2="566.40" y2="349.46" stroke="#222" stroke-width="1.3" />
<text x="560.80" y="352.70" font-size="9.0" fill="#222" stroke="#222" stroke-width="0.15" text-anchor="end" >20</text>
<line x1="561.90" y1="327.72" x2="566.40" y2="327.72" stroke="#222" stroke-width="1.3" />
<text x="560.80" y="330.96" font-size="9.0" fill="#222" stroke="#222" stroke-width="0.15" text-anchor="end" >40</text>
<line x1="561.90" y1="305.98" x2="566.40" y2="305.98" stroke="#222" stroke-width="1.3" />
<text x="560.80" y="309.22" font-size="9.0" fill="#222" stroke="#222" stroke-width="0.15" text-anchor="end" >60</text>
<line x1="561.90" y1="284.24" x2="566.40" y2="284.24" stroke="#222" stroke-width="1.3" />
<text x="560.80" y="287.48" font-size="9.0" fill="#222" stroke="#222" stroke-width="0.15" text-anchor="end" >80</text>
<line x1="561.90" y1="262.50" x2="566.40" y2="262.50" stroke="#222" stroke-width="1.3" />
<text x="560.80" y="265.74" font-size="9.0" fill="#222" stroke="#222" stroke-width="0.15" text-anchor="end" >100</text>
<line x1="588.50" y1="371.20" x2="588.50" y2="375.70" stroke="#222" stroke-width="1.3" />
<line x1="638.20" y1="371.20" x2="638.20" y2="375.70" stroke="#222" stroke-width="1.3" />
<text x="538.90" y="315.50" font-size="9.2" fill="#222" stroke="#222" stroke-width="0.15" text-anchor="middle" transform="rotate(-90 538.9 315.5)" >EPSC amplitude (% ctrl)</text>
<line x1="579.45" y1="289.68" x2="579.45" y2="308.48" stroke="#2a2ae8" stroke-width="1.8" />
<line x1="579.45" y1="357.07" x2="579.45" y2="366.85" stroke="#2a2ae8" stroke-width="1.8" />
<line x1="577.25" y1="289.68" x2="581.65" y2="289.68" stroke="#2a2ae8" stroke-width="1.8" />
<line x1="577.25" y1="366.85" x2="581.65" y2="366.85" stroke="#2a2ae8" stroke-width="1.8" />
<rect x="573.50" y="308.48" width="11.90" height="48.59" fill="#fff" stroke="#2a2ae8" stroke-width="1.8"/>
<line x1="573.50" y1="321.20" x2="585.40" y2="321.20" stroke="#2a2ae8" stroke-width="1.8" />
<circle cx="579.45" cy="289.68" r="1.3" fill="#fff" stroke="#2a2ae8" stroke-width="0.7"/>
<circle cx="579.45" cy="304.89" r="1.3" fill="#fff" stroke="#2a2ae8" stroke-width="0.7"/>
<circle cx="579.45" cy="312.50" r="1.3" fill="#fff" stroke="#2a2ae8" stroke-width="0.7"/>
<circle cx="576.45" cy="321.20" r="1.3" fill="#fff" stroke="#2a2ae8" stroke-width="0.7"/>
<circle cx="582.45" cy="320.11" r="1.3" fill="#fff" stroke="#2a2ae8" stroke-width="0.7"/>
<circle cx="579.45" cy="326.63" r="1.3" fill="#fff" stroke="#2a2ae8" stroke-width="0.7"/>
<circle cx="579.45" cy="355.98" r="1.3" fill="#fff" stroke="#2a2ae8" stroke-width="0.7"/>
<circle cx="579.45" cy="361.42" r="1.3" fill="#fff" stroke="#2a2ae8" stroke-width="0.7"/>
<circle cx="579.45" cy="366.85" r="1.3" fill="#fff" stroke="#2a2ae8" stroke-width="0.7"/>
<line x1="598.00" y1="286.41" x2="598.00" y2="319.46" stroke="#8fbdf5" stroke-width="1.6" />
<line x1="598.00" y1="335.33" x2="598.00" y2="350.00" stroke="#8fbdf5" stroke-width="1.6" />
<line x1="595.80" y1="286.41" x2="600.20" y2="286.41" stroke="#8fbdf5" stroke-width="1.6" />
<line x1="595.80" y1="350.00" x2="600.20" y2="350.00" stroke="#8fbdf5" stroke-width="1.6" />
<rect x="592.40" y="319.46" width="11.20" height="15.87" fill="#fff" stroke="#8fbdf5" stroke-width="1.6"/>
<line x1="592.40" y1="329.13" x2="603.60" y2="329.13" stroke="#8fbdf5" stroke-width="1.6" />
<circle cx="598.00" cy="286.41" r="1.3" fill="#fff" stroke="#8fbdf5" stroke-width="0.7"/>
<circle cx="595.00" cy="321.20" r="1.3" fill="#fff" stroke="#8fbdf5" stroke-width="0.7"/>
<circle cx="601.00" cy="321.20" r="1.3" fill="#fff" stroke="#8fbdf5" stroke-width="0.7"/>
<circle cx="595.00" cy="328.81" r="1.3" fill="#fff" stroke="#8fbdf5" stroke-width="0.7"/>
<circle cx="601.00" cy="328.81" r="1.3" fill="#fff" stroke="#8fbdf5" stroke-width="0.7"/>
<circle cx="598.00" cy="334.24" r="1.3" fill="#fff" stroke="#8fbdf5" stroke-width="0.7"/>
<circle cx="598.00" cy="337.50" r="1.3" fill="#fff" stroke="#8fbdf5" stroke-width="0.7"/>
<circle cx="598.00" cy="350.00" r="1.3" fill="#fff" stroke="#8fbdf5" stroke-width="0.7"/>
<circle cx="598.00" cy="319.46" r="1.3" fill="#fff" stroke="#8fbdf5" stroke-width="0.7"/>
<line x1="628.90" y1="337.07" x2="628.90" y2="345.66" stroke="#2a2ae8" stroke-width="1.8" />
<line x1="628.90" y1="363.92" x2="628.90" y2="368.16" stroke="#2a2ae8" stroke-width="1.8" />
<line x1="626.70" y1="337.07" x2="631.10" y2="337.07" stroke="#2a2ae8" stroke-width="1.8" />
<line x1="626.70" y1="368.16" x2="631.10" y2="368.16" stroke="#2a2ae8" stroke-width="1.8" />
<rect x="623.10" y="345.66" width="11.60" height="18.26" fill="#fff" stroke="#2a2ae8" stroke-width="1.8"/>
<line x1="623.10" y1="355.98" x2="634.70" y2="355.98" stroke="#2a2ae8" stroke-width="1.8" />
<circle cx="625.90" cy="337.07" r="1.3" fill="#fff" stroke="#2a2ae8" stroke-width="0.7"/>
<circle cx="631.90" cy="337.07" r="1.3" fill="#fff" stroke="#2a2ae8" stroke-width="0.7"/>
<circle cx="628.90" cy="347.29" r="1.3" fill="#fff" stroke="#2a2ae8" stroke-width="0.7"/>
<circle cx="628.90" cy="354.89" r="1.3" fill="#fff" stroke="#2a2ae8" stroke-width="0.7"/>
<circle cx="625.90" cy="355.98" r="1.3" fill="#fff" stroke="#2a2ae8" stroke-width="0.7"/>
<circle cx="631.90" cy="355.98" r="1.3" fill="#fff" stroke="#2a2ae8" stroke-width="0.7"/>
<circle cx="628.90" cy="361.42" r="1.3" fill="#fff" stroke="#2a2ae8" stroke-width="0.7"/>
<circle cx="630.90" cy="365.76" r="1.3" fill="#fff" stroke="#2a2ae8" stroke-width="0.7"/>
<circle cx="626.90" cy="367.94" r="1.3" fill="#fff" stroke="#2a2ae8" stroke-width="0.7"/>
<line x1="647.80" y1="311.96" x2="647.80" y2="324.46" stroke="#8fbdf5" stroke-width="1.6" />
<line x1="647.80" y1="359.57" x2="647.80" y2="367.40" stroke="#8fbdf5" stroke-width="1.6" />
<line x1="645.60" y1="311.96" x2="650.00" y2="311.96" stroke="#8fbdf5" stroke-width="1.6" />
<line x1="645.60" y1="367.40" x2="650.00" y2="367.40" stroke="#8fbdf5" stroke-width="1.6" />
<rect x="642.20" y="324.46" width="11.20" height="35.11" fill="#fff" stroke="#8fbdf5" stroke-width="1.6"/>
<line x1="642.20" y1="353.48" x2="653.40" y2="353.48" stroke="#8fbdf5" stroke-width="1.6" />
<circle cx="647.80" cy="311.96" r="1.3" fill="#fff" stroke="#8fbdf5" stroke-width="0.7"/>
<circle cx="647.80" cy="324.46" r="1.3" fill="#fff" stroke="#8fbdf5" stroke-width="0.7"/>
<circle cx="647.80" cy="344.02" r="1.3" fill="#fff" stroke="#8fbdf5" stroke-width="0.7"/>
<circle cx="649.80" cy="352.72" r="1.3" fill="#fff" stroke="#8fbdf5" stroke-width="0.7"/>
<circle cx="647.80" cy="357.07" r="1.3" fill="#fff" stroke="#8fbdf5" stroke-width="0.7"/>
<circle cx="644.80" cy="359.24" r="1.3" fill="#fff" stroke="#8fbdf5" stroke-width="0.7"/>
<circle cx="650.80" cy="359.24" r="1.3" fill="#fff" stroke="#8fbdf5" stroke-width="0.7"/>
<circle cx="647.80" cy="367.40" r="1.3" fill="#fff" stroke="#8fbdf5" stroke-width="0.7"/>
<text x="583.80" y="207.80" font-size="10.1" fill="#222" stroke="#222" stroke-width="0.15" text-anchor="start" >Rat vs. Human</text>
<text x="568.40" y="245.40" font-size="9.1" fill="#222" stroke="#222" stroke-width="0.15" text-anchor="start" >F=15.62, <tspan font-style="italic">p</tspan>=0.0004 [species]</text>
<text x="568.40" y="260.30" font-size="9.1" fill="#222" stroke="#222" stroke-width="0.15" text-anchor="start" >F= 0.96, <tspan font-style="italic">p</tspan>= 0.33 [layer]</text>
<text x="588.20" y="386.20" font-size="9.4" fill="#222" stroke="#222" stroke-width="0.15" text-anchor="middle" >Adult rat</text>
<text x="588.20" y="396.30" font-size="9.4" fill="#222" stroke="#222" stroke-width="0.15" text-anchor="middle" >(9,9)</text>
<text x="637.60" y="386.20" font-size="9.4" fill="#222" stroke="#222" stroke-width="0.15" text-anchor="middle" >Human</text>
<text x="637.60" y="396.30" font-size="9.4" fill="#222" stroke="#222" stroke-width="0.15" text-anchor="middle" >(9,9)</text>
<text x="45.30" y="427.00" font-size="10.1" fill="#222" stroke="#222" stroke-width="0.15" text-anchor="start" >L1 10 Hz stimulation <tspan fill="#ee2a2a" stroke="#ee2a2a">+ 5 µM CGP</tspan></text>
<text x="47.40" y="504.20" font-size="10.1" fill="#222" stroke="#222" stroke-width="0.15" text-anchor="start" >L1 20 Hz stimulation <tspan fill="#ee2a2a" stroke="#ee2a2a">+ 5 µM CGP</tspan></text>
<line x1="31.60" y1="432.50" x2="31.60" y2="478.50" stroke="#666" stroke-width="0.8" />
<line x1="50.60" y1="432.50" x2="50.60" y2="478.50" stroke="#666" stroke-width="0.8" />
<line x1="69.60" y1="432.50" x2="69.60" y2="478.50" stroke="#666" stroke-width="0.8" />
<line x1="88.60" y1="432.50" x2="88.60" y2="478.50" stroke="#666" stroke-width="0.8" />
<line x1="107.60" y1="432.50" x2="107.60" y2="478.50" stroke="#666" stroke-width="0.8" />
<line x1="126.60" y1="432.50" x2="126.60" y2="478.50" stroke="#666" stroke-width="0.8" />
<line x1="145.60" y1="432.50" x2="145.60" y2="478.50" stroke="#666" stroke-width="0.8" />
<line x1="164.60" y1="432.50" x2="164.60" y2="478.50" stroke="#666" stroke-width="0.8" />
<line x1="183.60" y1="432.50" x2="183.60" y2="478.50" stroke="#666" stroke-width="0.8" />
<line x1="202.60" y1="432.50" x2="202.60" y2="478.50" stroke="#666" stroke-width="0.8" />
<path d="M11.80,437.50 L32.00,437.50 L32.00,437.50 L32.25,452.42 L32.50,465.08 L32.75,473.53 L33.00,476.50 L33.25,468.06 L33.50,461.59 L33.75,456.63 L34.00,452.81 L34.25,449.86 L34.50,447.57 L34.75,445.79 L35.00,444.40 L35.25,443.30 L35.50,442.42 L35.75,441.73 L36.00,441.17 L36.25,440.71 L36.50,440.33 L36.75,440.02 L37.00,439.75 L37.25,439.53 L37.50,439.34 L37.75,439.17 L38.00,439.03 L38.25,438.90 L38.50,438.79 L38.75,438.69 L39.00,438.60 L39.25,438.51 L39.50,438.44 L39.75,438.37 L40.00,438.31 L40.25,438.25 L40.50,438.19 L40.75,438.15 L41.00,438.10 L41.25,438.06 L41.50,438.02 L41.75,437.98 L42.00,437.95 L42.25,437.92 L42.50,437.89 L42.75,437.86 L43.00,437.84 L43.25,437.81 L43.50,437.79 L43.75,437.77 L44.00,437.75 L44.25,437.74 L44.50,437.72 L44.75,437.70 L45.00,437.69 L45.25,437.68 L45.50,437.66 L45.75,437.65 L46.00,437.64 L46.25,437.63 L46.50,437.62 L46.75,437.62 L47.00,437.61 L47.25,437.60 L47.50,437.59 L47.75,437.59 L48.00,437.58 L48.25,437.57 L48.50,437.57 L48.75,437.56 L49.00,437.56 L49.25,437.56 L49.50,437.55 L49.75,437.55 L50.00,437.55 L50.25,437.54 L51.00,437.50 L51.00,437.50 L51.25,452.42 L51.50,465.08 L51.75,473.53 L52.00,476.50 L52.25,468.06 L52.50,461.59 L52.75,456.63 L53.00,452.81 L53.25,449.86 L53.50,447.57 L53.75,445.79 L54.00,444.40 L54.25,443.30 L54.50,442.42 L54.75,441.73 L55.00,441.17 L55.25,440.71 L55.50,440.33 L55.75,440.02 L56.00,439.75 L56.25,439.53 L56.50,439.34 L56.75,439.17 L57.00,439.03 L57.25,438.90 L57.50,438.79 L57.75,438.69 L58.00,438.60 L58.25,438.51 L58.50,438.44 L58.75,438.37 L59.00,438.31 L59.25,438.25 L59.50,438.19 L59.75,438.15 L60.00,438.10 L60.25,438.06 L60.50,438.02 L60.75,437.98 L61.00,437.95 L61.25,437.92 L61.50,437.89 L61.75,437.86 L62.00,437.84 L62.25,437.81 L62.50,437.79 L62.75,437.77 L63.00,437.75 L63.25,437.74 L63.50,437.72 L63.75,437.70 L64.00,437.69 L64.25,437.68 L64.50,437.66 L64.75,437.65 L65.00,437.64 L65.25,437.63 L65.50,437.62 L65.75,437.62 L66.00,437.61 L66.25,437.60 L66.50,437.59 L66.75,437.59 L67.00,437.58 L67.25,437.57 L67.50,437.57 L67.75,437.56 L68.00,437.56 L68.25,437.56 L68.50,437.55 L68.75,437.55 L69.00,437.55 L69.25,437.54 L70.00,437.50 L70.00,437.50 L70.25,451.66 L70.50,463.66 L70.75,471.68 L71.00,474.50 L71.25,466.49 L71.50,460.36 L71.75,455.65 L72.00,452.02 L72.25,449.23 L72.50,447.06 L72.75,445.37 L73.00,444.04 L73.25,443.00 L73.50,442.17 L73.75,441.51 L74.00,440.98 L74.25,440.54 L74.50,440.19 L74.75,439.89 L75.00,439.64 L75.25,439.43 L75.50,439.25 L75.75,439.09 L76.00,438.95 L76.25,438.83 L76.50,438.72 L76.75,438.63 L77.00,438.54 L77.25,438.46 L77.50,438.39 L77.75,438.32 L78.00,438.26 L78.25,438.21 L78.50,438.16 L78.75,438.11 L79.00,438.07 L79.25,438.03 L79.50,437.99 L79.75,437.96 L80.00,437.93 L80.25,437.90 L80.50,437.87 L80.75,437.84 L81.00,437.82 L81.25,437.80 L81.50,437.78 L81.75,437.76 L82.00,437.74 L82.25,437.72 L82.50,437.71 L82.75,437.69 L83.00,437.68 L83.25,437.67 L83.50,437.66 L83.75,437.65 L84.00,437.64 L84.25,437.63 L84.50,437.62 L84.75,437.61 L85.00,437.60 L85.25,437.59 L85.50,437.59 L85.75,437.58 L86.00,437.58 L86.25,437.57 L86.50,437.57 L86.75,437.56 L87.00,437.56 L87.25,437.55 L87.50,437.55 L87.75,437.55 L88.00,437.54 L88.25,437.54 L89.00,437.50 L89.00,437.50 L89.25,451.66 L89.50,463.66 L89.75,471.68 L90.00,474.50 L90.25,466.49 L90.50,460.36 L90.75,455.65 L91.00,452.02 L91.25,449.23 L91.50,447.06 L91.75,445.37 L92.00,444.04 L92.25,443.00 L92.50,442.17 L92.75,441.51 L93.00,440.98 L93.25,440.54 L93.50,440.19 L93.75,439.89 L94.00,439.64 L94.25,439.43 L94.50,439.25 L94.75,439.09 L95.00,438.95 L95.25,438.83 L95.50,438.72 L95.75,438.63 L96.00,438.54 L96.25,438.46 L96.50,438.39 L96.75,438.32 L97.00,438.26 L97.25,438.21 L97.50,438.16 L97.75,438.11 L98.00,438.07 L98.25,438.03 L98.50,437.99 L98.75,437.96 L99.00,437.93 L99.25,437.90 L99.50,437.87 L99.75,437.84 L100.00,437.82 L100.25,437.80 L100.50,437.78 L100.75,437.76 L101.00,437.74 L101.25,437.72 L101.50,437.71 L101.75,437.69 L102.00,437.68 L102.25,437.67 L102.50,437.66 L102.75,437.65 L103.00,437.64 L103.25,437.63 L103.50,437.62 L103.75,437.61 L104.00,437.60 L104.25,437.59 L104.50,437.59 L104.75,437.58 L105.00,437.58 L105.25,437.57 L105.50,437.57 L105.75,437.56 L106.00,437.56 L106.25,437.55 L106.50,437.55 L106.75,437.55 L107.00,437.54 L107.25,437.54 L108.00,437.50 L108.00,437.50 L108.25,451.66 L108.50,463.66 L108.75,471.68 L109.00,474.50 L109.25,466.49 L109.50,460.36 L109.75,455.65 L110.00,452.02 L110.25,449.23 L110.50,447.06 L110.75,445.37 L111.00,444.04 L111.25,443.00 L111.50,442.17 L111.75,441.51 L112.00,440.98 L112.25,440.54 L112.50,440.19 L112.75,439.89 L113.00,439.64 L113.25,439.43 L113.50,439.25 L113.75,439.09 L114.00,438.95 L114.25,438.83 L114.50,438.72 L114.75,438.63 L115.00,438.54 L115.25,438.46 L115.50,438.39 L115.75,438.32 L116.00,438.26 L116.25,438.21 L116.50,438.16 L116.75,438.11 L117.00,438.07 L117.25,438.03 L117.50,437.99 L117.75,437.96 L118.00,437.93 L118.25,437.90 L118.50,437.87 L118.75,437.84 L119.00,437.82 L119.25,437.80 L119.50,437.78 L119.75,437.76 L120.00,437.74 L120.25,437.72 L120.50,437.71 L120.75,437.69 L121.00,437.68 L121.25,437.67 L121.50,437.66 L121.75,437.65 L122.00,437.64 L122.25,437.63 L122.50,437.62 L122.75,437.61 L123.00,437.60 L123.25,437.59 L123.50,437.59 L123.75,437.58 L124.00,437.58 L124.25,437.57 L124.50,437.57 L124.75,437.56 L125.00,437.56 L125.25,437.55 L125.50,437.55 L125.75,437.55 L126.00,437.54 L126.25,437.54 L127.00,437.50 L127.00,437.50 L127.25,451.28 L127.50,462.96 L127.75,470.76 L128.00,473.50 L128.25,465.71 L128.50,459.74 L128.75,455.16 L129.00,451.63 L129.25,448.91 L129.50,446.80 L129.75,445.15 L130.00,443.87 L130.25,442.85 L130.50,442.05 L130.75,441.40 L131.00,440.88 L131.25,440.46 L131.50,440.11 L131.75,439.82 L132.00,439.58 L132.25,439.38 L132.50,439.20 L132.75,439.05 L133.00,438.91 L133.25,438.79 L133.50,438.69 L133.75,438.60 L134.00,438.51 L134.25,438.43 L134.50,438.37 L134.75,438.30 L135.00,438.24 L135.25,438.19 L135.50,438.14 L135.75,438.10 L136.00,438.05 L136.25,438.01 L136.50,437.98 L136.75,437.95 L137.00,437.91 L137.25,437.89 L137.50,437.86 L137.75,437.83 L138.00,437.81 L138.25,437.79 L138.50,437.77 L138.75,437.75 L139.00,437.73 L139.25,437.72 L139.50,437.70 L139.75,437.69 L140.00,437.68 L140.25,437.66 L140.50,437.65 L140.75,437.64 L141.00,437.63 L141.25,437.62 L141.50,437.61 L141.75,437.61 L142.00,437.60 L142.25,437.59 L142.50,437.59 L142.75,437.58 L143.00,437.57 L143.25,437.57 L143.50,437.56 L143.75,437.56 L144.00,437.56 L144.25,437.55 L144.50,437.55 L144.75,437.55 L145.00,437.54 L145.25,437.54 L146.00,437.50 L146.00,437.50 L146.25,451.66 L146.50,463.66 L146.75,471.68 L147.00,474.50 L147.25,466.49 L147.50,460.36 L147.75,455.65 L148.00,452.02 L148.25,449.23 L148.50,447.06 L148.75,445.37 L149.00,444.04 L149.25,443.00 L149.50,442.17 L149.75,441.51 L150.00,440.98 L150.25,440.54 L150.50,440.19 L150.75,439.89 L151.00,439.64 L151.25,439.43 L151.50,439.25 L151.75,439.09 L152.00,438.95 L152.25,438.83 L152.50,438.72 L152.75,438.63 L153.00,438.54 L153.25,438.46 L153.50,438.39 L153.75,438.32 L154.00,438.26 L154.25,438.21 L154.50,438.16 L154.75,438.11 L155.00,438.07 L155.25,438.03 L155.50,437.99 L155.75,437.96 L156.00,437.93 L156.25,437.90 L156.50,437.87 L156.75,437.84 L157.00,437.82 L157.25,437.80 L157.50,437.78 L157.75,437.76 L158.00,437.74 L158.25,437.72 L158.50,437.71 L158.75,437.69 L159.00,437.68 L159.25,437.67 L159.50,437.66 L159.75,437.65 L160.00,437.64 L160.25,437.63 L160.50,437.62 L160.75,437.61 L161.00,437.60 L161.25,437.59 L161.50,437.59 L161.75,437.58 L162.00,437.58 L162.25,437.57 L162.50,437.57 L162.75,437.56 L163.00,437.56 L163.25,437.55 L163.50,437.55 L163.75,437.55 L164.00,437.54 L164.25,437.54 L165.00,437.50 L165.00,437.50 L165.25,451.28 L165.50,462.96 L165.75,470.76 L166.00,473.50 L166.25,465.71 L166.50,459.74 L166.75,455.16 L167.00,451.63 L167.25,448.91 L167.50,446.80 L167.75,445.15 L168.00,443.87 L168.25,442.85 L168.50,442.05 L168.75,441.40 L169.00,440.88 L169.25,440.46 L169.50,440.11 L169.75,439.82 L170.00,439.58 L170.25,439.38 L170.50,439.20 L170.75,439.05 L171.00,438.91 L171.25,438.79 L171.50,438.69 L171.75,438.60 L172.00,438.51 L172.25,438.43 L172.50,438.37 L172.75,438.30 L173.00,438.24 L173.25,438.19 L173.50,438.14 L173.75,438.10 L174.00,438.05 L174.25,438.01 L174.50,437.98 L174.75,437.95 L175.00,437.91 L175.25,437.89 L175.50,437.86 L175.75,437.83 L176.00,437.81 L176.25,437.79 L176.50,437.77 L176.75,437.75 L177.00,437.73 L177.25,437.72 L177.50,437.70 L177.75,437.69 L178.00,437.68 L178.25,437.66 L178.50,437.65 L178.75,437.64 L179.00,437.63 L179.25,437.62 L179.50,437.61 L179.75,437.61 L180.00,437.60 L180.25,437.59 L180.50,437.59 L180.75,437.58 L181.00,437.57 L181.25,437.57 L181.50,437.56 L181.75,437.56 L182.00,437.56 L182.25,437.55 L182.50,437.55 L182.75,437.55 L183.00,437.54 L183.25,437.54 L184.00,437.50 L184.00,437.50 L184.25,451.28 L184.50,462.96 L184.75,470.76 L185.00,473.50 L185.25,465.71 L185.50,459.74 L185.75,455.16 L186.00,451.63 L186.25,448.91 L186.50,446.80 L186.75,445.15 L187.00,443.87 L187.25,442.85 L187.50,442.05 L187.75,441.40 L188.00,440.88 L188.25,440.46 L188.50,440.11 L188.75,439.82 L189.00,439.58 L189.25,439.38 L189.50,439.20 L189.75,439.05 L190.00,438.91 L190.25,438.79 L190.50,438.69 L190.75,438.60 L191.00,438.51 L191.25,438.43 L191.50,438.37 L191.75,438.30 L192.00,438.24 L192.25,438.19 L192.50,438.14 L192.75,438.10 L193.00,438.05 L193.25,438.01 L193.50,437.98 L193.75,437.95 L194.00,437.91 L194.25,437.89 L194.50,437.86 L194.75,437.83 L195.00,437.81 L195.25,437.79 L195.50,437.77 L195.75,437.75 L196.00,437.73 L196.25,437.72 L196.50,437.70 L196.75,437.69 L197.00,437.68 L197.25,437.66 L197.50,437.65 L197.75,437.64 L198.00,437.63 L198.25,437.62 L198.50,437.61 L198.75,437.61 L199.00,437.60 L199.25,437.59 L199.50,437.59 L199.75,437.58 L200.00,437.57 L200.25,437.57 L200.50,437.56 L200.75,437.56 L201.00,437.56 L201.25,437.55 L201.50,437.55 L201.75,437.55 L202.00,437.54 L202.25,437.54 L203.00,437.50 L203.00,437.50 L203.25,451.28 L203.50,462.96 L203.75,470.76 L204.00,473.50 L204.25,465.71 L204.50,459.74 L204.75,455.16 L205.00,451.63 L205.25,448.91 L205.50,446.80 L205.75,445.15 L206.00,443.87 L206.25,442.85 L206.50,442.05 L206.75,441.40 L207.00,440.88 L207.25,440.46 L207.50,440.11 L207.75,439.82 L208.00,439.58 L208.25,439.38 L208.50,439.20 L208.75,439.05 L209.00,438.91 L209.25,438.79 L209.50,438.69 L209.75,438.60 L210.00,438.51 L210.25,438.43 L210.50,438.37 L210.75,438.30 L211.00,438.24 L211.25,438.19 L211.50,438.14 L211.75,438.10 L212.00,438.05 L212.25,438.01 L212.50,437.98 L212.75,437.95 L213.00,437.91 L213.25,437.89 L213.50,437.86 L213.75,437.83 L214.00,437.81 L214.25,437.79 L214.50,437.77 L214.75,437.75 L215.00,437.73 L215.25,437.72 L215.50,437.70 L215.75,437.69 L216.00,437.68 L216.25,437.66 L216.50,437.65 L216.75,437.64 L217.00,437.63 L217.25,437.62 L217.50,437.61 L217.75,437.61 L218.00,437.60 L218.25,437.59 L218.50,437.59 L218.75,437.58 L219.00,437.57 L219.25,437.57 L219.50,437.56 L219.75,437.56 L220.00,437.56 L220.25,437.55 L220.50,437.55 L220.75,437.55 L221.00,437.54 L221.25,437.54 L221.60,437.50" stroke="#ee2a2a" stroke-width="0.95" fill="none" stroke-linejoin="round"/>
<path d="M11.80,437.50 L32.00,437.50 L32.00,437.50 L32.25,449.36 L32.50,459.42 L32.75,466.14 L33.00,468.50 L33.25,461.79 L33.50,456.65 L33.75,452.70 L34.00,449.67 L34.25,447.32 L34.50,445.51 L34.75,444.09 L35.00,442.98 L35.25,442.11 L35.50,441.41 L35.75,440.86 L36.00,440.41 L36.25,440.05 L36.50,439.75 L36.75,439.50 L37.00,439.29 L37.25,439.12 L37.50,438.96 L37.75,438.83 L38.00,438.72 L38.25,438.61 L38.50,438.52 L38.75,438.44 L39.00,438.37 L39.25,438.31 L39.50,438.25 L39.75,438.19 L40.00,438.14 L40.25,438.09 L40.50,438.05 L40.75,438.01 L41.00,437.98 L41.25,437.94 L41.50,437.91 L41.75,437.88 L42.00,437.86 L42.25,437.83 L42.50,437.81 L42.75,437.79 L43.00,437.77 L43.25,437.75 L43.50,437.73 L43.75,437.72 L44.00,437.70 L44.25,437.69 L44.50,437.67 L44.75,437.66 L45.00,437.65 L45.25,437.64 L45.50,437.63 L45.75,437.62 L46.00,437.61 L46.25,437.61 L46.50,437.60 L46.75,437.59 L47.00,437.59 L47.25,437.58 L47.50,437.57 L47.75,437.57 L48.00,437.56 L48.25,437.56 L48.50,437.56 L48.75,437.55 L49.00,437.55 L49.25,437.54 L49.50,437.54 L49.75,437.54 L50.00,437.54 L50.25,437.53 L51.00,437.50 L51.00,437.50 L51.25,449.36 L51.50,459.42 L51.75,466.14 L52.00,468.50 L52.25,461.79 L52.50,456.65 L52.75,452.70 L53.00,449.67 L53.25,447.32 L53.50,445.51 L53.75,444.09 L54.00,442.98 L54.25,442.11 L54.50,441.41 L54.75,440.86 L55.00,440.41 L55.25,440.05 L55.50,439.75 L55.75,439.50 L56.00,439.29 L56.25,439.12 L56.50,438.96 L56.75,438.83 L57.00,438.72 L57.25,438.61 L57.50,438.52 L57.75,438.44 L58.00,438.37 L58.25,438.31 L58.50,438.25 L58.75,438.19 L59.00,438.14 L59.25,438.09 L59.50,438.05 L59.75,438.01 L60.00,437.98 L60.25,437.94 L60.50,437.91 L60.75,437.88 L61.00,437.86 L61.25,437.83 L61.50,437.81 L61.75,437.79 L62.00,437.77 L62.25,437.75 L62.50,437.73 L62.75,437.72 L63.00,437.70 L63.25,437.69 L63.50,437.67 L63.75,437.66 L64.00,437.65 L64.25,437.64 L64.50,437.63 L64.75,437.62 L65.00,437.61 L65.25,437.61 L65.50,437.60 L65.75,437.59 L66.00,437.59 L66.25,437.58 L66.50,437.57 L66.75,437.57 L67.00,437.56 L67.25,437.56 L67.50,437.56 L67.75,437.55 L68.00,437.55 L68.25,437.54 L68.50,437.54 L68.75,437.54 L69.00,437.54 L69.25,437.53 L70.00,437.50 L70.00,437.50 L70.25,448.98 L70.50,458.71 L70.75,465.22 L71.00,467.50 L71.25,461.01 L71.50,456.03 L71.75,452.21 L72.00,449.28 L72.25,447.01 L72.50,445.25 L72.75,443.88 L73.00,442.80 L73.25,441.96 L73.50,441.29 L73.75,440.75 L74.00,440.32 L74.25,439.97 L74.50,439.68 L74.75,439.44 L75.00,439.23 L75.25,439.06 L75.50,438.92 L75.75,438.79 L76.00,438.68 L76.25,438.58 L76.50,438.49 L76.75,438.41 L77.00,438.34 L77.25,438.28 L77.50,438.22 L77.75,438.17 L78.00,438.12 L78.25,438.08 L78.50,438.03 L78.75,438.00 L79.00,437.96 L79.25,437.93 L79.50,437.90 L79.75,437.87 L80.00,437.85 L80.25,437.82 L80.50,437.80 L80.75,437.78 L81.00,437.76 L81.25,437.74 L81.50,437.72 L81.75,437.71 L82.00,437.69 L82.25,437.68 L82.50,437.67 L82.75,437.66 L83.00,437.65 L83.25,437.64 L83.50,437.63 L83.75,437.62 L84.00,437.61 L84.25,437.60 L84.50,437.60 L84.75,437.59 L85.00,437.58 L85.25,437.58 L85.50,437.57 L85.75,437.57 L86.00,437.56 L86.25,437.56 L86.50,437.55 L86.75,437.55 L87.00,437.55 L87.25,437.54 L87.50,437.54 L87.75,437.54 L88.00,437.53 L88.25,437.53 L89.00,437.50 L89.00,437.50 L89.25,448.98 L89.50,458.71 L89.75,465.22 L90.00,467.50 L90.25,461.01 L90.50,456.03 L90.75,452.21 L91.00,449.28 L91.25,447.01 L91.50,445.25 L91.75,443.88 L92.00,442.80 L92.25,441.96 L92.50,441.29 L92.75,440.75 L93.00,440.32 L93.25,439.97 L93.50,439.68 L93.75,439.44 L94.00,439.23 L94.25,439.06 L94.50,438.92 L94.75,438.79 L95.00,438.68 L95.25,438.58 L95.50,438.49 L95.75,438.41 L96.00,438.34 L96.25,438.28 L96.50,438.22 L96.75,438.17 L97.00,438.12 L97.25,438.08 L97.50,438.03 L97.75,438.00 L98.00,437.96 L98.25,437.93 L98.50,437.90 L98.75,437.87 L99.00,437.85 L99.25,437.82 L99.50,437.80 L99.75,437.78 L100.00,437.76 L100.25,437.74 L100.50,437.72 L100.75,437.71 L101.00,437.69 L101.25,437.68 L101.50,437.67 L101.75,437.66 L102.00,437.65 L102.25,437.64 L102.50,437.63 L102.75,437.62 L103.00,437.61 L103.25,437.60 L103.50,437.60 L103.75,437.59 L104.00,437.58 L104.25,437.58 L104.50,437.57 L104.75,437.57 L105.00,437.56 L105.25,437.56 L105.50,437.55 L105.75,437.55 L106.00,437.55 L106.25,437.54 L106.50,437.54 L106.75,437.54 L107.00,437.53 L107.25,437.53 L108.00,437.50 L108.00,437.50 L108.25,448.98 L108.50,458.71 L108.75,465.22 L109.00,467.50 L109.25,461.01 L109.50,456.03 L109.75,452.21 L110.00,449.28 L110.25,447.01 L110.50,445.25 L110.75,443.88 L111.00,442.80 L111.25,441.96 L111.50,441.29 L111.75,440.75 L112.00,440.32 L112.25,439.97 L112.50,439.68 L112.75,439.44 L113.00,439.23 L113.25,439.06 L113.50,438.92 L113.75,438.79 L114.00,438.68 L114.25,438.58 L114.50,438.49 L114.75,438.41 L115.00,438.34 L115.25,438.28 L115.50,438.22 L115.75,438.17 L116.00,438.12 L116.25,438.08 L116.50,438.03 L116.75,438.00 L117.00,437.96 L117.25,437.93 L117.50,437.90 L117.75,437.87 L118.00,437.85 L118.25,437.82 L118.50,437.80 L118.75,437.78 L119.00,437.76 L119.25,437.74 L119.50,437.72 L119.75,437.71 L120.00,437.69 L120.25,437.68 L120.50,437.67 L120.75,437.66 L121.00,437.65 L121.25,437.64 L121.50,437.63 L121.75,437.62 L122.00,437.61 L122.25,437.60 L122.50,437.60 L122.75,437.59 L123.00,437.58 L123.25,437.58 L123.50,437.57 L123.75,437.57 L124.00,437.56 L124.25,437.56 L124.50,437.55 L124.75,437.55 L125.00,437.55 L125.25,437.54 L125.50,437.54 L125.75,437.54 L126.00,437.53 L126.25,437.53 L127.00,437.50 L127.00,437.50 L127.25,448.98 L127.50,458.71 L127.75,465.22 L128.00,467.50 L128.25,461.01 L128.50,456.03 L128.75,452.21 L129.00,449.28 L129.25,447.01 L129.50,445.25 L129.75,443.88 L130.00,442.80 L130.25,441.96 L130.50,441.29 L130.75,440.75 L131.00,440.32 L131.25,439.97 L131.50,439.68 L131.75,439.44 L132.00,439.23 L132.25,439.06 L132.50,438.92 L132.75,438.79 L133.00,438.68 L133.25,438.58 L133.50,438.49 L133.75,438.41 L134.00,438.34 L134.25,438.28 L134.50,438.22 L134.75,438.17 L135.00,438.12 L135.25,438.08 L135.50,438.03 L135.75,438.00 L136.00,437.96 L136.25,437.93 L136.50,437.90 L136.75,437.87 L137.00,437.85 L137.25,437.82 L137.50,437.80 L137.75,437.78 L138.00,437.76 L138.25,437.74 L138.50,437.72 L138.75,437.71 L139.00,437.69 L139.25,437.68 L139.50,437.67 L139.75,437.66 L140.00,437.65 L140.25,437.64 L140.50,437.63 L140.75,437.62 L141.00,437.61 L141.25,437.60 L141.50,437.60 L141.75,437.59 L142.00,437.58 L142.25,437.58 L142.50,437.57 L142.75,437.57 L143.00,437.56 L143.25,437.56 L143.50,437.55 L143.75,437.55 L144.00,437.55 L144.25,437.54 L144.50,437.54 L144.75,437.54 L145.00,437.53 L145.25,437.53 L146.00,437.50 L146.00,437.50 L146.25,448.98 L146.50,458.71 L146.75,465.22 L147.00,467.50 L147.25,461.01 L147.50,456.03 L147.75,452.21 L148.00,449.28 L148.25,447.01 L148.50,445.25 L148.75,443.88 L149.00,442.80 L149.25,441.96 L149.50,441.29 L149.75,440.75 L150.00,440.32 L150.25,439.97 L150.50,439.68 L150.75,439.44 L151.00,439.23 L151.25,439.06 L151.50,438.92 L151.75,438.79 L152.00,438.68 L152.25,438.58 L152.50,438.49 L152.75,438.41 L153.00,438.34 L153.25,438.28 L153.50,438.22 L153.75,438.17 L154.00,438.12 L154.25,438.08 L154.50,438.03 L154.75,438.00 L155.00,437.96 L155.25,437.93 L155.50,437.90 L155.75,437.87 L156.00,437.85 L156.25,437.82 L156.50,437.80 L156.75,437.78 L157.00,437.76 L157.25,437.74 L157.50,437.72 L157.75,437.71 L158.00,437.69 L158.25,437.68 L158.50,437.67 L158.75,437.66 L159.00,437.65 L159.25,437.64 L159.50,437.63 L159.75,437.62 L160.00,437.61 L160.25,437.60 L160.50,437.60 L160.75,437.59 L161.00,437.58 L161.25,437.58 L161.50,437.57 L161.75,437.57 L162.00,437.56 L162.25,437.56 L162.50,437.55 L162.75,437.55 L163.00,437.55 L163.25,437.54 L163.50,437.54 L163.75,437.54 L164.00,437.53 L164.25,437.53 L165.00,437.50 L165.00,437.50 L165.25,448.98 L165.50,458.71 L165.75,465.22 L166.00,467.50 L166.25,461.01 L166.50,456.03 L166.75,452.21 L167.00,449.28 L167.25,447.01 L167.50,445.25 L167.75,443.88 L168.00,442.80 L168.25,441.96 L168.50,441.29 L168.75,440.75 L169.00,440.32 L169.25,439.97 L169.50,439.68 L169.75,439.44 L170.00,439.23 L170.25,439.06 L170.50,438.92 L170.75,438.79 L171.00,438.68 L171.25,438.58 L171.50,438.49 L171.75,438.41 L172.00,438.34 L172.25,438.28 L172.50,438.22 L172.75,438.17 L173.00,438.12 L173.25,438.08 L173.50,438.03 L173.75,438.00 L174.00,437.96 L174.25,437.93 L174.50,437.90 L174.75,437.87 L175.00,437.85 L175.25,437.82 L175.50,437.80 L175.75,437.78 L176.00,437.76 L176.25,437.74 L176.50,437.72 L176.75,437.71 L177.00,437.69 L177.25,437.68 L177.50,437.67 L177.75,437.66 L178.00,437.65 L178.25,437.64 L178.50,437.63 L178.75,437.62 L179.00,437.61 L179.25,437.60 L179.50,437.60 L179.75,437.59 L180.00,437.58 L180.25,437.58 L180.50,437.57 L180.75,437.57 L181.00,437.56 L181.25,437.56 L181.50,437.55 L181.75,437.55 L182.00,437.55 L182.25,437.54 L182.50,437.54 L182.75,437.54 L183.00,437.53 L183.25,437.53 L184.00,437.50 L184.00,437.50 L184.25,448.98 L184.50,458.71 L184.75,465.22 L185.00,467.50 L185.25,461.01 L185.50,456.03 L185.75,452.21 L186.00,449.28 L186.25,447.01 L186.50,445.25 L186.75,443.88 L187.00,442.80 L187.25,441.96 L187.50,441.29 L187.75,440.75 L188.00,440.32 L188.25,439.97 L188.50,439.68 L188.75,439.44 L189.00,439.23 L189.25,439.06 L189.50,438.92 L189.75,438.79 L190.00,438.68 L190.25,438.58 L190.50,438.49 L190.75,438.41 L191.00,438.34 L191.25,438.28 L191.50,438.22 L191.75,438.17 L192.00,438.12 L192.25,438.08 L192.50,438.03 L192.75,438.00 L193.00,437.96 L193.25,437.93 L193.50,437.90 L193.75,437.87 L194.00,437.85 L194.25,437.82 L194.50,437.80 L194.75,437.78 L195.00,437.76 L195.25,437.74 L195.50,437.72 L195.75,437.71 L196.00,437.69 L196.25,437.68 L196.50,437.67 L196.75,437.66 L197.00,437.65 L197.25,437.64 L197.50,437.63 L197.75,437.62 L198.00,437.61 L198.25,437.60 L198.50,437.60 L198.75,437.59 L199.00,437.58 L199.25,437.58 L199.50,437.57 L199.75,437.57 L200.00,437.56 L200.25,437.56 L200.50,437.55 L200.75,437.55 L201.00,437.55 L201.25,437.54 L201.50,437.54 L201.75,437.54 L202.00,437.53 L202.25,437.53 L203.00,437.50 L203.00,437.50 L203.25,448.98 L203.50,458.71 L203.75,465.22 L204.00,467.50 L204.25,461.01 L204.50,456.03 L204.75,452.21 L205.00,449.28 L205.25,447.01 L205.50,445.25 L205.75,443.88 L206.00,442.80 L206.25,441.96 L206.50,441.29 L206.75,440.75 L207.00,440.32 L207.25,439.97 L207.50,439.68 L207.75,439.44 L208.00,439.23 L208.25,439.06 L208.50,438.92 L208.75,438.79 L209.00,438.68 L209.25,438.58 L209.50,438.49 L209.75,438.41 L210.00,438.34 L210.25,438.28 L210.50,438.22 L210.75,438.17 L211.00,438.12 L211.25,438.08 L211.50,438.03 L211.75,438.00 L212.00,437.96 L212.25,437.93 L212.50,437.90 L212.75,437.87 L213.00,437.85 L213.25,437.82 L213.50,437.80 L213.75,437.78 L214.00,437.76 L214.25,437.74 L214.50,437.72 L214.75,437.71 L215.00,437.69 L215.25,437.68 L215.50,437.67 L215.75,437.66 L216.00,437.65 L216.25,437.64 L216.50,437.63 L216.75,437.62 L217.00,437.61 L217.25,437.60 L217.50,437.60 L217.75,437.59 L218.00,437.58 L218.25,437.58 L218.50,437.57 L218.75,437.57 L219.00,437.56 L219.25,437.56 L219.50,437.55 L219.75,437.55 L220.00,437.55 L220.25,437.54 L220.50,437.54 L220.75,437.54 L221.00,437.53 L221.25,437.53 L221.60,437.50" stroke="#222" stroke-width="0.85" fill="none" stroke-linejoin="round"/>
<rect x="32.00" y="517.00" width="2.20" height="27.00" fill="#aaa"/>
<line x1="33.10" y1="512.40" x2="33.10" y2="517.00" stroke="#555" stroke-width="0.8" />
<rect x="51.00" y="517.00" width="2.20" height="27.00" fill="#aaa"/>
<line x1="52.10" y1="512.40" x2="52.10" y2="517.00" stroke="#555" stroke-width="0.8" />
<rect x="70.00" y="517.00" width="2.20" height="27.00" fill="#aaa"/>
<line x1="71.10" y1="512.40" x2="71.10" y2="517.00" stroke="#555" stroke-width="0.8" />
<rect x="89.00" y="517.00" width="2.20" height="27.00" fill="#aaa"/>
<line x1="90.10" y1="512.40" x2="90.10" y2="517.00" stroke="#555" stroke-width="0.8" />
<rect x="108.00" y="517.00" width="2.20" height="27.00" fill="#aaa"/>
<line x1="109.10" y1="512.40" x2="109.10" y2="517.00" stroke="#555" stroke-width="0.8" />
<rect x="127.00" y="517.00" width="2.20" height="27.00" fill="#aaa"/>
<line x1="128.10" y1="512.40" x2="128.10" y2="517.00" stroke="#555" stroke-width="0.8" />
<rect x="146.00" y="517.00" width="2.20" height="27.00" fill="#aaa"/>
<line x1="147.10" y1="512.40" x2="147.10" y2="517.00" stroke="#555" stroke-width="0.8" />
<rect x="165.00" y="517.00" width="2.20" height="27.00" fill="#aaa"/>
<line x1="166.10" y1="512.40" x2="166.10" y2="517.00" stroke="#555" stroke-width="0.8" />
<rect x="184.00" y="517.00" width="2.20" height="27.00" fill="#aaa"/>
<line x1="185.10" y1="512.40" x2="185.10" y2="517.00" stroke="#555" stroke-width="0.8" />
<rect x="203.00" y="517.00" width="2.20" height="27.00" fill="#aaa"/>
<line x1="204.10" y1="512.40" x2="204.10" y2="517.00" stroke="#555" stroke-width="0.8" />
<path d="M13.40,517.00 L33.50,517.00 L33.50,517.00 L33.75,525.26 L34.00,533.03 L34.25,539.83 L34.50,545.27 L34.75,549.01 L35.00,550.84 L35.25,548.71 L35.50,545.27 L35.75,542.23 L36.00,539.57 L36.25,537.21 L36.50,535.14 L36.75,533.31 L37.00,531.69 L37.25,530.25 L37.50,528.98 L37.75,527.85 L38.00,526.85 L38.25,525.96 L38.50,525.16 L38.75,524.45 L39.00,523.82 L39.25,523.25 L39.50,522.74 L39.75,522.28 L40.00,521.87 L40.25,521.49 L40.50,521.16 L40.75,520.85 L41.00,520.57 L41.25,520.32 L41.50,520.09 L41.75,519.88 L42.00,519.69 L42.25,519.51 L42.50,519.35 L42.75,519.20 L43.00,519.07 L43.25,518.94 L43.50,518.82 L43.75,518.72 L44.00,518.62 L44.25,518.52 L44.50,518.43 L44.75,518.35 L45.00,518.28 L45.25,518.21 L45.50,518.14 L45.75,518.08 L46.00,518.02 L46.25,517.97 L46.50,517.91 L46.75,517.87 L47.00,517.82 L47.25,517.78 L47.50,517.74 L47.75,517.70 L48.00,517.66 L48.25,517.63 L48.50,517.60 L48.75,517.57 L49.00,517.54 L49.25,517.51 L49.50,517.49 L49.75,517.46 L50.00,517.44 L50.25,517.42 L50.50,517.40 L50.75,517.38 L51.00,517.36 L51.25,517.34 L51.50,517.32 L51.75,517.31 L52.50,517.00 L52.50,517.00 L52.75,527.93 L53.00,538.21 L53.25,547.22 L53.50,554.42 L53.75,559.37 L54.00,561.78 L54.25,558.97 L54.50,554.41 L54.75,550.40 L55.00,546.87 L55.25,543.75 L55.50,541.01 L55.75,538.58 L56.00,536.44 L56.25,534.54 L56.50,532.86 L56.75,531.36 L57.00,530.04 L57.25,528.86 L57.50,527.80 L57.75,526.86 L58.00,526.02 L58.25,525.27 L58.50,524.59 L58.75,523.99 L59.00,523.44 L59.25,522.95 L59.50,522.50 L59.75,522.10 L60.00,521.73 L60.25,521.40 L60.50,521.09 L60.75,520.81 L61.00,520.56 L61.25,520.33 L61.50,520.11 L61.75,519.92 L62.00,519.74 L62.25,519.57 L62.50,519.41 L62.75,519.27 L63.00,519.14 L63.25,519.01 L63.50,518.90 L63.75,518.79 L64.00,518.69 L64.25,518.60 L64.50,518.51 L64.75,518.43 L65.00,518.35 L65.25,518.28 L65.50,518.21 L65.75,518.15 L66.00,518.09 L66.25,518.03 L66.50,517.98 L66.75,517.93 L67.00,517.88 L67.25,517.83 L67.50,517.79 L67.75,517.75 L68.00,517.71 L68.25,517.68 L68.50,517.64 L68.75,517.61 L69.00,517.58 L69.25,517.55 L69.50,517.52 L69.75,517.50 L70.00,517.47 L70.25,517.45 L70.50,517.43 L70.75,517.41 L71.50,517.00 L71.50,517.00 L71.75,526.96 L72.00,536.33 L72.25,544.53 L72.50,551.09 L72.75,555.60 L73.00,557.80 L73.25,555.24 L73.50,551.08 L73.75,547.43 L74.00,544.21 L74.25,541.38 L74.50,538.87 L74.75,536.66 L75.00,534.71 L75.25,532.98 L75.50,531.45 L75.75,530.09 L76.00,528.88 L76.25,527.80 L76.50,526.84 L76.75,525.99 L77.00,525.22 L77.25,524.54 L77.50,523.92 L77.75,523.37 L78.00,522.87 L78.25,522.42 L78.50,522.01 L78.75,521.64 L79.00,521.31 L79.25,521.01 L79.50,520.73 L79.75,520.48 L80.00,520.24 L80.25,520.03 L80.50,519.84 L80.75,519.66 L81.00,519.49 L81.25,519.34 L81.50,519.20 L81.75,519.07 L82.00,518.95 L82.25,518.83 L82.50,518.73 L82.75,518.63 L83.00,518.54 L83.25,518.46 L83.50,518.38 L83.75,518.30 L84.00,518.23 L84.25,518.16 L84.50,518.10 L84.75,518.04 L85.00,517.99 L85.25,517.94 L85.50,517.89 L85.75,517.84 L86.00,517.80 L86.25,517.76 L86.50,517.72 L86.75,517.68 L87.00,517.65 L87.25,517.62 L87.50,517.59 L87.75,517.56 L88.00,517.53 L88.25,517.50 L88.50,517.48 L88.75,517.45 L89.00,517.43 L89.25,517.41 L89.50,517.39 L89.75,517.37 L90.50,517.00 L90.50,517.00 L90.75,526.23 L91.00,534.91 L91.25,542.52 L91.50,548.60 L91.75,552.78 L92.00,554.82 L92.25,552.44 L92.50,548.59 L92.75,545.20 L93.00,542.22 L93.25,539.59 L93.50,537.27 L93.75,535.23 L94.00,533.41 L94.25,531.81 L94.50,530.39 L94.75,529.13 L95.00,528.01 L95.25,527.01 L95.50,526.12 L95.75,525.33 L96.00,524.62 L96.25,523.98 L96.50,523.41 L96.75,522.90 L97.00,522.44 L97.25,522.02 L97.50,521.65 L97.75,521.30 L98.00,520.99 L98.25,520.71 L98.50,520.46 L98.75,520.22 L99.00,520.01 L99.25,519.81 L99.50,519.63 L99.75,519.46 L100.00,519.31 L100.25,519.17 L100.50,519.04 L100.75,518.92 L101.00,518.81 L101.25,518.70 L101.50,518.60 L101.75,518.51 L102.00,518.43 L102.25,518.35 L102.50,518.28 L102.75,518.21 L103.00,518.14 L103.25,518.08 L103.50,518.02 L103.75,517.97 L104.00,517.92 L104.25,517.87 L104.50,517.82 L104.75,517.78 L105.00,517.74 L105.25,517.70 L105.50,517.67 L105.75,517.63 L106.00,517.60 L106.25,517.57 L106.50,517.54 L106.75,517.52 L107.00,517.49 L107.25,517.47 L107.50,517.44 L107.75,517.42 L108.00,517.40 L108.25,517.38 L108.50,517.36 L108.75,517.34 L109.50,517.00 L109.50,517.00 L109.75,525.02 L110.00,532.56 L110.25,539.16 L110.50,544.44 L110.75,548.07 L111.00,549.84 L111.25,547.78 L111.50,544.43 L111.75,541.49 L112.00,538.90 L112.25,536.62 L112.50,534.61 L112.75,532.83 L113.00,531.25 L113.25,529.86 L113.50,528.63 L113.75,527.53 L114.00,526.56 L114.25,525.69 L114.50,524.92 L114.75,524.23 L115.00,523.62 L115.25,523.07 L115.50,522.57 L115.75,522.12 L116.00,521.72 L116.25,521.36 L116.50,521.03 L116.75,520.74 L117.00,520.47 L117.25,520.22 L117.50,520.00 L117.75,519.80 L118.00,519.61 L118.25,519.44 L118.50,519.28 L118.75,519.14 L119.00,519.01 L119.25,518.88 L119.50,518.77 L119.75,518.67 L120.00,518.57 L120.25,518.48 L120.50,518.39 L120.75,518.31 L121.00,518.24 L121.25,518.17 L121.50,518.11 L121.75,518.05 L122.00,517.99 L122.25,517.94 L122.50,517.89 L122.75,517.84 L123.00,517.80 L123.25,517.76 L123.50,517.72 L123.75,517.68 L124.00,517.64 L124.25,517.61 L124.50,517.58 L124.75,517.55 L125.00,517.52 L125.25,517.50 L125.50,517.47 L125.75,517.45 L126.00,517.43 L126.25,517.40 L126.50,517.38 L126.75,517.36 L127.00,517.35 L127.25,517.33 L127.50,517.31 L127.75,517.30 L128.50,517.00 L128.50,517.00 L128.75,525.02 L129.00,532.56 L129.25,539.16 L129.50,544.44 L129.75,548.07 L130.00,549.84 L130.25,547.78 L130.50,544.43 L130.75,541.49 L131.00,538.90 L131.25,536.62 L131.50,534.61 L131.75,532.83 L132.00,531.25 L132.25,529.86 L132.50,528.63 L132.75,527.53 L133.00,526.56 L133.25,525.69 L133.50,524.92 L133.75,524.23 L134.00,523.62 L134.25,523.07 L134.50,522.57 L134.75,522.12 L135.00,521.72 L135.25,521.36 L135.50,521.03 L135.75,520.74 L136.00,520.47 L136.25,520.22 L136.50,520.00 L136.75,519.80 L137.00,519.61 L137.25,519.44 L137.50,519.28 L137.75,519.14 L138.00,519.01 L138.25,518.88 L138.50,518.77 L138.75,518.67 L139.00,518.57 L139.25,518.48 L139.50,518.39 L139.75,518.31 L140.00,518.24 L140.25,518.17 L140.50,518.11 L140.75,518.05 L141.00,517.99 L141.25,517.94 L141.50,517.89 L141.75,517.84 L142.00,517.80 L142.25,517.76 L142.50,517.72 L142.75,517.68 L143.00,517.64 L143.25,517.61 L143.50,517.58 L143.75,517.55 L144.00,517.52 L144.25,517.50 L144.50,517.47 L144.75,517.45 L145.00,517.43 L145.25,517.40 L145.50,517.38 L145.75,517.36 L146.00,517.35 L146.25,517.33 L146.50,517.31 L146.75,517.30 L147.50,517.00 L147.50,517.00 L147.75,525.50 L148.00,533.50 L148.25,540.50 L148.50,546.10 L148.75,549.95 L149.00,551.83 L149.25,549.64 L149.50,546.10 L149.75,542.98 L150.00,540.23 L150.25,537.81 L150.50,535.67 L150.75,533.79 L151.00,532.12 L151.25,530.64 L151.50,529.33 L151.75,528.17 L152.00,527.14 L152.25,526.22 L152.50,525.40 L152.75,524.67 L153.00,524.02 L153.25,523.43 L153.50,522.91 L153.75,522.43 L154.00,522.01 L154.25,521.63 L154.50,521.28 L154.75,520.96 L155.00,520.68 L155.25,520.42 L155.50,520.18 L155.75,519.97 L156.00,519.77 L156.25,519.59 L156.50,519.42 L156.75,519.27 L157.00,519.13 L157.25,519.00 L157.50,518.88 L157.75,518.77 L158.00,518.66 L158.25,518.57 L158.50,518.48 L158.75,518.39 L159.00,518.32 L159.25,518.24 L159.50,518.17 L159.75,518.11 L160.00,518.05 L160.25,517.99 L160.50,517.94 L160.75,517.89 L161.00,517.85 L161.25,517.80 L161.50,517.76 L161.75,517.72 L162.00,517.68 L162.25,517.65 L162.50,517.62 L162.75,517.58 L163.00,517.55 L163.25,517.53 L163.50,517.50 L163.75,517.47 L164.00,517.45 L164.25,517.43 L164.50,517.41 L164.75,517.39 L165.00,517.37 L165.25,517.35 L165.50,517.33 L165.75,517.32 L166.50,517.00 L166.50,517.00 L166.75,525.26 L167.00,533.03 L167.25,539.83 L167.50,545.27 L167.75,549.01 L168.00,550.84 L168.25,548.71 L168.50,545.27 L168.75,542.23 L169.00,539.57 L169.25,537.21 L169.50,535.14 L169.75,533.31 L170.00,531.69 L170.25,530.25 L170.50,528.98 L170.75,527.85 L171.00,526.85 L171.25,525.96 L171.50,525.16 L171.75,524.45 L172.00,523.82 L172.25,523.25 L172.50,522.74 L172.75,522.28 L173.00,521.87 L173.25,521.49 L173.50,521.16 L173.75,520.85 L174.00,520.57 L174.25,520.32 L174.50,520.09 L174.75,519.88 L175.00,519.69 L175.25,519.51 L175.50,519.35 L175.75,519.20 L176.00,519.07 L176.25,518.94 L176.50,518.82 L176.75,518.72 L177.00,518.62 L177.25,518.52 L177.50,518.43 L177.75,518.35 L178.00,518.28 L178.25,518.21 L178.50,518.14 L178.75,518.08 L179.00,518.02 L179.25,517.97 L179.50,517.91 L179.75,517.87 L180.00,517.82 L180.25,517.78 L180.50,517.74 L180.75,517.70 L181.00,517.66 L181.25,517.63 L181.50,517.60 L181.75,517.57 L182.00,517.54 L182.25,517.51 L182.50,517.49 L182.75,517.46 L183.00,517.44 L183.25,517.42 L183.50,517.40 L183.75,517.38 L184.00,517.36 L184.25,517.34 L184.50,517.32 L184.75,517.31 L185.50,517.00 L185.50,517.00 L185.75,525.02 L186.00,532.56 L186.25,539.16 L186.50,544.44 L186.75,548.07 L187.00,549.84 L187.25,547.78 L187.50,544.43 L187.75,541.49 L188.00,538.90 L188.25,536.62 L188.50,534.61 L188.75,532.83 L189.00,531.25 L189.25,529.86 L189.50,528.63 L189.75,527.53 L190.00,526.56 L190.25,525.69 L190.50,524.92 L190.75,524.23 L191.00,523.62 L191.25,523.07 L191.50,522.57 L191.75,522.12 L192.00,521.72 L192.25,521.36 L192.50,521.03 L192.75,520.74 L193.00,520.47 L193.25,520.22 L193.50,520.00 L193.75,519.80 L194.00,519.61 L194.25,519.44 L194.50,519.28 L194.75,519.14 L195.00,519.01 L195.25,518.88 L195.50,518.77 L195.75,518.67 L196.00,518.57 L196.25,518.48 L196.50,518.39 L196.75,518.31 L197.00,518.24 L197.25,518.17 L197.50,518.11 L197.75,518.05 L198.00,517.99 L198.25,517.94 L198.50,517.89 L198.75,517.84 L199.00,517.80 L199.25,517.76 L199.50,517.72 L199.75,517.68 L200.00,517.64 L200.25,517.61 L200.50,517.58 L200.75,517.55 L201.00,517.52 L201.25,517.50 L201.50,517.47 L201.75,517.45 L202.00,517.43 L202.25,517.40 L202.50,517.38 L202.75,517.36 L203.00,517.35 L203.25,517.33 L203.50,517.31 L203.75,517.30 L204.50,517.00 L204.50,517.00 L204.75,524.78 L205.00,532.08 L205.25,538.49 L205.50,543.61 L205.75,547.13 L206.00,548.85 L206.25,546.84 L206.50,543.60 L206.75,540.75 L207.00,538.24 L207.25,536.03 L207.50,534.07 L207.75,532.35 L208.00,530.82 L208.25,529.47 L208.50,528.28 L208.75,527.21 L209.00,526.27 L209.25,525.43 L209.50,524.68 L209.75,524.01 L210.00,523.42 L210.25,522.88 L210.50,522.40 L210.75,521.97 L211.00,521.58 L211.25,521.23 L211.50,520.91 L211.75,520.62 L212.00,520.36 L212.25,520.13 L212.50,519.91 L212.75,519.71 L213.00,519.53 L213.25,519.37 L213.50,519.21 L213.75,519.07 L214.00,518.95 L214.25,518.83 L214.50,518.72 L214.75,518.61 L215.00,518.52 L215.25,518.43 L215.50,518.35 L215.75,518.27 L216.00,518.20 L216.25,518.14 L216.50,518.07 L216.75,518.02 L217.00,517.96 L217.25,517.91 L217.50,517.86 L217.75,517.82 L218.00,517.77 L218.25,517.73 L218.50,517.69 L218.75,517.66 L219.00,517.62 L219.25,517.59 L219.50,517.56 L219.75,517.53 L220.00,517.51 L220.25,517.48 L220.50,517.46 L220.75,517.43 L221.00,517.41 L221.40,517.00" stroke="#ee2a2a" stroke-width="0.95" fill="none" stroke-linejoin="round"/>
<path d="M13.40,517.00 L33.50,517.00 L33.50,517.00 L33.75,525.26 L34.00,533.03 L34.25,539.83 L34.50,545.27 L34.75,549.01 L35.00,550.84 L35.25,548.71 L35.50,545.27 L35.75,542.23 L36.00,539.57 L36.25,537.21 L36.50,535.14 L36.75,533.31 L37.00,531.69 L37.25,530.25 L37.50,528.98 L37.75,527.85 L38.00,526.85 L38.25,525.96 L38.50,525.16 L38.75,524.45 L39.00,523.82 L39.25,523.25 L39.50,522.74 L39.75,522.28 L40.00,521.87 L40.25,521.49 L40.50,521.16 L40.75,520.85 L41.00,520.57 L41.25,520.32 L41.50,520.09 L41.75,519.88 L42.00,519.69 L42.25,519.51 L42.50,519.35 L42.75,519.20 L43.00,519.07 L43.25,518.94 L43.50,518.82 L43.75,518.72 L44.00,518.62 L44.25,518.52 L44.50,518.43 L44.75,518.35 L45.00,518.28 L45.25,518.21 L45.50,518.14 L45.75,518.08 L46.00,518.02 L46.25,517.97 L46.50,517.91 L46.75,517.87 L47.00,517.82 L47.25,517.78 L47.50,517.74 L47.75,517.70 L48.00,517.66 L48.25,517.63 L48.50,517.60 L48.75,517.57 L49.00,517.54 L49.25,517.51 L49.50,517.49 L49.75,517.46 L50.00,517.44 L50.25,517.42 L50.50,517.40 L50.75,517.38 L51.00,517.36 L51.25,517.34 L51.50,517.32 L51.75,517.31 L52.50,517.00 L52.50,517.00 L52.75,525.02 L53.00,532.56 L53.25,539.16 L53.50,544.44 L53.75,548.07 L54.00,549.84 L54.25,547.78 L54.50,544.43 L54.75,541.49 L55.00,538.90 L55.25,536.62 L55.50,534.61 L55.75,532.83 L56.00,531.25 L56.25,529.86 L56.50,528.63 L56.75,527.53 L57.00,526.56 L57.25,525.69 L57.50,524.92 L57.75,524.23 L58.00,523.62 L58.25,523.07 L58.50,522.57 L58.75,522.12 L59.00,521.72 L59.25,521.36 L59.50,521.03 L59.75,520.74 L60.00,520.47 L60.25,520.22 L60.50,520.00 L60.75,519.80 L61.00,519.61 L61.25,519.44 L61.50,519.28 L61.75,519.14 L62.00,519.01 L62.25,518.88 L62.50,518.77 L62.75,518.67 L63.00,518.57 L63.25,518.48 L63.50,518.39 L63.75,518.31 L64.00,518.24 L64.25,518.17 L64.50,518.11 L64.75,518.05 L65.00,517.99 L65.25,517.94 L65.50,517.89 L65.75,517.84 L66.00,517.80 L66.25,517.76 L66.50,517.72 L66.75,517.68 L67.00,517.64 L67.25,517.61 L67.50,517.58 L67.75,517.55 L68.00,517.52 L68.25,517.50 L68.50,517.47 L68.75,517.45 L69.00,517.43 L69.25,517.40 L69.50,517.38 L69.75,517.36 L70.00,517.35 L70.25,517.33 L70.50,517.31 L70.75,517.30 L71.50,517.00 L71.50,517.00 L71.75,524.29 L72.00,531.14 L72.25,537.15 L72.50,541.94 L72.75,545.25 L73.00,546.86 L73.25,544.98 L73.50,541.94 L73.75,539.27 L74.00,536.91 L74.25,534.84 L74.50,533.01 L74.75,531.39 L75.00,529.96 L75.25,528.69 L75.50,527.57 L75.75,526.58 L76.00,525.69 L76.25,524.90 L76.50,524.20 L76.75,523.58 L77.00,523.02 L77.25,522.51 L77.50,522.06 L77.75,521.66 L78.00,521.29 L78.25,520.96 L78.50,520.67 L78.75,520.40 L79.00,520.15 L79.25,519.93 L79.50,519.73 L79.75,519.54 L80.00,519.37 L80.25,519.22 L80.50,519.08 L80.75,518.94 L81.00,518.82 L81.25,518.71 L81.50,518.61 L81.75,518.51 L82.00,518.43 L82.25,518.34 L82.50,518.27 L82.75,518.19 L83.00,518.13 L83.25,518.07 L83.50,518.01 L83.75,517.95 L84.00,517.90 L84.25,517.85 L84.50,517.81 L84.75,517.76 L85.00,517.72 L85.25,517.69 L85.50,517.65 L85.75,517.62 L86.00,517.59 L86.25,517.56 L86.50,517.53 L86.75,517.50 L87.00,517.48 L87.25,517.45 L87.50,517.43 L87.75,517.41 L88.00,517.39 L88.25,517.37 L88.50,517.35 L88.75,517.33 L89.00,517.32 L89.25,517.30 L89.50,517.28 L89.75,517.27 L90.50,517.00 L90.50,517.00 L90.75,524.05 L91.00,530.67 L91.25,536.48 L91.50,541.11 L91.75,544.30 L92.00,545.86 L92.25,544.05 L92.50,541.11 L92.75,538.52 L93.00,536.25 L93.25,534.24 L93.50,532.47 L93.75,530.91 L94.00,529.53 L94.25,528.30 L94.50,527.22 L94.75,526.26 L95.00,525.40 L95.25,524.64 L95.50,523.96 L95.75,523.36 L96.00,522.82 L96.25,522.33 L96.50,521.89 L96.75,521.50 L97.00,521.15 L97.25,520.83 L97.50,520.54 L97.75,520.28 L98.00,520.05 L98.25,519.83 L98.50,519.64 L98.75,519.46 L99.00,519.29 L99.25,519.14 L99.50,519.01 L99.75,518.88 L100.00,518.76 L100.25,518.66 L100.50,518.56 L100.75,518.46 L101.00,518.38 L101.25,518.30 L101.50,518.22 L101.75,518.15 L102.00,518.09 L102.25,518.03 L102.50,517.97 L102.75,517.92 L103.00,517.87 L103.25,517.82 L103.50,517.78 L103.75,517.74 L104.00,517.70 L104.25,517.66 L104.50,517.63 L104.75,517.60 L105.00,517.57 L105.25,517.54 L105.50,517.51 L105.75,517.48 L106.00,517.46 L106.25,517.44 L106.50,517.41 L106.75,517.39 L107.00,517.37 L107.25,517.36 L107.50,517.34 L107.75,517.32 L108.00,517.30 L108.25,517.29 L108.50,517.28 L108.75,517.26 L109.50,517.00 L109.50,517.00 L109.75,524.05 L110.00,530.67 L110.25,536.48 L110.50,541.11 L110.75,544.30 L111.00,545.86 L111.25,544.05 L111.50,541.11 L111.75,538.52 L112.00,536.25 L112.25,534.24 L112.50,532.47 L112.75,530.91 L113.00,529.53 L113.25,528.30 L113.50,527.22 L113.75,526.26 L114.00,525.40 L114.25,524.64 L114.50,523.96 L114.75,523.36 L115.00,522.82 L115.25,522.33 L115.50,521.89 L115.75,521.50 L116.00,521.15 L116.25,520.83 L116.50,520.54 L116.75,520.28 L117.00,520.05 L117.25,519.83 L117.50,519.64 L117.75,519.46 L118.00,519.29 L118.25,519.14 L118.50,519.01 L118.75,518.88 L119.00,518.76 L119.25,518.66 L119.50,518.56 L119.75,518.46 L120.00,518.38 L120.25,518.30 L120.50,518.22 L120.75,518.15 L121.00,518.09 L121.25,518.03 L121.50,517.97 L121.75,517.92 L122.00,517.87 L122.25,517.82 L122.50,517.78 L122.75,517.74 L123.00,517.70 L123.25,517.66 L123.50,517.63 L123.75,517.60 L124.00,517.57 L124.25,517.54 L124.50,517.51 L124.75,517.48 L125.00,517.46 L125.25,517.44 L125.50,517.41 L125.75,517.39 L126.00,517.37 L126.25,517.36 L126.50,517.34 L126.75,517.32 L127.00,517.30 L127.25,517.29 L127.50,517.28 L127.75,517.26 L128.50,517.00 L128.50,517.00 L128.75,524.05 L129.00,530.67 L129.25,536.48 L129.50,541.11 L129.75,544.30 L130.00,545.86 L130.25,544.05 L130.50,541.11 L130.75,538.52 L131.00,536.25 L131.25,534.24 L131.50,532.47 L131.75,530.91 L132.00,529.53 L132.25,528.30 L132.50,527.22 L132.75,526.26 L133.00,525.40 L133.25,524.64 L133.50,523.96 L133.75,523.36 L134.00,522.82 L134.25,522.33 L134.50,521.89 L134.75,521.50 L135.00,521.15 L135.25,520.83 L135.50,520.54 L135.75,520.28 L136.00,520.05 L136.25,519.83 L136.50,519.64 L136.75,519.46 L137.00,519.29 L137.25,519.14 L137.50,519.01 L137.75,518.88 L138.00,518.76 L138.25,518.66 L138.50,518.56 L138.75,518.46 L139.00,518.38 L139.25,518.30 L139.50,518.22 L139.75,518.15 L140.00,518.09 L140.25,518.03 L140.50,517.97 L140.75,517.92 L141.00,517.87 L141.25,517.82 L141.50,517.78 L141.75,517.74 L142.00,517.70 L142.25,517.66 L142.50,517.63 L142.75,517.60 L143.00,517.57 L143.25,517.54 L143.50,517.51 L143.75,517.48 L144.00,517.46 L144.25,517.44 L144.50,517.41 L144.75,517.39 L145.00,517.37 L145.25,517.36 L145.50,517.34 L145.75,517.32 L146.00,517.30 L146.25,517.29 L146.50,517.28 L146.75,517.26 L147.50,517.00 L147.50,517.00 L147.75,524.05 L148.00,530.67 L148.25,536.48 L148.50,541.11 L148.75,544.30 L149.00,545.86 L149.25,544.05 L149.50,541.11 L149.75,538.52 L150.00,536.25 L150.25,534.24 L150.50,532.47 L150.75,530.91 L151.00,529.53 L151.25,528.30 L151.50,527.22 L151.75,526.26 L152.00,525.40 L152.25,524.64 L152.50,523.96 L152.75,523.36 L153.00,522.82 L153.25,522.33 L153.50,521.89 L153.75,521.50 L154.00,521.15 L154.25,520.83 L154.50,520.54 L154.75,520.28 L155.00,520.05 L155.25,519.83 L155.50,519.64 L155.75,519.46 L156.00,519.29 L156.25,519.14 L156.50,519.01 L156.75,518.88 L157.00,518.76 L157.25,518.66 L157.50,518.56 L157.75,518.46 L158.00,518.38 L158.25,518.30 L158.50,518.22 L158.75,518.15 L159.00,518.09 L159.25,518.03 L159.50,517.97 L159.75,517.92 L160.00,517.87 L160.25,517.82 L160.50,517.78 L160.75,517.74 L161.00,517.70 L161.25,517.66 L161.50,517.63 L161.75,517.60 L162.00,517.57 L162.25,517.54 L162.50,517.51 L162.75,517.48 L163.00,517.46 L163.25,517.44 L163.50,517.41 L163.75,517.39 L164.00,517.37 L164.25,517.36 L164.50,517.34 L164.75,517.32 L165.00,517.30 L165.25,517.29 L165.50,517.28 L165.75,517.26 L166.50,517.00 L166.50,517.00 L166.75,524.05 L167.00,530.67 L167.25,536.48 L167.50,541.11 L167.75,544.30 L168.00,545.86 L168.25,544.05 L168.50,541.11 L168.75,538.52 L169.00,536.25 L169.25,534.24 L169.50,532.47 L169.75,530.91 L170.00,529.53 L170.25,528.30 L170.50,527.22 L170.75,526.26 L171.00,525.40 L171.25,524.64 L171.50,523.96 L171.75,523.36 L172.00,522.82 L172.25,522.33 L172.50,521.89 L172.75,521.50 L173.00,521.15 L173.25,520.83 L173.50,520.54 L173.75,520.28 L174.00,520.05 L174.25,519.83 L174.50,519.64 L174.75,519.46 L175.00,519.29 L175.25,519.14 L175.50,519.01 L175.75,518.88 L176.00,518.76 L176.25,518.66 L176.50,518.56 L176.75,518.46 L177.00,518.38 L177.25,518.30 L177.50,518.22 L177.75,518.15 L178.00,518.09 L178.25,518.03 L178.50,517.97 L178.75,517.92 L179.00,517.87 L179.25,517.82 L179.50,517.78 L179.75,517.74 L180.00,517.70 L180.25,517.66 L180.50,517.63 L180.75,517.60 L181.00,517.57 L181.25,517.54 L181.50,517.51 L181.75,517.48 L182.00,517.46 L182.25,517.44 L182.50,517.41 L182.75,517.39 L183.00,517.37 L183.25,517.36 L183.50,517.34 L183.75,517.32 L184.00,517.30 L184.25,517.29 L184.50,517.28 L184.75,517.26 L185.50,517.00 L185.50,517.00 L185.75,524.05 L186.00,530.67 L186.25,536.48 L186.50,541.11 L186.75,544.30 L187.00,545.86 L187.25,544.05 L187.50,541.11 L187.75,538.52 L188.00,536.25 L188.25,534.24 L188.50,532.47 L188.75,530.91 L189.00,529.53 L189.25,528.30 L189.50,527.22 L189.75,526.26 L190.00,525.40 L190.25,524.64 L190.50,523.96 L190.75,523.36 L191.00,522.82 L191.25,522.33 L191.50,521.89 L191.75,521.50 L192.00,521.15 L192.25,520.83 L192.50,520.54 L192.75,520.28 L193.00,520.05 L193.25,519.83 L193.50,519.64 L193.75,519.46 L194.00,519.29 L194.25,519.14 L194.50,519.01 L194.75,518.88 L195.00,518.76 L195.25,518.66 L195.50,518.56 L195.75,518.46 L196.00,518.38 L196.25,518.30 L196.50,518.22 L196.75,518.15 L197.00,518.09 L197.25,518.03 L197.50,517.97 L197.75,517.92 L198.00,517.87 L198.25,517.82 L198.50,517.78 L198.75,517.74 L199.00,517.70 L199.25,517.66 L199.50,517.63 L199.75,517.60 L200.00,517.57 L200.25,517.54 L200.50,517.51 L200.75,517.48 L201.00,517.46 L201.25,517.44 L201.50,517.41 L201.75,517.39 L202.00,517.37 L202.25,517.36 L202.50,517.34 L202.75,517.32 L203.00,517.30 L203.25,517.29 L203.50,517.28 L203.75,517.26 L204.50,517.00 L204.50,517.00 L204.75,524.05 L205.00,530.67 L205.25,536.48 L205.50,541.11 L205.75,544.30 L206.00,545.86 L206.25,544.05 L206.50,541.11 L206.75,538.52 L207.00,536.25 L207.25,534.24 L207.50,532.47 L207.75,530.91 L208.00,529.53 L208.25,528.30 L208.50,527.22 L208.75,526.26 L209.00,525.40 L209.25,524.64 L209.50,523.96 L209.75,523.36 L210.00,522.82 L210.25,522.33 L210.50,521.89 L210.75,521.50 L211.00,521.15 L211.25,520.83 L211.50,520.54 L211.75,520.28 L212.00,520.05 L212.25,519.83 L212.50,519.64 L212.75,519.46 L213.00,519.29 L213.25,519.14 L213.50,519.01 L213.75,518.88 L214.00,518.76 L214.25,518.66 L214.50,518.56 L214.75,518.46 L215.00,518.38 L215.25,518.30 L215.50,518.22 L215.75,518.15 L216.00,518.09 L216.25,518.03 L216.50,517.97 L216.75,517.92 L217.00,517.87 L217.25,517.82 L217.50,517.78 L217.75,517.74 L218.00,517.70 L218.25,517.66 L218.50,517.63 L218.75,517.60 L219.00,517.57 L219.25,517.54 L219.50,517.51 L219.75,517.48 L220.00,517.46 L220.25,517.44 L220.50,517.41 L220.75,517.39 L221.00,517.37 L221.40,517.00" stroke="#222" stroke-width="0.85" fill="none" stroke-linejoin="round"/>
<line x1="205.30" y1="481.70" x2="224.30" y2="481.70" stroke="#111" stroke-width="1.7" />
<text x="200.80" y="492.00" font-size="9.2" fill="#222" stroke="#222" stroke-width="0.15" text-anchor="start" >100 ms</text>
<line x1="205.30" y1="566.10" x2="224.30" y2="566.10" stroke="#111" stroke-width="1.7" />
<text x="204.20" y="576.70" font-size="9.2" fill="#222" stroke="#222" stroke-width="0.15" text-anchor="start" >50 ms</text>
<line x1="274.80" y1="435.10" x2="274.80" y2="545.60" stroke="#222" stroke-width="1.5" />
<line x1="274.10" y1="544.90" x2="440.10" y2="544.90" stroke="#222" stroke-width="1.5" />
<line x1="270.00" y1="544.90" x2="274.80" y2="544.90" stroke="#222" stroke-width="1.4" />
<text x="268.80" y="548.10" font-size="9.0" fill="#222" stroke="#222" stroke-width="0.15" text-anchor="end" >0.0</text>
<line x1="270.00" y1="508.30" x2="274.80" y2="508.30" stroke="#222" stroke-width="1.4" />
<text x="268.80" y="511.50" font-size="9.0" fill="#222" stroke="#222" stroke-width="0.15" text-anchor="end" >0.5</text>
<line x1="270.00" y1="471.70" x2="274.80" y2="471.70" stroke="#222" stroke-width="1.4" />
<text x="268.80" y="474.90" font-size="9.0" fill="#222" stroke="#222" stroke-width="0.15" text-anchor="end" >1.0</text>
<line x1="270.00" y1="435.10" x2="274.80" y2="435.10" stroke="#222" stroke-width="1.4" />
<text x="268.80" y="438.30" font-size="9.0" fill="#222" stroke="#222" stroke-width="0.15" text-anchor="end" >1.5</text>
<line x1="274.80" y1="544.90" x2="274.80" y2="548.40" stroke="#222" stroke-width="1.4" />
<text x="274.80" y="559.20" font-size="9.0" fill="#222" stroke="#222" stroke-width="0.15" text-anchor="middle" >0</text>
<line x1="307.74" y1="544.90" x2="307.74" y2="548.40" stroke="#222" stroke-width="1.4" />
<text x="307.74" y="559.20" font-size="9.0" fill="#222" stroke="#222" stroke-width="0.15" text-anchor="middle" >2</text>
<line x1="340.68" y1="544.90" x2="340.68" y2="548.40" stroke="#222" stroke-width="1.4" />
<text x="340.68" y="559.20" font-size="9.0" fill="#222" stroke="#222" stroke-width="0.15" text-anchor="middle" >4</text>
<line x1="373.62" y1="544.90" x2="373.62" y2="548.40" stroke="#222" stroke-width="1.4" />
<text x="373.62" y="559.20" font-size="9.0" fill="#222" stroke="#222" stroke-width="0.15" text-anchor="middle" >6</text>
<line x1="406.56" y1="544.90" x2="406.56" y2="548.40" stroke="#222" stroke-width="1.4" />
<text x="406.56" y="559.20" font-size="9.0" fill="#222" stroke="#222" stroke-width="0.15" text-anchor="middle" >8</text>
<line x1="439.50" y1="544.90" x2="439.50" y2="548.40" stroke="#222" stroke-width="1.4" />
<text x="439.50" y="559.20" font-size="9.0" fill="#222" stroke="#222" stroke-width="0.15" text-anchor="middle" >10</text>
<text x="357.15" y="572.60" font-size="9.2" fill="#222" stroke="#222" stroke-width="0.15" text-anchor="middle" >Stimuli #</text>
<text x="324.00" y="426.70" font-size="10.1" fill="#222" stroke="#222" stroke-width="0.15" text-anchor="start" >Human (10 Hz)</text>
<text x="250.0" y="489.1" font-size="9.3" fill="#222" stroke="#222" stroke-width="0.15" text-anchor="middle" transform="rotate(-90 250.0 489)">STP (EPSC<tspan font-size="6" dy="2">n</tspan><tspan dy="-2">/EPSC</tspan><tspan font-size="6" dy="2">1</tspan><tspan dy="-2">)</tspan></text>
<line x1="277.80" y1="471.70" x2="439.50" y2="471.70" stroke="#444" stroke-width="0.9" stroke-dasharray="1,1.6"/>
<path d="M291.27,471.70 L307.74,463.65 L324.21,468.04 L340.68,471.70 L357.15,471.70 L373.62,473.16 L390.09,471.70 L406.56,471.70 L423.03,475.36 L439.50,473.90" stroke="#ee2a2a" stroke-width="1.1" fill="none" stroke-dasharray="3,2.2"/>
<path d="M307.74,459.26V468.04M305.24,459.26h5M305.24,468.04h5M324.21,462.92V473.16M321.71,462.92h5M321.71,473.16h5M340.68,466.58V476.82M338.18,466.58h5M338.18,476.82h5M357.15,464.38V479.02M354.65,464.38h5M354.65,479.02h5M373.62,467.31V479.02M371.12,467.31h5M371.12,479.02h5M390.09,466.58V476.82M387.59,466.58h5M387.59,476.82h5M406.56,465.84V477.56M404.06,465.84h5M404.06,477.56h5M423.03,469.50V481.22M420.53,469.50h5M420.53,481.22h5M439.50,468.04V479.75M437.00,468.04h5M437.00,479.75h5" stroke="#ee2a2a" stroke-width="1.1" fill="none" />
<circle cx="291.27" cy="471.70" r="2.6" fill="#ee2a2a"/>
<circle cx="307.74" cy="463.65" r="2.6" fill="#ee2a2a"/>
<circle cx="324.21" cy="468.04" r="2.6" fill="#ee2a2a"/>
<circle cx="340.68" cy="471.70" r="2.6" fill="#ee2a2a"/>
<circle cx="357.15" cy="471.70" r="2.6" fill="#ee2a2a"/>
<circle cx="373.62" cy="473.16" r="2.6" fill="#ee2a2a"/>
<circle cx="390.09" cy="471.70" r="2.6" fill="#ee2a2a"/>
<circle cx="406.56" cy="471.70" r="2.6" fill="#ee2a2a"/>
<circle cx="423.03" cy="475.36" r="2.6" fill="#ee2a2a"/>
<circle cx="439.50" cy="473.90" r="2.6" fill="#ee2a2a"/>
<path d="M291.27,471.70 L307.74,473.90 L324.21,477.56 L340.68,479.75 L357.15,482.68 L373.62,481.22 L390.09,480.48 L406.56,477.56 L423.03,482.68 L439.50,476.09" stroke="#111" stroke-width="1.1" fill="none" stroke-dasharray="3,2.2"/>
<path d="M307.74,461.45V486.34M305.24,461.45h5M305.24,486.34h5M324.21,470.24V484.88M321.71,470.24h5M321.71,484.88h5M340.68,473.16V486.34M338.18,473.16h5M338.18,486.34h5M357.15,475.36V490.00M354.65,475.36h5M354.65,490.00h5M373.62,474.63V487.80M371.12,474.63h5M371.12,487.80h5M390.09,473.90V487.07M387.59,473.90h5M387.59,487.07h5M406.56,473.16V481.95M404.06,473.16h5M404.06,481.95h5M423.03,473.16V492.20M420.53,473.16h5M420.53,492.20h5M439.50,470.97V481.22M437.00,470.97h5M437.00,481.22h5" stroke="#111" stroke-width="1.1" fill="none" />
<circle cx="291.27" cy="471.70" r="2.6" fill="#111"/>
<circle cx="307.74" cy="473.90" r="2.6" fill="#111"/>
<circle cx="324.21" cy="477.56" r="2.6" fill="#111"/>
<circle cx="340.68" cy="479.75" r="2.6" fill="#111"/>
<circle cx="357.15" cy="482.68" r="2.6" fill="#111"/>
<circle cx="373.62" cy="481.22" r="2.6" fill="#111"/>
<circle cx="390.09" cy="480.48" r="2.6" fill="#111"/>
<circle cx="406.56" cy="477.56" r="2.6" fill="#111"/>
<circle cx="423.03" cy="482.68" r="2.6" fill="#111"/>
<circle cx="439.50" cy="476.09" r="2.6" fill="#111"/>
<line x1="280.20" y1="519.20" x2="295.20" y2="519.20" stroke="#111" stroke-width="1.1" stroke-dasharray="3,2.2"/>
<circle cx="287.20" cy="519.2" r="2.6" fill="#111"/>
<text x="299.70" y="522.50" font-size="9.1" fill="#222" stroke="#222" stroke-width="0.15" text-anchor="start" >Control (n=6)</text>
<line x1="280.20" y1="533.60" x2="295.20" y2="533.60" stroke="#ee2a2a" stroke-width="1.1" stroke-dasharray="3,2.2"/>
<circle cx="287.20" cy="533.6" r="2.6" fill="#ee2a2a"/>
<text x="299.70" y="536.90" font-size="9.1" fill="#222" stroke="#222" stroke-width="0.15" text-anchor="start" >+CGP (n=6)</text>
<path d="M355.40,516.1 H361.90 V535.6 H355.40" stroke="#222" stroke-width="1.1" fill="none" />
<text x="360.70" y="525.9" font-size="10.6" fill="#222" stroke="#222" stroke-width="0.3" text-anchor="middle" transform="rotate(90 360.70 525.9)">***</text>
<text x="374.40" y="522.60" font-size="9.1" fill="#222" stroke="#222" stroke-width="0.15" text-anchor="start" >F=15.67,</text>
<text x="374.40" y="534.30" font-size="9.1" fill="#222" stroke="#222" stroke-width="0.15" text-anchor="start" ><tspan font-style="italic">p</tspan>=0.0003 [CGP]</text>
<line x1="501.30" y1="435.10" x2="501.30" y2="545.60" stroke="#222" stroke-width="1.5" />
<line x1="500.60" y1="544.90" x2="666.50" y2="544.90" stroke="#222" stroke-width="1.5" />
<line x1="496.50" y1="544.90" x2="501.30" y2="544.90" stroke="#222" stroke-width="1.4" />
<text x="495.30" y="548.10" font-size="9.0" fill="#222" stroke="#222" stroke-width="0.15" text-anchor="end" >0.0</text>
<line x1="496.50" y1="508.30" x2="501.30" y2="508.30" stroke="#222" stroke-width="1.4" />
<text x="495.30" y="511.50" font-size="9.0" fill="#222" stroke="#222" stroke-width="0.15" text-anchor="end" >0.5</text>
<line x1="496.50" y1="471.70" x2="501.30" y2="471.70" stroke="#222" stroke-width="1.4" />
<text x="495.30" y="474.90" font-size="9.0" fill="#222" stroke="#222" stroke-width="0.15" text-anchor="end" >1.0</text>
<line x1="496.50" y1="435.10" x2="501.30" y2="435.10" stroke="#222" stroke-width="1.4" />
<text x="495.30" y="438.30" font-size="9.0" fill="#222" stroke="#222" stroke-width="0.15" text-anchor="end" >1.5</text>
<line x1="501.30" y1="544.90" x2="501.30" y2="548.40" stroke="#222" stroke-width="1.4" />
<text x="501.30" y="559.20" font-size="9.0" fill="#222" stroke="#222" stroke-width="0.15" text-anchor="middle" >0</text>
<line x1="534.22" y1="544.90" x2="534.22" y2="548.40" stroke="#222" stroke-width="1.4" />
<text x="534.22" y="559.20" font-size="9.0" fill="#222" stroke="#222" stroke-width="0.15" text-anchor="middle" >2</text>
<line x1="567.14" y1="544.90" x2="567.14" y2="548.40" stroke="#222" stroke-width="1.4" />
<text x="567.14" y="559.20" font-size="9.0" fill="#222" stroke="#222" stroke-width="0.15" text-anchor="middle" >4</text>
<line x1="600.06" y1="544.90" x2="600.06" y2="548.40" stroke="#222" stroke-width="1.4" />
<text x="600.06" y="559.20" font-size="9.0" fill="#222" stroke="#222" stroke-width="0.15" text-anchor="middle" >6</text>
<line x1="632.98" y1="544.90" x2="632.98" y2="548.40" stroke="#222" stroke-width="1.4" />
<text x="632.98" y="559.20" font-size="9.0" fill="#222" stroke="#222" stroke-width="0.15" text-anchor="middle" >8</text>
<line x1="665.90" y1="544.90" x2="665.90" y2="548.40" stroke="#222" stroke-width="1.4" />
<text x="665.90" y="559.20" font-size="9.0" fill="#222" stroke="#222" stroke-width="0.15" text-anchor="middle" >10</text>
<text x="583.60" y="572.60" font-size="9.2" fill="#222" stroke="#222" stroke-width="0.15" text-anchor="middle" >Stimuli #</text>
<text x="556.40" y="426.70" font-size="10.1" fill="#222" stroke="#222" stroke-width="0.15" text-anchor="start" >Human (20 Hz)</text>
<text x="476.8" y="489.1" font-size="9.3" fill="#222" stroke="#222" stroke-width="0.15" text-anchor="middle" transform="rotate(-90 476.8 489)">STP (EPSC<tspan font-size="6" dy="2">n</tspan><tspan dy="-2">/EPSC</tspan><tspan font-size="6" dy="2">1</tspan><tspan dy="-2">)</tspan></text>
<line x1="504.30" y1="471.70" x2="665.90" y2="471.70" stroke="#444" stroke-width="0.9" stroke-dasharray="1,1.6"/>
<path d="M517.76,471.70 L534.22,460.72 L550.68,466.58 L567.14,473.16 L583.60,480.48 L600.06,479.02 L616.52,480.48 L632.98,481.22 L649.44,481.22 L665.90,482.68" stroke="#ee2a2a" stroke-width="1.1" fill="none" stroke-dasharray="3,2.2"/>
<path d="M534.22,454.13V467.31M531.72,454.13h5M531.72,467.31h5M550.68,461.45V471.70M548.18,461.45h5M548.18,471.70h5M567.14,467.31V479.02M564.64,467.31h5M564.64,479.02h5M583.60,473.90V487.07M581.10,473.90h5M581.10,487.07h5M600.06,473.90V484.14M597.56,473.90h5M597.56,484.14h5M616.52,475.36V485.61M614.02,475.36h5M614.02,485.61h5M632.98,476.82V485.61M630.48,476.82h5M630.48,485.61h5M649.44,477.56V484.88M646.94,477.56h5M646.94,484.88h5M665.90,478.29V487.07M663.40,478.29h5M663.40,487.07h5" stroke="#ee2a2a" stroke-width="1.1" fill="none" />
<circle cx="517.76" cy="471.70" r="2.6" fill="#ee2a2a"/>
<circle cx="534.22" cy="460.72" r="2.6" fill="#ee2a2a"/>
<circle cx="550.68" cy="466.58" r="2.6" fill="#ee2a2a"/>
<circle cx="567.14" cy="473.16" r="2.6" fill="#ee2a2a"/>
<circle cx="583.60" cy="480.48" r="2.6" fill="#ee2a2a"/>
<circle cx="600.06" cy="479.02" r="2.6" fill="#ee2a2a"/>
<circle cx="616.52" cy="480.48" r="2.6" fill="#ee2a2a"/>
<circle cx="632.98" cy="481.22" r="2.6" fill="#ee2a2a"/>
<circle cx="649.44" cy="481.22" r="2.6" fill="#ee2a2a"/>
<circle cx="665.90" cy="482.68" r="2.6" fill="#ee2a2a"/>
<path d="M517.76,471.70 L534.22,469.50 L550.68,472.43 L567.14,479.75 L583.60,488.54 L600.06,492.20 L616.52,492.93 L632.98,493.66 L649.44,493.66 L665.90,495.12" stroke="#111" stroke-width="1.1" fill="none" stroke-dasharray="3,2.2"/>
<path d="M534.22,464.38V474.63M531.72,464.38h5M531.72,474.63h5M550.68,466.58V478.29M548.18,466.58h5M548.18,478.29h5M567.14,472.43V487.07M564.64,472.43h5M564.64,487.07h5M583.60,479.02V498.05M581.10,479.02h5M581.10,498.05h5M600.06,482.68V501.71M597.56,482.68h5M597.56,501.71h5M616.52,484.88V500.98M614.02,484.88h5M614.02,500.98h5M632.98,486.34V500.98M630.48,486.34h5M630.48,500.98h5M649.44,486.34V500.98M646.94,486.34h5M646.94,500.98h5M665.90,487.07V503.18M663.40,487.07h5M663.40,503.18h5" stroke="#111" stroke-width="1.1" fill="none" />
<circle cx="517.76" cy="471.70" r="2.6" fill="#111"/>
<circle cx="534.22" cy="469.50" r="2.6" fill="#111"/>
<circle cx="550.68" cy="472.43" r="2.6" fill="#111"/>
<circle cx="567.14" cy="479.75" r="2.6" fill="#111"/>
<circle cx="583.60" cy="488.54" r="2.6" fill="#111"/>
<circle cx="600.06" cy="492.20" r="2.6" fill="#111"/>
<circle cx="616.52" cy="492.93" r="2.6" fill="#111"/>
<circle cx="632.98" cy="493.66" r="2.6" fill="#111"/>
<circle cx="649.44" cy="493.66" r="2.6" fill="#111"/>
<circle cx="665.90" cy="495.12" r="2.6" fill="#111"/>
<line x1="510.60" y1="519.20" x2="525.60" y2="519.20" stroke="#111" stroke-width="1.1" stroke-dasharray="3,2.2"/>
<circle cx="517.60" cy="519.2" r="2.6" fill="#111"/>
<text x="530.10" y="522.50" font-size="9.1" fill="#222" stroke="#222" stroke-width="0.15" text-anchor="start" >Control (n=6)</text>
<line x1="510.60" y1="533.60" x2="525.60" y2="533.60" stroke="#ee2a2a" stroke-width="1.1" stroke-dasharray="3,2.2"/>
<circle cx="517.60" cy="533.6" r="2.6" fill="#ee2a2a"/>
<text x="530.10" y="536.90" font-size="9.1" fill="#222" stroke="#222" stroke-width="0.15" text-anchor="start" >+CGP (n=6)</text>
<path d="M590.40,516.1 H595.60 V535.6 H590.40" stroke="#222" stroke-width="1.1" fill="none" />
<text x="594.90" y="525.9" font-size="10.6" fill="#222" stroke="#222" stroke-width="0.3" text-anchor="middle" transform="rotate(90 594.90 525.9)">***</text>
<text x="612.70" y="522.60" font-size="9.1" fill="#222" stroke="#222" stroke-width="0.15" text-anchor="start" >F=19.15,</text>
<text x="612.70" y="534.30" font-size="9.1" fill="#222" stroke="#222" stroke-width="0.15" text-anchor="start" ><tspan font-style="italic">p</tspan>=9.9x10<tspan font-size="6" dy="-3">-5</tspan><tspan dy="3"> [CGP]</tspan></text>
<line x1="12.80" y1="54.50" x2="86.50" y2="54.50" stroke="#333" stroke-width="0.9" stroke-dasharray="2.2,1.3"/>
<line x1="10.00" y1="83.60" x2="86.50" y2="83.60" stroke="#333" stroke-width="0.9" stroke-dasharray="2.2,1.3"/>
<line x1="10.00" y1="133.60" x2="86.50" y2="133.60" stroke="#333" stroke-width="0.9" stroke-dasharray="2.2,1.3"/>
<text x="77.20" y="71.20" font-size="9.2" fill="#333" stroke="#333" stroke-width="0.15" text-anchor="start" >L1</text>
<text x="69.40" y="129.30" font-size="9.2" fill="#333" stroke="#333" stroke-width="0.15" text-anchor="start" >L2/3</text>
<text x="77.00" y="148.50" font-size="9.2" fill="#333" stroke="#333" stroke-width="0.15" text-anchor="start" >L4</text>
<path d="M42.4,76 Q40,70 38.6,66.6M38.6,66.6 Q35,61 32.4,55.5M38.6,66.6 Q34,64 29.6,62.5M38.6,66.6 L42.8,63.8 Q44,60 44.8,57.6 L46.9,55.3M42.6,78 Q46,70 47.6,63.8 L48.6,56.2M43,79 Q49,72 52.4,65.9 L54.5,60.4 L55.9,58M47.6,63.8 L51,57.5M44.8,57.6 L42,55.4M32.4,55.5 L30.5,54.2M35,60.5 L32.6,58.6M52.4,65.9 L56.5,63.2M40.5,92 Q39.5,85 38.5,80M45,93 Q46,86 47.2,80M44,88 L46.5,83.5M41,87 L39.2,83" stroke="#777" stroke-width="0.45" fill="none" stroke-linecap="round"/>
<path d="M42.7,109.2 L43.1,100 L42.8,90 L42.5,80 L42.4,76M43.00,100.00 L47.02,96.69 L51.04,93.37 L55.01,89.99 L58.70,86.30M55.01,89.99 L55.48,85.94M43.00,100.00 L38.30,98.75 L33.63,97.44 L29.20,95.40M38.30,98.75 L34.14,99.71M43.00,100.00 L46.77,99.89 L50.54,99.59 L54.30,100.10M46.77,99.89 L49.33,97.80M42.70,109.20 L39.60,107.93 L37.60,104.99 L34.33,103.99 L31.99,101.56 L28.48,100.92 L26.20,98.40M28.48,100.92 L27.22,98.81M39.60,107.93 L35.17,108.51M42.70,109.20 L38.91,108.84 L35.29,107.84 L31.75,106.56 L28.07,105.78 L24.82,103.47 L21.00,103.20M35.29,107.84 L31.88,109.74M28.07,105.78 L25.49,103.70M42.70,109.20 L39.39,108.55 L36.23,110.10 L32.97,110.19 L29.66,109.43 L26.44,110.11 L23.20,110.50M26.44,110.11 L23.45,108.99M32.97,110.19 L30.65,108.56M42.70,109.20 L39.98,110.70 L37.50,112.67 L34.68,113.98 L31.29,114.22 L28.53,115.66 L26.20,117.90M34.68,113.98 L30.59,114.30M34.68,113.98 L32.23,113.62M42.70,109.20 L41.42,111.97 L39.27,113.96 L36.17,115.09 L35.35,118.27 L32.57,119.69 L31.00,122.20M35.35,118.27 L31.14,119.27M36.17,115.09 L32.46,116.64M42.70,109.20 L40.78,111.99 L39.28,114.97 L39.39,118.68 L36.36,120.96 L36.53,124.71 L34.40,127.40M39.39,118.68 L36.45,119.85M36.53,124.71 L36.83,127.81M42.70,109.20 L42.75,112.42 L42.36,115.56 L41.64,118.63 L39.99,121.53 L38.81,124.52 L39.20,127.80M42.36,115.56 L43.27,119.16M39.99,121.53 L41.12,125.05M42.70,109.20 L42.27,112.13 L43.22,114.96 L43.51,117.84 L44.45,120.67 L42.95,123.68 L44.00,126.50M42.27,112.13 L40.99,114.72M42.95,123.68 L45.68,126.75M42.70,109.20 L44.44,111.68 L44.82,114.66 L46.36,117.21 L46.05,120.44 L48.09,122.81 L48.70,125.70M46.05,120.44 L49.14,121.86M46.05,120.44 L45.32,123.41M42.70,109.20 L44.71,111.02 L46.94,112.61 L48.48,114.88 L49.46,117.68 L51.37,119.59 L53.90,120.90M49.46,117.68 L50.46,121.01M51.37,119.59 L52.74,123.47M42.70,109.20 L46.15,109.72 L49.43,110.97 L53.06,110.69 L56.32,112.02 L59.59,113.32 L63.00,114.00M53.06,110.69 L56.40,113.73M53.06,110.69 L55.37,113.55M42.70,109.20 L45.42,108.01 L48.31,108.86 L51.06,108.05 L53.93,108.68 L56.69,108.04 L59.50,107.90M56.69,108.04 L60.10,109.74M53.93,108.68 L56.09,110.47" stroke="#555" stroke-width="0.42" fill="none" stroke-linecap="round"/>
<circle cx="42.7" cy="109.2" r="1.1" fill="#111"/>
<defs><linearGradient id="pg1" x1="42.9" y1="109.1" x2="71.4" y2="99.19999999999999" gradientUnits="userSpaceOnUse"><stop offset="0" stop-color="#111"/><stop offset="0.7" stop-color="#555"/><stop offset="1" stop-color="#aaa"/></linearGradient></defs>
<polygon points="42.90,109.10 71.40,96.10 72.00,99.20 71.40,102.30" fill="url(#pg1)" stroke="#444" stroke-width="0.4"/>
<path d="M71.60,99.40H81.40V106.10" stroke="#666" stroke-width="0.8" fill="none" />
<polygon points="78.10,106.10 87.90,106.10 83.00,113.40" fill="#fff" stroke="#666" stroke-width="0.8"/>
<line x1="83.00" y1="113.40" x2="83.00" y2="118.90" stroke="#777" stroke-width="0.8" />
<polygon points="84.10,105.70 84.10,96.80 82.00,96.80 85.00,93.00 88.00,96.80 85.90,96.80 85.90,105.70" fill="#b3b3b3"/>
<polygon points="3.50,54.20 9.50,51.50 12.30,55.60 11.50,56.30 14.40,59.30 13.70,60.00 18.60,66.40 10.20,62.30 11.00,61.10 6.30,58.40 7.50,57.30" fill="#f4f02c" stroke="#111" stroke-width="1.2" stroke-linejoin="miter"/>
<polygon points="14.90,67.90 27.40,67.90 27.40,65.00 35.60,69.40 27.40,73.80 27.40,70.90 14.90,70.90" fill="#888"/>
<polygon points="26.50,137.40 32.50,134.70 35.30,138.80 34.50,139.50 37.40,142.50 36.70,143.20 41.60,149.60 33.20,145.50 34.00,144.30 29.30,141.60 30.50,140.50" fill="#f4f02c" stroke="#111" stroke-width="1.2" stroke-linejoin="miter"/>
<polygon points="40.60,146.80 40.60,136.80 38.20,136.80 42.20,129.30 46.20,136.80 43.80,136.80 43.80,146.80" fill="#888"/>
<line x1="6.00" y1="232.50" x2="83.00" y2="232.50" stroke="#888" stroke-width="0.9" stroke-dasharray="2.2,1.3"/>
<line x1="6.00" y1="262.40" x2="83.00" y2="262.40" stroke="#333" stroke-width="0.9" stroke-dasharray="2.2,1.3"/>
<line x1="5.20" y1="311.10" x2="83.00" y2="311.10" stroke="#333" stroke-width="0.9" stroke-dasharray="2.2,1.3"/>
<line x1="4.30" y1="324.10" x2="81.30" y2="324.10" stroke="#333" stroke-width="0.9" stroke-dasharray="2.2,1.3"/>
<text x="72.50" y="259.50" font-size="9.2" fill="#333" stroke="#333" stroke-width="0.15" text-anchor="start" >L1</text>
<text x="65.50" y="306.00" font-size="9.2" fill="#333" stroke="#333" stroke-width="0.15" text-anchor="start" >L2/3</text>
<text x="72.50" y="320.70" font-size="9.2" fill="#333" stroke="#333" stroke-width="0.15" text-anchor="start" >L4</text>
<text x="72.50" y="337.00" font-size="9.2" fill="#333" stroke="#333" stroke-width="0.15" text-anchor="start" >L5</text>
<path d="M43.6,354.6 L44.6,340 L46.6,320 L48,300 L48.8,285 L49,274" stroke="#333" stroke-width="0.75" fill="none" />
<path d="M49,274 Q44,265 41,258 Q38,250 37.5,243M49,274 Q47,262 48,252 L47,242M49,273 Q52,262 56,252 L60,244M50,272 Q58,266 66,258 L70.5,256.5M48,272 Q40,270 35,262 L31,255M41,258 L36,255M48,252 L52,246M56,252 L64,247 L68,246.5M37.5,243 L35.5,240.5M60,244 L63,240.5M47,242 L45,240M44,268 Q42.5,272 45,275 L49,276M33,258 L30.5,258.5M49,274 Q50.5,262 52,254 L54.5,246M45.5,266 L41,262.5 L38,262.8M52,262 L57.5,258.5M48,258 L44.5,250 L42.5,244M60,253 L66,252.5M44,262 L38.5,254 L34.5,250.5M54,250 L51,244" stroke="#8a8a8a" stroke-width="0.45" fill="none" stroke-linecap="round"/>
<path d="M44.50,345.00 L42.05,343.66 L39.55,342.40 L36.92,341.36 L35.16,338.83 L31.97,338.77 L30.00,336.60M31.97,338.77 L31.23,336.26M31.97,338.77 L29.20,339.23M44.80,340.00 L44.02,337.17 L42.56,334.75 L40.28,332.82 L38.42,330.64 L36.78,328.34 L36.00,325.50M42.56,334.75 L39.47,333.73M44.02,337.17 L43.83,334.25M45.00,338.00 L46.87,336.22 L48.44,334.23 L49.70,332.03 L51.34,330.09 L52.01,327.48 L53.60,325.50M49.70,332.03 L50.23,327.75M51.34,330.09 L50.69,325.91M45.50,335.00 L47.02,333.28 L48.98,332.26 L51.33,331.86 L53.30,330.87 L55.28,329.87 L56.70,328.00M47.02,333.28 L47.89,330.55M48.98,332.26 L51.58,331.86M44.50,345.00 L47.47,344.00 L50.10,342.05 L53.10,341.10 L56.30,340.73 L59.51,340.38 L62.20,338.60M56.30,340.73 L58.64,337.74M47.47,344.00 L50.03,341.28M44.20,348.00 L40.92,346.07 L36.88,346.46 L33.63,344.46 L30.13,343.22 L26.34,342.85 L23.00,341.10M33.63,344.46 L29.73,344.98M36.88,346.46 L34.48,347.29M45.60,330.00 L44.47,328.81 L43.99,327.15 L42.93,325.91 L42.27,324.38 L40.32,323.76 L40.00,322.00M42.93,325.91 L39.34,325.12M42.27,324.38 L38.11,322.63M45.80,328.00 L46.93,326.92 L47.22,325.09 L49.30,324.86 L49.70,323.13 L50.88,322.09 L52.00,321.00M47.22,325.09 L47.68,321.99M46.93,326.92 L49.55,326.41M44.60,343.00 L47.14,341.74 L48.56,338.98 L51.60,338.40 L53.86,336.78 L55.76,334.66 L58.00,333.00M48.56,338.98 L49.59,336.23M53.86,336.78 L57.46,337.29M43.60,354.60 L39.44,354.63 L35.48,353.55 L31.63,351.93 L27.68,350.79 L23.33,351.87 L19.50,350.10M35.48,353.55 L32.90,349.84M23.33,351.87 L20.81,352.43M43.60,354.60 L40.86,357.23 L37.54,359.00 L34.16,360.70 L30.62,362.15 L28.28,365.36 L25.00,367.20M37.54,359.00 L34.80,358.92M40.86,357.23 L38.28,357.02M43.60,354.60 L41.58,357.10 L39.06,359.17 L36.86,361.52 L35.39,364.50 L32.46,366.21 L31.00,369.20M39.06,359.17 L34.81,359.82M35.39,364.50 L33.06,365.54M43.60,354.60 L42.44,357.18 L42.06,360.08 L40.04,362.29 L40.04,365.36 L37.53,367.36 L37.00,370.20M42.06,360.08 L42.34,363.51M37.53,367.36 L34.87,369.78M43.60,354.60 L42.57,357.99 L42.44,361.59 L42.03,365.12 L39.94,368.25 L39.26,371.72 L38.60,375.20M39.26,371.72 L36.58,374.05M39.26,371.72 L41.05,374.91M43.60,354.60 L42.43,357.65 L44.22,360.85 L43.71,363.93 L43.73,367.04 L43.65,370.15 L42.60,373.20M43.73,367.04 L41.74,370.88M42.43,357.65 L44.48,361.42M43.60,354.60 L45.72,357.70 L46.12,361.60 L47.89,364.87 L49.68,368.12 L50.77,371.70 L53.10,374.70M45.72,357.70 L49.15,359.50M49.68,368.12 L51.62,369.74M43.60,354.60 L46.36,357.47 L50.36,358.75 L53.54,361.09 L55.83,364.55 L59.04,366.85 L62.20,369.20M55.83,364.55 L58.44,364.51M46.36,357.47 L48.50,361.37M43.60,354.60 L46.45,356.05 L49.05,358.10 L51.98,359.38 L55.04,360.34 L58.61,360.14 L61.20,362.20M51.98,359.38 L54.66,358.91M49.05,358.10 L51.75,358.00M43.60,354.60 L43.40,357.74 L44.05,360.66 L46.07,363.23 L46.02,366.33 L47.34,369.08 L48.00,372.00M47.34,369.08 L50.04,371.73M44.05,360.66 L46.46,363.24M43.60,354.60 L41.14,355.82 L38.43,355.86 L35.59,355.35 L33.42,357.89 L30.79,358.29 L28.00,358.00M33.42,357.89 L31.49,360.75M35.59,355.35 L33.09,358.31M43.60,354.60 L46.08,354.03 L48.50,354.06 L50.87,354.61 L53.23,355.21 L55.50,356.82 L58.00,356.00M53.23,355.21 L56.71,352.55M46.08,354.03 L48.78,352.79" stroke="#666" stroke-width="0.42" fill="none" stroke-linecap="round"/>
<circle cx="43.6" cy="354.6" r="1.1" fill="#111"/>
<defs><linearGradient id="pg2" x1="43.8" y1="354.4" x2="72.2" y2="345.29999999999995" gradientUnits="userSpaceOnUse"><stop offset="0" stop-color="#111"/><stop offset="0.7" stop-color="#555"/><stop offset="1" stop-color="#aaa"/></linearGradient></defs>
<polygon points="43.80,354.40 72.20,342.20 72.80,345.30 72.20,348.40" fill="url(#pg2)" stroke="#444" stroke-width="0.4"/>
<path d="M72.40,345.30H81.00V351.80" stroke="#666" stroke-width="0.8" fill="none" />
<polygon points="77.80,351.80 87.60,351.80 82.70,359.10" fill="#fff" stroke="#666" stroke-width="0.8"/>
<line x1="82.70" y1="359.10" x2="82.70" y2="364.80" stroke="#777" stroke-width="0.8" />
<polygon points="85.10,351.80 85.10,342.60 83.00,342.60 86.00,338.80 89.00,342.60 86.90,342.60 86.90,351.80" fill="#b3b3b3"/>
<polygon points="1.71,239.76 7.83,237.01 10.68,241.19 9.87,241.90 12.82,244.96 12.11,245.68 17.11,252.20 8.54,248.02 9.36,246.80 4.56,244.04 5.79,242.92" fill="#f4f02c" stroke="#111" stroke-width="1.2" stroke-linejoin="miter"/>
<polygon points="13.00,253.00 25.50,253.00 25.50,250.10 33.70,254.50 25.50,258.90 25.50,256.00 13.00,256.00" fill="#888"/>
<polygon points="1.71,341.06 7.83,338.31 10.68,342.49 9.87,343.20 12.82,346.26 12.11,346.98 17.11,353.50 8.54,349.32 9.36,348.10 4.56,345.34 5.79,344.22" fill="#f4f02c" stroke="#111" stroke-width="1.2" stroke-linejoin="miter"/>
<polygon points="13.00,354.60 25.50,354.60 25.50,351.70 33.70,356.10 25.50,360.50 25.50,357.60 13.00,357.60" fill="#888"/>
</svg></body></html>
